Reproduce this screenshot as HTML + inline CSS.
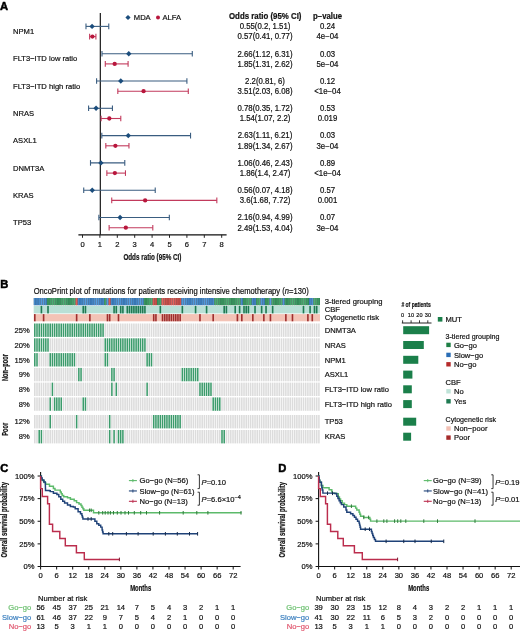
<!DOCTYPE html>
<html><head><meta charset="utf-8"><style>
html,body{margin:0;padding:0;background:#fff;}
svg{display:block;font-family:"Liberation Sans", sans-serif;will-change:transform;}
text{stroke:currentColor;stroke-width:0.2px;}
</style></head><body>
<svg width="520" height="631" viewBox="0 0 520 631">
<rect width="520" height="631" fill="#fff"/>
<text x="0.00" y="10.00" font-size="11.2" fill="#000" color="#000" font-weight="bold" style="stroke-width:0.5px">A</text>
<line x1="100.35" y1="12.90" x2="100.35" y2="234.80" stroke="#2a2a2a" stroke-width="1.3"/>
<line x1="78.40" y1="234.80" x2="226.60" y2="234.80" stroke="#111" stroke-width="1.3"/>
<line x1="82.50" y1="234.80" x2="82.50" y2="237.80" stroke="#222" stroke-width="1"/>
<text x="82.50" y="247.00" font-size="7.94" fill="#111" color="#111" text-anchor="middle" textLength="4.23" lengthAdjust="spacingAndGlyphs">0</text>
<line x1="99.90" y1="234.80" x2="99.90" y2="237.80" stroke="#222" stroke-width="1"/>
<text x="99.90" y="247.00" font-size="7.94" fill="#111" color="#111" text-anchor="middle" textLength="4.23" lengthAdjust="spacingAndGlyphs">1</text>
<line x1="117.30" y1="234.80" x2="117.30" y2="237.80" stroke="#222" stroke-width="1"/>
<text x="117.30" y="247.00" font-size="7.94" fill="#111" color="#111" text-anchor="middle" textLength="4.23" lengthAdjust="spacingAndGlyphs">2</text>
<line x1="134.70" y1="234.80" x2="134.70" y2="237.80" stroke="#222" stroke-width="1"/>
<text x="134.70" y="247.00" font-size="7.94" fill="#111" color="#111" text-anchor="middle" textLength="4.23" lengthAdjust="spacingAndGlyphs">3</text>
<line x1="152.10" y1="234.80" x2="152.10" y2="237.80" stroke="#222" stroke-width="1"/>
<text x="152.10" y="247.00" font-size="7.94" fill="#111" color="#111" text-anchor="middle" textLength="4.23" lengthAdjust="spacingAndGlyphs">4</text>
<line x1="169.50" y1="234.80" x2="169.50" y2="237.80" stroke="#222" stroke-width="1"/>
<text x="169.50" y="247.00" font-size="7.94" fill="#111" color="#111" text-anchor="middle" textLength="4.23" lengthAdjust="spacingAndGlyphs">5</text>
<line x1="186.90" y1="234.80" x2="186.90" y2="237.80" stroke="#222" stroke-width="1"/>
<text x="186.90" y="247.00" font-size="7.94" fill="#111" color="#111" text-anchor="middle" textLength="4.23" lengthAdjust="spacingAndGlyphs">6</text>
<line x1="204.30" y1="234.80" x2="204.30" y2="237.80" stroke="#222" stroke-width="1"/>
<text x="204.30" y="247.00" font-size="7.94" fill="#111" color="#111" text-anchor="middle" textLength="4.23" lengthAdjust="spacingAndGlyphs">7</text>
<line x1="221.70" y1="234.80" x2="221.70" y2="237.80" stroke="#222" stroke-width="1"/>
<text x="221.70" y="247.00" font-size="7.94" fill="#111" color="#111" text-anchor="middle" textLength="4.23" lengthAdjust="spacingAndGlyphs">8</text>
<text x="152.40" y="260.00" font-size="8.78" fill="#111" color="#111" text-anchor="middle" font-weight="bold" textLength="58" lengthAdjust="spacingAndGlyphs">Odds ratio (95% CI)</text>
<text x="229.00" y="19.30" font-size="8.15" fill="#111" color="#111" font-weight="bold" textLength="72.5" lengthAdjust="spacingAndGlyphs">Odds ratio (95% CI)</text>
<text x="313.00" y="19.30" font-size="8.15" fill="#111" color="#111" font-weight="bold" textLength="29" lengthAdjust="spacingAndGlyphs">p−value</text>
<path d="M125.40 17.50L128.00 14.90L130.60 17.50L128.00 20.10Z" fill="#1b4d7c"/>
<text x="133.80" y="20.20" font-size="7.94" fill="#111" color="#111" textLength="16.89" lengthAdjust="spacingAndGlyphs">MDA</text>
<circle cx="158" cy="17.5" r="2.0" fill="#b8163c"/>
<text x="162.50" y="20.20" font-size="7.94" fill="#111" color="#111" textLength="18.59" lengthAdjust="spacingAndGlyphs">ALFA</text>
<text x="13.00" y="34.10" font-size="7.94" fill="#111" color="#111" textLength="21.12" lengthAdjust="spacingAndGlyphs">NPM1</text>
<line x1="85.98" y1="26.40" x2="108.77" y2="26.40" stroke="#3a5d80" stroke-width="1.1"/>
<line x1="85.98" y1="23.60" x2="85.98" y2="29.20" stroke="#3a5d80" stroke-width="1.1"/>
<line x1="108.77" y1="23.60" x2="108.77" y2="29.20" stroke="#3a5d80" stroke-width="1.1"/>
<path d="M89.37 26.40L92.07 23.70L94.77 26.40L92.07 29.10Z" fill="#1b4d7c"/>
<line x1="89.63" y1="36.60" x2="95.90" y2="36.60" stroke="#c23a5c" stroke-width="1.1"/>
<line x1="89.63" y1="33.80" x2="89.63" y2="39.40" stroke="#c23a5c" stroke-width="1.1"/>
<line x1="95.90" y1="33.80" x2="95.90" y2="39.40" stroke="#c23a5c" stroke-width="1.1"/>
<circle cx="92.42" cy="36.60" r="2.15" fill="#b8163c"/>
<text x="265.00" y="29.20" font-size="8.15" fill="#111" color="#111" text-anchor="middle" textLength="50.73" lengthAdjust="spacingAndGlyphs">0.55(0.2, 1.51)</text>
<text x="265.00" y="39.40" font-size="8.15" fill="#111" color="#111" text-anchor="middle" textLength="55.07" lengthAdjust="spacingAndGlyphs">0.57(0.41, 0.77)</text>
<text x="327.50" y="29.20" font-size="8.15" fill="#111" color="#111" text-anchor="middle" textLength="15.18" lengthAdjust="spacingAndGlyphs">0.24</text>
<text x="327.50" y="39.40" font-size="8.15" fill="#111" color="#111" text-anchor="middle" textLength="21.91" lengthAdjust="spacingAndGlyphs">4e−04</text>
<text x="13.00" y="61.40" font-size="7.94" fill="#111" color="#111" textLength="64.27" lengthAdjust="spacingAndGlyphs">FLT3−ITD low ratio</text>
<line x1="101.99" y1="53.70" x2="192.29" y2="53.70" stroke="#3a5d80" stroke-width="1.1"/>
<line x1="101.99" y1="50.90" x2="101.99" y2="56.50" stroke="#3a5d80" stroke-width="1.1"/>
<line x1="192.29" y1="50.90" x2="192.29" y2="56.50" stroke="#3a5d80" stroke-width="1.1"/>
<path d="M126.08 53.70L128.78 51.00L131.48 53.70L128.78 56.40Z" fill="#1b4d7c"/>
<line x1="105.29" y1="63.90" x2="128.09" y2="63.90" stroke="#c23a5c" stroke-width="1.1"/>
<line x1="105.29" y1="61.10" x2="105.29" y2="66.70" stroke="#c23a5c" stroke-width="1.1"/>
<line x1="128.09" y1="61.10" x2="128.09" y2="66.70" stroke="#c23a5c" stroke-width="1.1"/>
<circle cx="114.69" cy="63.90" r="2.15" fill="#b8163c"/>
<text x="265.00" y="56.50" font-size="8.15" fill="#111" color="#111" text-anchor="middle" textLength="55.07" lengthAdjust="spacingAndGlyphs">2.66(1.12, 6.31)</text>
<text x="265.00" y="66.70" font-size="8.15" fill="#111" color="#111" text-anchor="middle" textLength="55.07" lengthAdjust="spacingAndGlyphs">1.85(1.31, 2.62)</text>
<text x="327.50" y="56.50" font-size="8.15" fill="#111" color="#111" text-anchor="middle" textLength="15.18" lengthAdjust="spacingAndGlyphs">0.03</text>
<text x="327.50" y="66.70" font-size="8.15" fill="#111" color="#111" text-anchor="middle" textLength="21.91" lengthAdjust="spacingAndGlyphs">5e−04</text>
<text x="13.00" y="88.70" font-size="7.94" fill="#111" color="#111" textLength="67.23" lengthAdjust="spacingAndGlyphs">FLT3−ITD high ratio</text>
<line x1="96.59" y1="81.00" x2="186.90" y2="81.00" stroke="#3a5d80" stroke-width="1.1"/>
<line x1="96.59" y1="78.20" x2="96.59" y2="83.80" stroke="#3a5d80" stroke-width="1.1"/>
<line x1="186.90" y1="78.20" x2="186.90" y2="83.80" stroke="#3a5d80" stroke-width="1.1"/>
<path d="M118.08 81.00L120.78 78.30L123.48 81.00L120.78 83.70Z" fill="#1b4d7c"/>
<line x1="117.82" y1="91.20" x2="188.29" y2="91.20" stroke="#c23a5c" stroke-width="1.1"/>
<line x1="117.82" y1="88.40" x2="117.82" y2="94.00" stroke="#c23a5c" stroke-width="1.1"/>
<line x1="188.29" y1="88.40" x2="188.29" y2="94.00" stroke="#c23a5c" stroke-width="1.1"/>
<circle cx="143.57" cy="91.20" r="2.15" fill="#b8163c"/>
<text x="265.00" y="83.80" font-size="8.15" fill="#111" color="#111" text-anchor="middle" textLength="39.89" lengthAdjust="spacingAndGlyphs">2.2(0.81, 6)</text>
<text x="265.00" y="94.00" font-size="8.15" fill="#111" color="#111" text-anchor="middle" textLength="55.07" lengthAdjust="spacingAndGlyphs">3.51(2.03, 6.08)</text>
<text x="327.50" y="83.80" font-size="8.15" fill="#111" color="#111" text-anchor="middle" textLength="15.18" lengthAdjust="spacingAndGlyphs">0.12</text>
<text x="327.50" y="94.00" font-size="8.15" fill="#111" color="#111" text-anchor="middle" textLength="26.46" lengthAdjust="spacingAndGlyphs">&lt;1e−04</text>
<text x="13.00" y="116.00" font-size="7.94" fill="#111" color="#111" textLength="21.12" lengthAdjust="spacingAndGlyphs">NRAS</text>
<line x1="88.59" y1="108.30" x2="112.43" y2="108.30" stroke="#3a5d80" stroke-width="1.1"/>
<line x1="88.59" y1="105.50" x2="88.59" y2="111.10" stroke="#3a5d80" stroke-width="1.1"/>
<line x1="112.43" y1="105.50" x2="112.43" y2="111.10" stroke="#3a5d80" stroke-width="1.1"/>
<path d="M93.37 108.30L96.07 105.60L98.77 108.30L96.07 111.00Z" fill="#1b4d7c"/>
<line x1="101.12" y1="118.50" x2="120.78" y2="118.50" stroke="#c23a5c" stroke-width="1.1"/>
<line x1="101.12" y1="115.70" x2="101.12" y2="121.30" stroke="#c23a5c" stroke-width="1.1"/>
<line x1="120.78" y1="115.70" x2="120.78" y2="121.30" stroke="#c23a5c" stroke-width="1.1"/>
<circle cx="109.30" cy="118.50" r="2.15" fill="#b8163c"/>
<text x="265.00" y="111.10" font-size="8.15" fill="#111" color="#111" text-anchor="middle" textLength="55.07" lengthAdjust="spacingAndGlyphs">0.78(0.35, 1.72)</text>
<text x="265.00" y="121.30" font-size="8.15" fill="#111" color="#111" text-anchor="middle" textLength="50.73" lengthAdjust="spacingAndGlyphs">1.54(1.07, 2.2)</text>
<text x="327.50" y="111.10" font-size="8.15" fill="#111" color="#111" text-anchor="middle" textLength="15.18" lengthAdjust="spacingAndGlyphs">0.53</text>
<text x="327.50" y="121.30" font-size="8.15" fill="#111" color="#111" text-anchor="middle" textLength="19.52" lengthAdjust="spacingAndGlyphs">0.019</text>
<text x="13.00" y="143.30" font-size="7.94" fill="#111" color="#111" textLength="23.66" lengthAdjust="spacingAndGlyphs">ASXL1</text>
<line x1="101.81" y1="135.60" x2="190.55" y2="135.60" stroke="#3a5d80" stroke-width="1.1"/>
<line x1="101.81" y1="132.80" x2="101.81" y2="138.40" stroke="#3a5d80" stroke-width="1.1"/>
<line x1="190.55" y1="132.80" x2="190.55" y2="138.40" stroke="#3a5d80" stroke-width="1.1"/>
<path d="M125.56 135.60L128.26 132.90L130.96 135.60L128.26 138.30Z" fill="#1b4d7c"/>
<line x1="105.82" y1="145.80" x2="128.96" y2="145.80" stroke="#c23a5c" stroke-width="1.1"/>
<line x1="105.82" y1="143.00" x2="105.82" y2="148.60" stroke="#c23a5c" stroke-width="1.1"/>
<line x1="128.96" y1="143.00" x2="128.96" y2="148.60" stroke="#c23a5c" stroke-width="1.1"/>
<circle cx="115.39" cy="145.80" r="2.15" fill="#b8163c"/>
<text x="265.00" y="138.40" font-size="8.15" fill="#111" color="#111" text-anchor="middle" textLength="54.49" lengthAdjust="spacingAndGlyphs">2.63(1.11, 6.21)</text>
<text x="265.00" y="148.60" font-size="8.15" fill="#111" color="#111" text-anchor="middle" textLength="55.07" lengthAdjust="spacingAndGlyphs">1.89(1.34, 2.67)</text>
<text x="327.50" y="138.40" font-size="8.15" fill="#111" color="#111" text-anchor="middle" textLength="15.18" lengthAdjust="spacingAndGlyphs">0.03</text>
<text x="327.50" y="148.60" font-size="8.15" fill="#111" color="#111" text-anchor="middle" textLength="21.91" lengthAdjust="spacingAndGlyphs">3e−04</text>
<text x="13.00" y="170.60" font-size="7.94" fill="#111" color="#111" textLength="31.25" lengthAdjust="spacingAndGlyphs">DNMT3A</text>
<line x1="90.50" y1="162.90" x2="124.78" y2="162.90" stroke="#3a5d80" stroke-width="1.1"/>
<line x1="90.50" y1="160.10" x2="90.50" y2="165.70" stroke="#3a5d80" stroke-width="1.1"/>
<line x1="124.78" y1="160.10" x2="124.78" y2="165.70" stroke="#3a5d80" stroke-width="1.1"/>
<path d="M98.24 162.90L100.94 160.20L103.64 162.90L100.94 165.60Z" fill="#1b4d7c"/>
<line x1="106.86" y1="173.10" x2="125.48" y2="173.10" stroke="#c23a5c" stroke-width="1.1"/>
<line x1="106.86" y1="170.30" x2="106.86" y2="175.90" stroke="#c23a5c" stroke-width="1.1"/>
<line x1="125.48" y1="170.30" x2="125.48" y2="175.90" stroke="#c23a5c" stroke-width="1.1"/>
<circle cx="114.86" cy="173.10" r="2.15" fill="#b8163c"/>
<text x="265.00" y="165.70" font-size="8.15" fill="#111" color="#111" text-anchor="middle" textLength="55.07" lengthAdjust="spacingAndGlyphs">1.06(0.46, 2.43)</text>
<text x="265.00" y="175.90" font-size="8.15" fill="#111" color="#111" text-anchor="middle" textLength="50.73" lengthAdjust="spacingAndGlyphs">1.86(1.4, 2.47)</text>
<text x="327.50" y="165.70" font-size="8.15" fill="#111" color="#111" text-anchor="middle" textLength="15.18" lengthAdjust="spacingAndGlyphs">0.89</text>
<text x="327.50" y="175.90" font-size="8.15" fill="#111" color="#111" text-anchor="middle" textLength="26.46" lengthAdjust="spacingAndGlyphs">&lt;1e−04</text>
<text x="13.00" y="197.90" font-size="7.94" fill="#111" color="#111" textLength="20.7" lengthAdjust="spacingAndGlyphs">KRAS</text>
<line x1="83.72" y1="190.20" x2="155.23" y2="190.20" stroke="#3a5d80" stroke-width="1.1"/>
<line x1="83.72" y1="187.40" x2="83.72" y2="193.00" stroke="#3a5d80" stroke-width="1.1"/>
<line x1="155.23" y1="187.40" x2="155.23" y2="193.00" stroke="#3a5d80" stroke-width="1.1"/>
<path d="M89.54 190.20L92.24 187.50L94.94 190.20L92.24 192.90Z" fill="#1b4d7c"/>
<line x1="111.73" y1="200.40" x2="216.83" y2="200.40" stroke="#c23a5c" stroke-width="1.1"/>
<line x1="111.73" y1="197.60" x2="111.73" y2="203.20" stroke="#c23a5c" stroke-width="1.1"/>
<line x1="216.83" y1="197.60" x2="216.83" y2="203.20" stroke="#c23a5c" stroke-width="1.1"/>
<circle cx="145.14" cy="200.40" r="2.15" fill="#b8163c"/>
<text x="265.00" y="193.00" font-size="8.15" fill="#111" color="#111" text-anchor="middle" textLength="55.07" lengthAdjust="spacingAndGlyphs">0.56(0.07, 4.18)</text>
<text x="265.00" y="203.20" font-size="8.15" fill="#111" color="#111" text-anchor="middle" textLength="50.73" lengthAdjust="spacingAndGlyphs">3.6(1.68, 7.72)</text>
<text x="327.50" y="193.00" font-size="8.15" fill="#111" color="#111" text-anchor="middle" textLength="15.18" lengthAdjust="spacingAndGlyphs">0.57</text>
<text x="327.50" y="203.20" font-size="8.15" fill="#111" color="#111" text-anchor="middle" textLength="19.52" lengthAdjust="spacingAndGlyphs">0.001</text>
<text x="13.00" y="225.20" font-size="7.94" fill="#111" color="#111" textLength="18.17" lengthAdjust="spacingAndGlyphs">TP53</text>
<line x1="98.86" y1="217.50" x2="169.33" y2="217.50" stroke="#3a5d80" stroke-width="1.1"/>
<line x1="98.86" y1="214.70" x2="98.86" y2="220.30" stroke="#3a5d80" stroke-width="1.1"/>
<line x1="169.33" y1="214.70" x2="169.33" y2="220.30" stroke="#3a5d80" stroke-width="1.1"/>
<path d="M117.38 217.50L120.08 214.80L122.78 217.50L120.08 220.20Z" fill="#1b4d7c"/>
<line x1="109.12" y1="227.70" x2="152.80" y2="227.70" stroke="#c23a5c" stroke-width="1.1"/>
<line x1="109.12" y1="224.90" x2="109.12" y2="230.50" stroke="#c23a5c" stroke-width="1.1"/>
<line x1="152.80" y1="224.90" x2="152.80" y2="230.50" stroke="#c23a5c" stroke-width="1.1"/>
<circle cx="125.83" cy="227.70" r="2.15" fill="#b8163c"/>
<text x="265.00" y="220.30" font-size="8.15" fill="#111" color="#111" text-anchor="middle" textLength="55.07" lengthAdjust="spacingAndGlyphs">2.16(0.94, 4.99)</text>
<text x="265.00" y="230.50" font-size="8.15" fill="#111" color="#111" text-anchor="middle" textLength="55.07" lengthAdjust="spacingAndGlyphs">2.49(1.53, 4.04)</text>
<text x="327.50" y="220.30" font-size="8.15" fill="#111" color="#111" text-anchor="middle" textLength="15.18" lengthAdjust="spacingAndGlyphs">0.07</text>
<text x="327.50" y="230.50" font-size="8.15" fill="#111" color="#111" text-anchor="middle" textLength="21.91" lengthAdjust="spacingAndGlyphs">3e−04</text>
<text x="0.30" y="287.60" font-size="11.2" fill="#000" color="#000" font-weight="bold" style="stroke-width:0.5px">B</text>
<text x="33.70" y="294.00" font-size="8.36" fill="#111" color="#111" textLength="275" lengthAdjust="spacingAndGlyphs">OncoPrint plot of mutations for patients receiving intensive chemotherapy (<tspan font-style="italic">n</tspan>=130)</text>
<rect x="33.70" y="298.00" width="2.20" height="7.20" fill="#24578f"/>
<rect x="34.25" y="298.00" width="1.10" height="7.20" fill="#559ee0"/>
<rect x="35.90" y="298.00" width="2.20" height="7.20" fill="#24578f"/>
<rect x="36.45" y="298.00" width="1.10" height="7.20" fill="#559ee0"/>
<rect x="38.10" y="298.00" width="2.20" height="7.20" fill="#24578f"/>
<rect x="38.65" y="298.00" width="1.10" height="7.20" fill="#559ee0"/>
<rect x="40.31" y="298.00" width="2.20" height="7.20" fill="#24578f"/>
<rect x="40.86" y="298.00" width="1.10" height="7.20" fill="#559ee0"/>
<rect x="42.51" y="298.00" width="2.20" height="7.20" fill="#24578f"/>
<rect x="43.06" y="298.00" width="1.10" height="7.20" fill="#559ee0"/>
<rect x="44.71" y="298.00" width="2.20" height="7.20" fill="#24578f"/>
<rect x="45.26" y="298.00" width="1.10" height="7.20" fill="#559ee0"/>
<rect x="46.91" y="298.00" width="2.20" height="7.20" fill="#1f6a42"/>
<rect x="47.46" y="298.00" width="1.10" height="7.20" fill="#4cb072"/>
<rect x="49.12" y="298.00" width="2.20" height="7.20" fill="#1f6a42"/>
<rect x="49.67" y="298.00" width="1.10" height="7.20" fill="#4cb072"/>
<rect x="51.32" y="298.00" width="2.20" height="7.20" fill="#1f6a42"/>
<rect x="51.87" y="298.00" width="1.10" height="7.20" fill="#4cb072"/>
<rect x="53.52" y="298.00" width="2.20" height="7.20" fill="#1f6a42"/>
<rect x="54.07" y="298.00" width="1.10" height="7.20" fill="#4cb072"/>
<rect x="55.72" y="298.00" width="2.20" height="7.20" fill="#1f6a42"/>
<rect x="56.27" y="298.00" width="1.10" height="7.20" fill="#4cb072"/>
<rect x="57.93" y="298.00" width="2.20" height="7.20" fill="#1f6a42"/>
<rect x="58.48" y="298.00" width="1.10" height="7.20" fill="#4cb072"/>
<rect x="60.13" y="298.00" width="2.20" height="7.20" fill="#1f6a42"/>
<rect x="60.68" y="298.00" width="1.10" height="7.20" fill="#4cb072"/>
<rect x="62.33" y="298.00" width="2.20" height="7.20" fill="#1f6a42"/>
<rect x="62.88" y="298.00" width="1.10" height="7.20" fill="#4cb072"/>
<rect x="64.53" y="298.00" width="2.20" height="7.20" fill="#1f6a42"/>
<rect x="65.08" y="298.00" width="1.10" height="7.20" fill="#4cb072"/>
<rect x="66.73" y="298.00" width="2.20" height="7.20" fill="#1f6a42"/>
<rect x="67.28" y="298.00" width="1.10" height="7.20" fill="#4cb072"/>
<rect x="68.94" y="298.00" width="2.20" height="7.20" fill="#1f6a42"/>
<rect x="69.49" y="298.00" width="1.10" height="7.20" fill="#4cb072"/>
<rect x="71.14" y="298.00" width="2.20" height="7.20" fill="#1f6a42"/>
<rect x="71.69" y="298.00" width="1.10" height="7.20" fill="#4cb072"/>
<rect x="73.34" y="298.00" width="2.20" height="7.20" fill="#1f6a42"/>
<rect x="73.89" y="298.00" width="1.10" height="7.20" fill="#4cb072"/>
<rect x="75.54" y="298.00" width="2.20" height="7.20" fill="#8e3030"/>
<rect x="76.09" y="298.00" width="1.10" height="7.20" fill="#e6645c"/>
<rect x="77.75" y="298.00" width="2.20" height="7.20" fill="#24578f"/>
<rect x="78.30" y="298.00" width="1.10" height="7.20" fill="#559ee0"/>
<rect x="79.95" y="298.00" width="2.20" height="7.20" fill="#24578f"/>
<rect x="80.50" y="298.00" width="1.10" height="7.20" fill="#559ee0"/>
<rect x="82.15" y="298.00" width="2.20" height="7.20" fill="#24578f"/>
<rect x="82.70" y="298.00" width="1.10" height="7.20" fill="#559ee0"/>
<rect x="84.35" y="298.00" width="2.20" height="7.20" fill="#24578f"/>
<rect x="84.90" y="298.00" width="1.10" height="7.20" fill="#559ee0"/>
<rect x="86.56" y="298.00" width="2.20" height="7.20" fill="#24578f"/>
<rect x="87.11" y="298.00" width="1.10" height="7.20" fill="#559ee0"/>
<rect x="88.76" y="298.00" width="2.20" height="7.20" fill="#24578f"/>
<rect x="89.31" y="298.00" width="1.10" height="7.20" fill="#559ee0"/>
<rect x="90.96" y="298.00" width="2.20" height="7.20" fill="#24578f"/>
<rect x="91.51" y="298.00" width="1.10" height="7.20" fill="#559ee0"/>
<rect x="93.16" y="298.00" width="2.20" height="7.20" fill="#24578f"/>
<rect x="93.71" y="298.00" width="1.10" height="7.20" fill="#559ee0"/>
<rect x="95.36" y="298.00" width="2.20" height="7.20" fill="#24578f"/>
<rect x="95.91" y="298.00" width="1.10" height="7.20" fill="#559ee0"/>
<rect x="97.57" y="298.00" width="2.20" height="7.20" fill="#24578f"/>
<rect x="98.12" y="298.00" width="1.10" height="7.20" fill="#559ee0"/>
<rect x="99.77" y="298.00" width="2.20" height="7.20" fill="#24578f"/>
<rect x="100.32" y="298.00" width="1.10" height="7.20" fill="#559ee0"/>
<rect x="101.97" y="298.00" width="2.20" height="7.20" fill="#24578f"/>
<rect x="102.52" y="298.00" width="1.10" height="7.20" fill="#559ee0"/>
<rect x="104.17" y="298.00" width="2.20" height="7.20" fill="#1f6a42"/>
<rect x="104.72" y="298.00" width="1.10" height="7.20" fill="#4cb072"/>
<rect x="106.38" y="298.00" width="2.20" height="7.20" fill="#24578f"/>
<rect x="106.93" y="298.00" width="1.10" height="7.20" fill="#559ee0"/>
<rect x="108.58" y="298.00" width="2.20" height="7.20" fill="#8e3030"/>
<rect x="109.13" y="298.00" width="1.10" height="7.20" fill="#e6645c"/>
<rect x="110.78" y="298.00" width="2.20" height="7.20" fill="#24578f"/>
<rect x="111.33" y="298.00" width="1.10" height="7.20" fill="#559ee0"/>
<rect x="112.98" y="298.00" width="2.20" height="7.20" fill="#24578f"/>
<rect x="113.53" y="298.00" width="1.10" height="7.20" fill="#559ee0"/>
<rect x="115.19" y="298.00" width="2.20" height="7.20" fill="#24578f"/>
<rect x="115.74" y="298.00" width="1.10" height="7.20" fill="#559ee0"/>
<rect x="117.39" y="298.00" width="2.20" height="7.20" fill="#24578f"/>
<rect x="117.94" y="298.00" width="1.10" height="7.20" fill="#559ee0"/>
<rect x="119.59" y="298.00" width="2.20" height="7.20" fill="#24578f"/>
<rect x="120.14" y="298.00" width="1.10" height="7.20" fill="#559ee0"/>
<rect x="121.79" y="298.00" width="2.20" height="7.20" fill="#24578f"/>
<rect x="122.34" y="298.00" width="1.10" height="7.20" fill="#559ee0"/>
<rect x="123.99" y="298.00" width="2.20" height="7.20" fill="#24578f"/>
<rect x="124.54" y="298.00" width="1.10" height="7.20" fill="#559ee0"/>
<rect x="126.20" y="298.00" width="2.20" height="7.20" fill="#24578f"/>
<rect x="126.75" y="298.00" width="1.10" height="7.20" fill="#559ee0"/>
<rect x="128.40" y="298.00" width="2.20" height="7.20" fill="#24578f"/>
<rect x="128.95" y="298.00" width="1.10" height="7.20" fill="#559ee0"/>
<rect x="130.60" y="298.00" width="2.20" height="7.20" fill="#24578f"/>
<rect x="131.15" y="298.00" width="1.10" height="7.20" fill="#559ee0"/>
<rect x="132.80" y="298.00" width="2.20" height="7.20" fill="#24578f"/>
<rect x="133.35" y="298.00" width="1.10" height="7.20" fill="#559ee0"/>
<rect x="135.01" y="298.00" width="2.20" height="7.20" fill="#24578f"/>
<rect x="135.56" y="298.00" width="1.10" height="7.20" fill="#559ee0"/>
<rect x="137.21" y="298.00" width="2.20" height="7.20" fill="#24578f"/>
<rect x="137.76" y="298.00" width="1.10" height="7.20" fill="#559ee0"/>
<rect x="139.41" y="298.00" width="2.20" height="7.20" fill="#24578f"/>
<rect x="139.96" y="298.00" width="1.10" height="7.20" fill="#559ee0"/>
<rect x="141.61" y="298.00" width="2.20" height="7.20" fill="#24578f"/>
<rect x="142.16" y="298.00" width="1.10" height="7.20" fill="#559ee0"/>
<rect x="143.82" y="298.00" width="2.20" height="7.20" fill="#1f6a42"/>
<rect x="144.37" y="298.00" width="1.10" height="7.20" fill="#4cb072"/>
<rect x="146.02" y="298.00" width="2.20" height="7.20" fill="#1f6a42"/>
<rect x="146.57" y="298.00" width="1.10" height="7.20" fill="#4cb072"/>
<rect x="148.22" y="298.00" width="2.20" height="7.20" fill="#1f6a42"/>
<rect x="148.77" y="298.00" width="1.10" height="7.20" fill="#4cb072"/>
<rect x="150.42" y="298.00" width="2.20" height="7.20" fill="#1f6a42"/>
<rect x="150.97" y="298.00" width="1.10" height="7.20" fill="#4cb072"/>
<rect x="152.62" y="298.00" width="2.20" height="7.20" fill="#8e3030"/>
<rect x="153.17" y="298.00" width="1.10" height="7.20" fill="#e6645c"/>
<rect x="154.83" y="298.00" width="2.20" height="7.20" fill="#8e3030"/>
<rect x="155.38" y="298.00" width="1.10" height="7.20" fill="#e6645c"/>
<rect x="157.03" y="298.00" width="2.20" height="7.20" fill="#1f6a42"/>
<rect x="157.58" y="298.00" width="1.10" height="7.20" fill="#4cb072"/>
<rect x="159.23" y="298.00" width="2.20" height="7.20" fill="#1f6a42"/>
<rect x="159.78" y="298.00" width="1.10" height="7.20" fill="#4cb072"/>
<rect x="161.43" y="298.00" width="2.20" height="7.20" fill="#8e3030"/>
<rect x="161.98" y="298.00" width="1.10" height="7.20" fill="#e6645c"/>
<rect x="163.64" y="298.00" width="2.20" height="7.20" fill="#8e3030"/>
<rect x="164.19" y="298.00" width="1.10" height="7.20" fill="#e6645c"/>
<rect x="165.84" y="298.00" width="2.20" height="7.20" fill="#8e3030"/>
<rect x="166.39" y="298.00" width="1.10" height="7.20" fill="#e6645c"/>
<rect x="168.04" y="298.00" width="2.20" height="7.20" fill="#8e3030"/>
<rect x="168.59" y="298.00" width="1.10" height="7.20" fill="#e6645c"/>
<rect x="170.24" y="298.00" width="2.20" height="7.20" fill="#8e3030"/>
<rect x="170.79" y="298.00" width="1.10" height="7.20" fill="#e6645c"/>
<rect x="172.45" y="298.00" width="2.20" height="7.20" fill="#8e3030"/>
<rect x="173.00" y="298.00" width="1.10" height="7.20" fill="#e6645c"/>
<rect x="174.65" y="298.00" width="2.20" height="7.20" fill="#8e3030"/>
<rect x="175.20" y="298.00" width="1.10" height="7.20" fill="#e6645c"/>
<rect x="176.85" y="298.00" width="2.20" height="7.20" fill="#8e3030"/>
<rect x="177.40" y="298.00" width="1.10" height="7.20" fill="#e6645c"/>
<rect x="179.05" y="298.00" width="2.20" height="7.20" fill="#8e3030"/>
<rect x="179.60" y="298.00" width="1.10" height="7.20" fill="#e6645c"/>
<rect x="181.25" y="298.00" width="2.20" height="7.20" fill="#24578f"/>
<rect x="181.80" y="298.00" width="1.10" height="7.20" fill="#559ee0"/>
<rect x="183.46" y="298.00" width="2.20" height="7.20" fill="#24578f"/>
<rect x="184.01" y="298.00" width="1.10" height="7.20" fill="#559ee0"/>
<rect x="185.66" y="298.00" width="2.20" height="7.20" fill="#24578f"/>
<rect x="186.21" y="298.00" width="1.10" height="7.20" fill="#559ee0"/>
<rect x="187.86" y="298.00" width="2.20" height="7.20" fill="#24578f"/>
<rect x="188.41" y="298.00" width="1.10" height="7.20" fill="#559ee0"/>
<rect x="190.06" y="298.00" width="2.20" height="7.20" fill="#24578f"/>
<rect x="190.61" y="298.00" width="1.10" height="7.20" fill="#559ee0"/>
<rect x="192.27" y="298.00" width="2.20" height="7.20" fill="#24578f"/>
<rect x="192.82" y="298.00" width="1.10" height="7.20" fill="#559ee0"/>
<rect x="194.47" y="298.00" width="2.20" height="7.20" fill="#24578f"/>
<rect x="195.02" y="298.00" width="1.10" height="7.20" fill="#559ee0"/>
<rect x="196.67" y="298.00" width="2.20" height="7.20" fill="#24578f"/>
<rect x="197.22" y="298.00" width="1.10" height="7.20" fill="#559ee0"/>
<rect x="198.87" y="298.00" width="2.20" height="7.20" fill="#24578f"/>
<rect x="199.42" y="298.00" width="1.10" height="7.20" fill="#559ee0"/>
<rect x="201.08" y="298.00" width="2.20" height="7.20" fill="#24578f"/>
<rect x="201.63" y="298.00" width="1.10" height="7.20" fill="#559ee0"/>
<rect x="203.28" y="298.00" width="2.20" height="7.20" fill="#24578f"/>
<rect x="203.83" y="298.00" width="1.10" height="7.20" fill="#559ee0"/>
<rect x="205.48" y="298.00" width="2.20" height="7.20" fill="#24578f"/>
<rect x="206.03" y="298.00" width="1.10" height="7.20" fill="#559ee0"/>
<rect x="207.68" y="298.00" width="2.20" height="7.20" fill="#24578f"/>
<rect x="208.23" y="298.00" width="1.10" height="7.20" fill="#559ee0"/>
<rect x="209.88" y="298.00" width="2.20" height="7.20" fill="#24578f"/>
<rect x="210.43" y="298.00" width="1.10" height="7.20" fill="#559ee0"/>
<rect x="212.09" y="298.00" width="2.20" height="7.20" fill="#24578f"/>
<rect x="212.64" y="298.00" width="1.10" height="7.20" fill="#559ee0"/>
<rect x="214.29" y="298.00" width="2.20" height="7.20" fill="#1f6a42"/>
<rect x="214.84" y="298.00" width="1.10" height="7.20" fill="#4cb072"/>
<rect x="216.49" y="298.00" width="2.20" height="7.20" fill="#1f6a42"/>
<rect x="217.04" y="298.00" width="1.10" height="7.20" fill="#4cb072"/>
<rect x="218.69" y="298.00" width="2.20" height="7.20" fill="#1f6a42"/>
<rect x="219.24" y="298.00" width="1.10" height="7.20" fill="#4cb072"/>
<rect x="220.90" y="298.00" width="2.20" height="7.20" fill="#1f6a42"/>
<rect x="221.45" y="298.00" width="1.10" height="7.20" fill="#4cb072"/>
<rect x="223.10" y="298.00" width="2.20" height="7.20" fill="#1f6a42"/>
<rect x="223.65" y="298.00" width="1.10" height="7.20" fill="#4cb072"/>
<rect x="225.30" y="298.00" width="2.20" height="7.20" fill="#1f6a42"/>
<rect x="225.85" y="298.00" width="1.10" height="7.20" fill="#4cb072"/>
<rect x="227.50" y="298.00" width="2.20" height="7.20" fill="#1f6a42"/>
<rect x="228.05" y="298.00" width="1.10" height="7.20" fill="#4cb072"/>
<rect x="229.71" y="298.00" width="2.20" height="7.20" fill="#1f6a42"/>
<rect x="230.26" y="298.00" width="1.10" height="7.20" fill="#4cb072"/>
<rect x="231.91" y="298.00" width="2.20" height="7.20" fill="#1f6a42"/>
<rect x="232.46" y="298.00" width="1.10" height="7.20" fill="#4cb072"/>
<rect x="234.11" y="298.00" width="2.20" height="7.20" fill="#1f6a42"/>
<rect x="234.66" y="298.00" width="1.10" height="7.20" fill="#4cb072"/>
<rect x="236.31" y="298.00" width="2.20" height="7.20" fill="#1f6a42"/>
<rect x="236.86" y="298.00" width="1.10" height="7.20" fill="#4cb072"/>
<rect x="238.51" y="298.00" width="2.20" height="7.20" fill="#1f6a42"/>
<rect x="239.06" y="298.00" width="1.10" height="7.20" fill="#4cb072"/>
<rect x="240.72" y="298.00" width="2.20" height="7.20" fill="#24578f"/>
<rect x="241.27" y="298.00" width="1.10" height="7.20" fill="#559ee0"/>
<rect x="242.92" y="298.00" width="2.20" height="7.20" fill="#1f6a42"/>
<rect x="243.47" y="298.00" width="1.10" height="7.20" fill="#4cb072"/>
<rect x="245.12" y="298.00" width="2.20" height="7.20" fill="#1f6a42"/>
<rect x="245.67" y="298.00" width="1.10" height="7.20" fill="#4cb072"/>
<rect x="247.32" y="298.00" width="2.20" height="7.20" fill="#1f6a42"/>
<rect x="247.87" y="298.00" width="1.10" height="7.20" fill="#4cb072"/>
<rect x="249.53" y="298.00" width="2.20" height="7.20" fill="#1f6a42"/>
<rect x="250.08" y="298.00" width="1.10" height="7.20" fill="#4cb072"/>
<rect x="251.73" y="298.00" width="2.20" height="7.20" fill="#24578f"/>
<rect x="252.28" y="298.00" width="1.10" height="7.20" fill="#559ee0"/>
<rect x="253.93" y="298.00" width="2.20" height="7.20" fill="#24578f"/>
<rect x="254.48" y="298.00" width="1.10" height="7.20" fill="#559ee0"/>
<rect x="256.13" y="298.00" width="2.20" height="7.20" fill="#1f6a42"/>
<rect x="256.68" y="298.00" width="1.10" height="7.20" fill="#4cb072"/>
<rect x="258.34" y="298.00" width="2.20" height="7.20" fill="#1f6a42"/>
<rect x="258.89" y="298.00" width="1.10" height="7.20" fill="#4cb072"/>
<rect x="260.54" y="298.00" width="2.20" height="7.20" fill="#24578f"/>
<rect x="261.09" y="298.00" width="1.10" height="7.20" fill="#559ee0"/>
<rect x="262.74" y="298.00" width="2.20" height="7.20" fill="#24578f"/>
<rect x="263.29" y="298.00" width="1.10" height="7.20" fill="#559ee0"/>
<rect x="264.94" y="298.00" width="2.20" height="7.20" fill="#1f6a42"/>
<rect x="265.49" y="298.00" width="1.10" height="7.20" fill="#4cb072"/>
<rect x="267.14" y="298.00" width="2.20" height="7.20" fill="#1f6a42"/>
<rect x="267.69" y="298.00" width="1.10" height="7.20" fill="#4cb072"/>
<rect x="269.35" y="298.00" width="2.20" height="7.20" fill="#24578f"/>
<rect x="269.90" y="298.00" width="1.10" height="7.20" fill="#559ee0"/>
<rect x="271.55" y="298.00" width="2.20" height="7.20" fill="#1f6a42"/>
<rect x="272.10" y="298.00" width="1.10" height="7.20" fill="#4cb072"/>
<rect x="273.75" y="298.00" width="2.20" height="7.20" fill="#1f6a42"/>
<rect x="274.30" y="298.00" width="1.10" height="7.20" fill="#4cb072"/>
<rect x="275.95" y="298.00" width="2.20" height="7.20" fill="#1f6a42"/>
<rect x="276.50" y="298.00" width="1.10" height="7.20" fill="#4cb072"/>
<rect x="278.16" y="298.00" width="2.20" height="7.20" fill="#1f6a42"/>
<rect x="278.71" y="298.00" width="1.10" height="7.20" fill="#4cb072"/>
<rect x="280.36" y="298.00" width="2.20" height="7.20" fill="#1f6a42"/>
<rect x="280.91" y="298.00" width="1.10" height="7.20" fill="#4cb072"/>
<rect x="282.56" y="298.00" width="2.20" height="7.20" fill="#24578f"/>
<rect x="283.11" y="298.00" width="1.10" height="7.20" fill="#559ee0"/>
<rect x="284.76" y="298.00" width="2.20" height="7.20" fill="#1f6a42"/>
<rect x="285.31" y="298.00" width="1.10" height="7.20" fill="#4cb072"/>
<rect x="286.97" y="298.00" width="2.20" height="7.20" fill="#1f6a42"/>
<rect x="287.52" y="298.00" width="1.10" height="7.20" fill="#4cb072"/>
<rect x="289.17" y="298.00" width="2.20" height="7.20" fill="#1f6a42"/>
<rect x="289.72" y="298.00" width="1.10" height="7.20" fill="#4cb072"/>
<rect x="291.37" y="298.00" width="2.20" height="7.20" fill="#1f6a42"/>
<rect x="291.92" y="298.00" width="1.10" height="7.20" fill="#4cb072"/>
<rect x="293.57" y="298.00" width="2.20" height="7.20" fill="#1f6a42"/>
<rect x="294.12" y="298.00" width="1.10" height="7.20" fill="#4cb072"/>
<rect x="295.77" y="298.00" width="2.20" height="7.20" fill="#1f6a42"/>
<rect x="296.32" y="298.00" width="1.10" height="7.20" fill="#4cb072"/>
<rect x="297.98" y="298.00" width="2.20" height="7.20" fill="#1f6a42"/>
<rect x="298.53" y="298.00" width="1.10" height="7.20" fill="#4cb072"/>
<rect x="300.18" y="298.00" width="2.20" height="7.20" fill="#1f6a42"/>
<rect x="300.73" y="298.00" width="1.10" height="7.20" fill="#4cb072"/>
<rect x="302.38" y="298.00" width="2.20" height="7.20" fill="#1f6a42"/>
<rect x="302.93" y="298.00" width="1.10" height="7.20" fill="#4cb072"/>
<rect x="304.58" y="298.00" width="2.20" height="7.20" fill="#1f6a42"/>
<rect x="305.13" y="298.00" width="1.10" height="7.20" fill="#4cb072"/>
<rect x="306.79" y="298.00" width="2.20" height="7.20" fill="#1f6a42"/>
<rect x="307.34" y="298.00" width="1.10" height="7.20" fill="#4cb072"/>
<rect x="308.99" y="298.00" width="2.20" height="7.20" fill="#24578f"/>
<rect x="309.54" y="298.00" width="1.10" height="7.20" fill="#559ee0"/>
<rect x="311.19" y="298.00" width="2.20" height="7.20" fill="#24578f"/>
<rect x="311.74" y="298.00" width="1.10" height="7.20" fill="#559ee0"/>
<rect x="313.39" y="298.00" width="2.20" height="7.20" fill="#1f6a42"/>
<rect x="313.94" y="298.00" width="1.10" height="7.20" fill="#4cb072"/>
<rect x="315.60" y="298.00" width="2.20" height="7.20" fill="#1f6a42"/>
<rect x="316.15" y="298.00" width="1.10" height="7.20" fill="#4cb072"/>
<rect x="317.80" y="298.00" width="2.20" height="7.20" fill="#1f6a42"/>
<rect x="318.35" y="298.00" width="1.10" height="7.20" fill="#4cb072"/>
<rect x="33.70" y="305.90" width="286.30" height="7.50" fill="#b9e0d6"/>
<rect x="33.70" y="314.10" width="286.30" height="7.20" fill="#f3c3b6"/>
<rect x="34.00" y="314.10" width="1.60" height="7.20" fill="#9e2d2d"/>
<rect x="40.61" y="305.90" width="1.60" height="7.50" fill="#1f7a52"/>
<rect x="42.81" y="314.10" width="1.60" height="7.20" fill="#9e2d2d"/>
<rect x="47.21" y="305.90" width="1.60" height="7.50" fill="#1f7a52"/>
<rect x="75.84" y="314.10" width="1.60" height="7.20" fill="#9e2d2d"/>
<rect x="82.45" y="305.90" width="1.60" height="7.50" fill="#1f7a52"/>
<rect x="84.65" y="305.90" width="1.60" height="7.50" fill="#1f7a52"/>
<rect x="89.06" y="314.10" width="1.60" height="7.20" fill="#9e2d2d"/>
<rect x="106.68" y="314.10" width="1.60" height="7.20" fill="#9e2d2d"/>
<rect x="108.88" y="314.10" width="1.60" height="7.20" fill="#9e2d2d"/>
<rect x="113.28" y="305.90" width="1.60" height="7.50" fill="#1f7a52"/>
<rect x="115.49" y="305.90" width="1.60" height="7.50" fill="#1f7a52"/>
<rect x="117.69" y="314.10" width="1.60" height="7.20" fill="#9e2d2d"/>
<rect x="119.89" y="305.90" width="1.60" height="7.50" fill="#1f7a52"/>
<rect x="122.09" y="305.90" width="1.60" height="7.50" fill="#1f7a52"/>
<rect x="126.50" y="305.90" width="1.60" height="7.50" fill="#1f7a52"/>
<rect x="128.70" y="305.90" width="1.60" height="7.50" fill="#1f7a52"/>
<rect x="130.90" y="305.90" width="1.60" height="7.50" fill="#1f7a52"/>
<rect x="133.10" y="305.90" width="1.60" height="7.50" fill="#1f7a52"/>
<rect x="135.31" y="305.90" width="1.60" height="7.50" fill="#1f7a52"/>
<rect x="137.51" y="305.90" width="1.60" height="7.50" fill="#1f7a52"/>
<rect x="139.71" y="305.90" width="1.60" height="7.50" fill="#1f7a52"/>
<rect x="141.91" y="305.90" width="1.60" height="7.50" fill="#1f7a52"/>
<rect x="144.12" y="305.90" width="1.60" height="7.50" fill="#1f7a52"/>
<rect x="152.92" y="314.10" width="1.60" height="7.20" fill="#9e2d2d"/>
<rect x="155.13" y="314.10" width="1.60" height="7.20" fill="#9e2d2d"/>
<rect x="159.53" y="305.90" width="1.60" height="7.50" fill="#1f7a52"/>
<rect x="161.73" y="314.10" width="1.60" height="7.20" fill="#9e2d2d"/>
<rect x="163.94" y="314.10" width="1.60" height="7.20" fill="#9e2d2d"/>
<rect x="166.14" y="314.10" width="1.60" height="7.20" fill="#9e2d2d"/>
<rect x="168.34" y="314.10" width="1.60" height="7.20" fill="#9e2d2d"/>
<rect x="170.54" y="314.10" width="1.60" height="7.20" fill="#9e2d2d"/>
<rect x="172.75" y="314.10" width="1.60" height="7.20" fill="#9e2d2d"/>
<rect x="174.95" y="314.10" width="1.60" height="7.20" fill="#9e2d2d"/>
<rect x="177.15" y="314.10" width="1.60" height="7.20" fill="#9e2d2d"/>
<rect x="179.35" y="314.10" width="1.60" height="7.20" fill="#9e2d2d"/>
<rect x="181.55" y="305.90" width="1.60" height="7.50" fill="#1f7a52"/>
<rect x="194.77" y="305.90" width="1.60" height="7.50" fill="#1f7a52"/>
<rect x="199.17" y="314.10" width="1.60" height="7.20" fill="#9e2d2d"/>
<rect x="205.78" y="305.90" width="1.60" height="7.50" fill="#1f7a52"/>
<rect x="212.39" y="314.10" width="1.60" height="7.20" fill="#9e2d2d"/>
<rect x="223.40" y="305.90" width="1.60" height="7.50" fill="#1f7a52"/>
<rect x="225.60" y="305.90" width="1.60" height="7.50" fill="#1f7a52"/>
<rect x="234.41" y="305.90" width="1.60" height="7.50" fill="#1f7a52"/>
<rect x="236.61" y="314.10" width="1.60" height="7.20" fill="#9e2d2d"/>
<rect x="238.81" y="305.90" width="1.60" height="7.50" fill="#1f7a52"/>
<rect x="241.02" y="314.10" width="1.60" height="7.20" fill="#9e2d2d"/>
<rect x="243.22" y="305.90" width="1.60" height="7.50" fill="#1f7a52"/>
<rect x="245.42" y="305.90" width="1.60" height="7.50" fill="#1f7a52"/>
<rect x="247.62" y="305.90" width="1.60" height="7.50" fill="#1f7a52"/>
<rect x="252.03" y="314.10" width="1.60" height="7.20" fill="#9e2d2d"/>
<rect x="254.23" y="305.90" width="1.60" height="7.50" fill="#1f7a52"/>
<rect x="260.84" y="305.90" width="1.60" height="7.50" fill="#1f7a52"/>
<rect x="263.04" y="314.10" width="1.60" height="7.20" fill="#9e2d2d"/>
<rect x="265.24" y="305.90" width="1.60" height="7.50" fill="#1f7a52"/>
<rect x="269.65" y="314.10" width="1.60" height="7.20" fill="#9e2d2d"/>
<rect x="271.85" y="305.90" width="1.60" height="7.50" fill="#1f7a52"/>
<rect x="285.06" y="314.10" width="1.60" height="7.20" fill="#9e2d2d"/>
<rect x="291.67" y="314.10" width="1.60" height="7.20" fill="#9e2d2d"/>
<rect x="302.68" y="305.90" width="1.60" height="7.50" fill="#1f7a52"/>
<rect x="307.09" y="314.10" width="1.60" height="7.20" fill="#9e2d2d"/>
<rect x="309.29" y="305.90" width="1.60" height="7.50" fill="#1f7a52"/>
<rect x="311.49" y="314.10" width="1.60" height="7.20" fill="#9e2d2d"/>
<rect x="313.69" y="305.90" width="1.60" height="7.50" fill="#1f7a52"/>
<rect x="315.90" y="305.90" width="1.60" height="7.50" fill="#1f7a52"/>
<rect x="33.70" y="323.50" width="286.30" height="13.40" fill="#ffffff"/>
<rect x="34.03" y="323.50" width="1.54" height="13.40" fill="#3b9b6b"/>
<rect x="36.23" y="323.50" width="1.54" height="13.40" fill="#3b9b6b"/>
<rect x="38.43" y="323.50" width="1.54" height="13.40" fill="#3b9b6b"/>
<rect x="40.64" y="323.50" width="1.54" height="13.40" fill="#3b9b6b"/>
<rect x="42.84" y="323.50" width="1.54" height="13.40" fill="#3b9b6b"/>
<rect x="45.04" y="323.50" width="1.54" height="13.40" fill="#3b9b6b"/>
<rect x="47.24" y="323.50" width="1.54" height="13.40" fill="#3b9b6b"/>
<rect x="49.45" y="323.50" width="1.54" height="13.40" fill="#3b9b6b"/>
<rect x="51.65" y="323.50" width="1.54" height="13.40" fill="#3b9b6b"/>
<rect x="53.85" y="323.50" width="1.54" height="13.40" fill="#3b9b6b"/>
<rect x="56.05" y="323.50" width="1.54" height="13.40" fill="#3b9b6b"/>
<rect x="58.26" y="323.50" width="1.54" height="13.40" fill="#3b9b6b"/>
<rect x="60.46" y="323.50" width="1.54" height="13.40" fill="#3b9b6b"/>
<rect x="62.66" y="323.50" width="1.54" height="13.40" fill="#3b9b6b"/>
<rect x="64.86" y="323.50" width="1.54" height="13.40" fill="#3b9b6b"/>
<rect x="67.06" y="323.50" width="1.54" height="13.40" fill="#3b9b6b"/>
<rect x="69.27" y="323.50" width="1.54" height="13.40" fill="#3b9b6b"/>
<rect x="71.47" y="323.50" width="1.54" height="13.40" fill="#3b9b6b"/>
<rect x="73.67" y="323.50" width="1.54" height="13.40" fill="#3b9b6b"/>
<rect x="75.87" y="323.50" width="1.54" height="13.40" fill="#3b9b6b"/>
<rect x="78.08" y="323.50" width="1.54" height="13.40" fill="#3b9b6b"/>
<rect x="80.28" y="323.50" width="1.54" height="13.40" fill="#3b9b6b"/>
<rect x="82.48" y="323.50" width="1.54" height="13.40" fill="#3b9b6b"/>
<rect x="84.68" y="323.50" width="1.54" height="13.40" fill="#3b9b6b"/>
<rect x="86.89" y="323.50" width="1.54" height="13.40" fill="#3b9b6b"/>
<rect x="89.09" y="323.50" width="1.54" height="13.40" fill="#3b9b6b"/>
<rect x="91.29" y="323.50" width="1.54" height="13.40" fill="#3b9b6b"/>
<rect x="93.49" y="323.50" width="1.54" height="13.40" fill="#3b9b6b"/>
<rect x="95.69" y="323.50" width="1.54" height="13.40" fill="#3b9b6b"/>
<rect x="97.90" y="323.50" width="1.54" height="13.40" fill="#3b9b6b"/>
<rect x="100.10" y="323.50" width="1.54" height="13.40" fill="#3b9b6b"/>
<rect x="102.30" y="323.50" width="1.54" height="13.40" fill="#3b9b6b"/>
<rect x="104.50" y="323.50" width="1.54" height="13.40" fill="#dcdcdc"/>
<rect x="106.71" y="323.50" width="1.54" height="13.40" fill="#dcdcdc"/>
<rect x="108.91" y="323.50" width="1.54" height="13.40" fill="#dcdcdc"/>
<rect x="111.11" y="323.50" width="1.54" height="13.40" fill="#dcdcdc"/>
<rect x="113.31" y="323.50" width="1.54" height="13.40" fill="#dcdcdc"/>
<rect x="115.52" y="323.50" width="1.54" height="13.40" fill="#dcdcdc"/>
<rect x="117.72" y="323.50" width="1.54" height="13.40" fill="#dcdcdc"/>
<rect x="119.92" y="323.50" width="1.54" height="13.40" fill="#dcdcdc"/>
<rect x="122.12" y="323.50" width="1.54" height="13.40" fill="#dcdcdc"/>
<rect x="124.32" y="323.50" width="1.54" height="13.40" fill="#dcdcdc"/>
<rect x="126.53" y="323.50" width="1.54" height="13.40" fill="#dcdcdc"/>
<rect x="128.73" y="323.50" width="1.54" height="13.40" fill="#dcdcdc"/>
<rect x="130.93" y="323.50" width="1.54" height="13.40" fill="#dcdcdc"/>
<rect x="133.13" y="323.50" width="1.54" height="13.40" fill="#dcdcdc"/>
<rect x="135.34" y="323.50" width="1.54" height="13.40" fill="#dcdcdc"/>
<rect x="137.54" y="323.50" width="1.54" height="13.40" fill="#dcdcdc"/>
<rect x="139.74" y="323.50" width="1.54" height="13.40" fill="#dcdcdc"/>
<rect x="141.94" y="323.50" width="1.54" height="13.40" fill="#dcdcdc"/>
<rect x="144.15" y="323.50" width="1.54" height="13.40" fill="#dcdcdc"/>
<rect x="146.35" y="323.50" width="1.54" height="13.40" fill="#dcdcdc"/>
<rect x="148.55" y="323.50" width="1.54" height="13.40" fill="#dcdcdc"/>
<rect x="150.75" y="323.50" width="1.54" height="13.40" fill="#dcdcdc"/>
<rect x="152.95" y="323.50" width="1.54" height="13.40" fill="#dcdcdc"/>
<rect x="155.16" y="323.50" width="1.54" height="13.40" fill="#dcdcdc"/>
<rect x="157.36" y="323.50" width="1.54" height="13.40" fill="#dcdcdc"/>
<rect x="159.56" y="323.50" width="1.54" height="13.40" fill="#dcdcdc"/>
<rect x="161.76" y="323.50" width="1.54" height="13.40" fill="#dcdcdc"/>
<rect x="163.97" y="323.50" width="1.54" height="13.40" fill="#dcdcdc"/>
<rect x="166.17" y="323.50" width="1.54" height="13.40" fill="#dcdcdc"/>
<rect x="168.37" y="323.50" width="1.54" height="13.40" fill="#dcdcdc"/>
<rect x="170.57" y="323.50" width="1.54" height="13.40" fill="#dcdcdc"/>
<rect x="172.78" y="323.50" width="1.54" height="13.40" fill="#dcdcdc"/>
<rect x="174.98" y="323.50" width="1.54" height="13.40" fill="#dcdcdc"/>
<rect x="177.18" y="323.50" width="1.54" height="13.40" fill="#dcdcdc"/>
<rect x="179.38" y="323.50" width="1.54" height="13.40" fill="#dcdcdc"/>
<rect x="181.58" y="323.50" width="1.54" height="13.40" fill="#dcdcdc"/>
<rect x="183.79" y="323.50" width="1.54" height="13.40" fill="#dcdcdc"/>
<rect x="185.99" y="323.50" width="1.54" height="13.40" fill="#dcdcdc"/>
<rect x="188.19" y="323.50" width="1.54" height="13.40" fill="#dcdcdc"/>
<rect x="190.39" y="323.50" width="1.54" height="13.40" fill="#dcdcdc"/>
<rect x="192.60" y="323.50" width="1.54" height="13.40" fill="#dcdcdc"/>
<rect x="194.80" y="323.50" width="1.54" height="13.40" fill="#dcdcdc"/>
<rect x="197.00" y="323.50" width="1.54" height="13.40" fill="#dcdcdc"/>
<rect x="199.20" y="323.50" width="1.54" height="13.40" fill="#dcdcdc"/>
<rect x="201.41" y="323.50" width="1.54" height="13.40" fill="#dcdcdc"/>
<rect x="203.61" y="323.50" width="1.54" height="13.40" fill="#dcdcdc"/>
<rect x="205.81" y="323.50" width="1.54" height="13.40" fill="#dcdcdc"/>
<rect x="208.01" y="323.50" width="1.54" height="13.40" fill="#dcdcdc"/>
<rect x="210.21" y="323.50" width="1.54" height="13.40" fill="#dcdcdc"/>
<rect x="212.42" y="323.50" width="1.54" height="13.40" fill="#dcdcdc"/>
<rect x="214.62" y="323.50" width="1.54" height="13.40" fill="#dcdcdc"/>
<rect x="216.82" y="323.50" width="1.54" height="13.40" fill="#dcdcdc"/>
<rect x="219.02" y="323.50" width="1.54" height="13.40" fill="#dcdcdc"/>
<rect x="221.23" y="323.50" width="1.54" height="13.40" fill="#dcdcdc"/>
<rect x="223.43" y="323.50" width="1.54" height="13.40" fill="#dcdcdc"/>
<rect x="225.63" y="323.50" width="1.54" height="13.40" fill="#dcdcdc"/>
<rect x="227.83" y="323.50" width="1.54" height="13.40" fill="#dcdcdc"/>
<rect x="230.04" y="323.50" width="1.54" height="13.40" fill="#dcdcdc"/>
<rect x="232.24" y="323.50" width="1.54" height="13.40" fill="#dcdcdc"/>
<rect x="234.44" y="323.50" width="1.54" height="13.40" fill="#dcdcdc"/>
<rect x="236.64" y="323.50" width="1.54" height="13.40" fill="#dcdcdc"/>
<rect x="238.84" y="323.50" width="1.54" height="13.40" fill="#dcdcdc"/>
<rect x="241.05" y="323.50" width="1.54" height="13.40" fill="#dcdcdc"/>
<rect x="243.25" y="323.50" width="1.54" height="13.40" fill="#dcdcdc"/>
<rect x="245.45" y="323.50" width="1.54" height="13.40" fill="#dcdcdc"/>
<rect x="247.65" y="323.50" width="1.54" height="13.40" fill="#dcdcdc"/>
<rect x="249.86" y="323.50" width="1.54" height="13.40" fill="#dcdcdc"/>
<rect x="252.06" y="323.50" width="1.54" height="13.40" fill="#dcdcdc"/>
<rect x="254.26" y="323.50" width="1.54" height="13.40" fill="#dcdcdc"/>
<rect x="256.46" y="323.50" width="1.54" height="13.40" fill="#dcdcdc"/>
<rect x="258.67" y="323.50" width="1.54" height="13.40" fill="#dcdcdc"/>
<rect x="260.87" y="323.50" width="1.54" height="13.40" fill="#dcdcdc"/>
<rect x="263.07" y="323.50" width="1.54" height="13.40" fill="#dcdcdc"/>
<rect x="265.27" y="323.50" width="1.54" height="13.40" fill="#dcdcdc"/>
<rect x="267.47" y="323.50" width="1.54" height="13.40" fill="#dcdcdc"/>
<rect x="269.68" y="323.50" width="1.54" height="13.40" fill="#dcdcdc"/>
<rect x="271.88" y="323.50" width="1.54" height="13.40" fill="#dcdcdc"/>
<rect x="274.08" y="323.50" width="1.54" height="13.40" fill="#dcdcdc"/>
<rect x="276.28" y="323.50" width="1.54" height="13.40" fill="#dcdcdc"/>
<rect x="278.49" y="323.50" width="1.54" height="13.40" fill="#dcdcdc"/>
<rect x="280.69" y="323.50" width="1.54" height="13.40" fill="#dcdcdc"/>
<rect x="282.89" y="323.50" width="1.54" height="13.40" fill="#dcdcdc"/>
<rect x="285.09" y="323.50" width="1.54" height="13.40" fill="#dcdcdc"/>
<rect x="287.30" y="323.50" width="1.54" height="13.40" fill="#dcdcdc"/>
<rect x="289.50" y="323.50" width="1.54" height="13.40" fill="#dcdcdc"/>
<rect x="291.70" y="323.50" width="1.54" height="13.40" fill="#dcdcdc"/>
<rect x="293.90" y="323.50" width="1.54" height="13.40" fill="#dcdcdc"/>
<rect x="296.10" y="323.50" width="1.54" height="13.40" fill="#dcdcdc"/>
<rect x="298.31" y="323.50" width="1.54" height="13.40" fill="#dcdcdc"/>
<rect x="300.51" y="323.50" width="1.54" height="13.40" fill="#dcdcdc"/>
<rect x="302.71" y="323.50" width="1.54" height="13.40" fill="#dcdcdc"/>
<rect x="304.91" y="323.50" width="1.54" height="13.40" fill="#dcdcdc"/>
<rect x="307.12" y="323.50" width="1.54" height="13.40" fill="#dcdcdc"/>
<rect x="309.32" y="323.50" width="1.54" height="13.40" fill="#dcdcdc"/>
<rect x="311.52" y="323.50" width="1.54" height="13.40" fill="#dcdcdc"/>
<rect x="313.72" y="323.50" width="1.54" height="13.40" fill="#dcdcdc"/>
<rect x="315.93" y="323.50" width="1.54" height="13.40" fill="#dcdcdc"/>
<rect x="318.13" y="323.50" width="1.54" height="13.40" fill="#dcdcdc"/>
<text x="29.80" y="332.90" font-size="7.94" fill="#111" color="#111" text-anchor="end" textLength="15.21" lengthAdjust="spacingAndGlyphs">25%</text>
<text x="324.70" y="332.90" font-size="7.94" fill="#111" color="#111" textLength="31.25" lengthAdjust="spacingAndGlyphs">DNMT3A</text>
<rect x="33.70" y="338.30" width="286.30" height="13.40" fill="#ffffff"/>
<rect x="34.03" y="338.30" width="1.54" height="13.40" fill="#3b9b6b"/>
<rect x="36.23" y="338.30" width="1.54" height="13.40" fill="#3b9b6b"/>
<rect x="38.43" y="338.30" width="1.54" height="13.40" fill="#3b9b6b"/>
<rect x="40.64" y="338.30" width="1.54" height="13.40" fill="#3b9b6b"/>
<rect x="42.84" y="338.30" width="1.54" height="13.40" fill="#3b9b6b"/>
<rect x="45.04" y="338.30" width="1.54" height="13.40" fill="#3b9b6b"/>
<rect x="47.24" y="338.30" width="1.54" height="13.40" fill="#3b9b6b"/>
<rect x="49.45" y="338.30" width="1.54" height="13.40" fill="#dcdcdc"/>
<rect x="51.65" y="338.30" width="1.54" height="13.40" fill="#dcdcdc"/>
<rect x="53.85" y="338.30" width="1.54" height="13.40" fill="#dcdcdc"/>
<rect x="56.05" y="338.30" width="1.54" height="13.40" fill="#dcdcdc"/>
<rect x="58.26" y="338.30" width="1.54" height="13.40" fill="#dcdcdc"/>
<rect x="60.46" y="338.30" width="1.54" height="13.40" fill="#dcdcdc"/>
<rect x="62.66" y="338.30" width="1.54" height="13.40" fill="#dcdcdc"/>
<rect x="64.86" y="338.30" width="1.54" height="13.40" fill="#dcdcdc"/>
<rect x="67.06" y="338.30" width="1.54" height="13.40" fill="#dcdcdc"/>
<rect x="69.27" y="338.30" width="1.54" height="13.40" fill="#dcdcdc"/>
<rect x="71.47" y="338.30" width="1.54" height="13.40" fill="#dcdcdc"/>
<rect x="73.67" y="338.30" width="1.54" height="13.40" fill="#dcdcdc"/>
<rect x="75.87" y="338.30" width="1.54" height="13.40" fill="#dcdcdc"/>
<rect x="78.08" y="338.30" width="1.54" height="13.40" fill="#dcdcdc"/>
<rect x="80.28" y="338.30" width="1.54" height="13.40" fill="#dcdcdc"/>
<rect x="82.48" y="338.30" width="1.54" height="13.40" fill="#dcdcdc"/>
<rect x="84.68" y="338.30" width="1.54" height="13.40" fill="#dcdcdc"/>
<rect x="86.89" y="338.30" width="1.54" height="13.40" fill="#dcdcdc"/>
<rect x="89.09" y="338.30" width="1.54" height="13.40" fill="#dcdcdc"/>
<rect x="91.29" y="338.30" width="1.54" height="13.40" fill="#dcdcdc"/>
<rect x="93.49" y="338.30" width="1.54" height="13.40" fill="#dcdcdc"/>
<rect x="95.69" y="338.30" width="1.54" height="13.40" fill="#dcdcdc"/>
<rect x="97.90" y="338.30" width="1.54" height="13.40" fill="#dcdcdc"/>
<rect x="100.10" y="338.30" width="1.54" height="13.40" fill="#dcdcdc"/>
<rect x="102.30" y="338.30" width="1.54" height="13.40" fill="#dcdcdc"/>
<rect x="104.50" y="338.30" width="1.54" height="13.40" fill="#3b9b6b"/>
<rect x="106.71" y="338.30" width="1.54" height="13.40" fill="#3b9b6b"/>
<rect x="108.91" y="338.30" width="1.54" height="13.40" fill="#3b9b6b"/>
<rect x="111.11" y="338.30" width="1.54" height="13.40" fill="#3b9b6b"/>
<rect x="113.31" y="338.30" width="1.54" height="13.40" fill="#3b9b6b"/>
<rect x="115.52" y="338.30" width="1.54" height="13.40" fill="#3b9b6b"/>
<rect x="117.72" y="338.30" width="1.54" height="13.40" fill="#3b9b6b"/>
<rect x="119.92" y="338.30" width="1.54" height="13.40" fill="#3b9b6b"/>
<rect x="122.12" y="338.30" width="1.54" height="13.40" fill="#3b9b6b"/>
<rect x="124.32" y="338.30" width="1.54" height="13.40" fill="#3b9b6b"/>
<rect x="126.53" y="338.30" width="1.54" height="13.40" fill="#3b9b6b"/>
<rect x="128.73" y="338.30" width="1.54" height="13.40" fill="#3b9b6b"/>
<rect x="130.93" y="338.30" width="1.54" height="13.40" fill="#3b9b6b"/>
<rect x="133.13" y="338.30" width="1.54" height="13.40" fill="#3b9b6b"/>
<rect x="135.34" y="338.30" width="1.54" height="13.40" fill="#3b9b6b"/>
<rect x="137.54" y="338.30" width="1.54" height="13.40" fill="#3b9b6b"/>
<rect x="139.74" y="338.30" width="1.54" height="13.40" fill="#3b9b6b"/>
<rect x="141.94" y="338.30" width="1.54" height="13.40" fill="#3b9b6b"/>
<rect x="144.15" y="338.30" width="1.54" height="13.40" fill="#3b9b6b"/>
<rect x="146.35" y="338.30" width="1.54" height="13.40" fill="#dcdcdc"/>
<rect x="148.55" y="338.30" width="1.54" height="13.40" fill="#dcdcdc"/>
<rect x="150.75" y="338.30" width="1.54" height="13.40" fill="#dcdcdc"/>
<rect x="152.95" y="338.30" width="1.54" height="13.40" fill="#dcdcdc"/>
<rect x="155.16" y="338.30" width="1.54" height="13.40" fill="#dcdcdc"/>
<rect x="157.36" y="338.30" width="1.54" height="13.40" fill="#dcdcdc"/>
<rect x="159.56" y="338.30" width="1.54" height="13.40" fill="#dcdcdc"/>
<rect x="161.76" y="338.30" width="1.54" height="13.40" fill="#dcdcdc"/>
<rect x="163.97" y="338.30" width="1.54" height="13.40" fill="#dcdcdc"/>
<rect x="166.17" y="338.30" width="1.54" height="13.40" fill="#dcdcdc"/>
<rect x="168.37" y="338.30" width="1.54" height="13.40" fill="#dcdcdc"/>
<rect x="170.57" y="338.30" width="1.54" height="13.40" fill="#dcdcdc"/>
<rect x="172.78" y="338.30" width="1.54" height="13.40" fill="#dcdcdc"/>
<rect x="174.98" y="338.30" width="1.54" height="13.40" fill="#dcdcdc"/>
<rect x="177.18" y="338.30" width="1.54" height="13.40" fill="#dcdcdc"/>
<rect x="179.38" y="338.30" width="1.54" height="13.40" fill="#dcdcdc"/>
<rect x="181.58" y="338.30" width="1.54" height="13.40" fill="#dcdcdc"/>
<rect x="183.79" y="338.30" width="1.54" height="13.40" fill="#dcdcdc"/>
<rect x="185.99" y="338.30" width="1.54" height="13.40" fill="#dcdcdc"/>
<rect x="188.19" y="338.30" width="1.54" height="13.40" fill="#dcdcdc"/>
<rect x="190.39" y="338.30" width="1.54" height="13.40" fill="#dcdcdc"/>
<rect x="192.60" y="338.30" width="1.54" height="13.40" fill="#dcdcdc"/>
<rect x="194.80" y="338.30" width="1.54" height="13.40" fill="#dcdcdc"/>
<rect x="197.00" y="338.30" width="1.54" height="13.40" fill="#dcdcdc"/>
<rect x="199.20" y="338.30" width="1.54" height="13.40" fill="#dcdcdc"/>
<rect x="201.41" y="338.30" width="1.54" height="13.40" fill="#dcdcdc"/>
<rect x="203.61" y="338.30" width="1.54" height="13.40" fill="#dcdcdc"/>
<rect x="205.81" y="338.30" width="1.54" height="13.40" fill="#dcdcdc"/>
<rect x="208.01" y="338.30" width="1.54" height="13.40" fill="#dcdcdc"/>
<rect x="210.21" y="338.30" width="1.54" height="13.40" fill="#dcdcdc"/>
<rect x="212.42" y="338.30" width="1.54" height="13.40" fill="#dcdcdc"/>
<rect x="214.62" y="338.30" width="1.54" height="13.40" fill="#dcdcdc"/>
<rect x="216.82" y="338.30" width="1.54" height="13.40" fill="#dcdcdc"/>
<rect x="219.02" y="338.30" width="1.54" height="13.40" fill="#dcdcdc"/>
<rect x="221.23" y="338.30" width="1.54" height="13.40" fill="#dcdcdc"/>
<rect x="223.43" y="338.30" width="1.54" height="13.40" fill="#dcdcdc"/>
<rect x="225.63" y="338.30" width="1.54" height="13.40" fill="#dcdcdc"/>
<rect x="227.83" y="338.30" width="1.54" height="13.40" fill="#dcdcdc"/>
<rect x="230.04" y="338.30" width="1.54" height="13.40" fill="#dcdcdc"/>
<rect x="232.24" y="338.30" width="1.54" height="13.40" fill="#dcdcdc"/>
<rect x="234.44" y="338.30" width="1.54" height="13.40" fill="#dcdcdc"/>
<rect x="236.64" y="338.30" width="1.54" height="13.40" fill="#dcdcdc"/>
<rect x="238.84" y="338.30" width="1.54" height="13.40" fill="#dcdcdc"/>
<rect x="241.05" y="338.30" width="1.54" height="13.40" fill="#dcdcdc"/>
<rect x="243.25" y="338.30" width="1.54" height="13.40" fill="#dcdcdc"/>
<rect x="245.45" y="338.30" width="1.54" height="13.40" fill="#dcdcdc"/>
<rect x="247.65" y="338.30" width="1.54" height="13.40" fill="#dcdcdc"/>
<rect x="249.86" y="338.30" width="1.54" height="13.40" fill="#dcdcdc"/>
<rect x="252.06" y="338.30" width="1.54" height="13.40" fill="#dcdcdc"/>
<rect x="254.26" y="338.30" width="1.54" height="13.40" fill="#dcdcdc"/>
<rect x="256.46" y="338.30" width="1.54" height="13.40" fill="#dcdcdc"/>
<rect x="258.67" y="338.30" width="1.54" height="13.40" fill="#dcdcdc"/>
<rect x="260.87" y="338.30" width="1.54" height="13.40" fill="#dcdcdc"/>
<rect x="263.07" y="338.30" width="1.54" height="13.40" fill="#dcdcdc"/>
<rect x="265.27" y="338.30" width="1.54" height="13.40" fill="#dcdcdc"/>
<rect x="267.47" y="338.30" width="1.54" height="13.40" fill="#dcdcdc"/>
<rect x="269.68" y="338.30" width="1.54" height="13.40" fill="#dcdcdc"/>
<rect x="271.88" y="338.30" width="1.54" height="13.40" fill="#dcdcdc"/>
<rect x="274.08" y="338.30" width="1.54" height="13.40" fill="#dcdcdc"/>
<rect x="276.28" y="338.30" width="1.54" height="13.40" fill="#dcdcdc"/>
<rect x="278.49" y="338.30" width="1.54" height="13.40" fill="#dcdcdc"/>
<rect x="280.69" y="338.30" width="1.54" height="13.40" fill="#dcdcdc"/>
<rect x="282.89" y="338.30" width="1.54" height="13.40" fill="#dcdcdc"/>
<rect x="285.09" y="338.30" width="1.54" height="13.40" fill="#dcdcdc"/>
<rect x="287.30" y="338.30" width="1.54" height="13.40" fill="#dcdcdc"/>
<rect x="289.50" y="338.30" width="1.54" height="13.40" fill="#dcdcdc"/>
<rect x="291.70" y="338.30" width="1.54" height="13.40" fill="#dcdcdc"/>
<rect x="293.90" y="338.30" width="1.54" height="13.40" fill="#dcdcdc"/>
<rect x="296.10" y="338.30" width="1.54" height="13.40" fill="#dcdcdc"/>
<rect x="298.31" y="338.30" width="1.54" height="13.40" fill="#dcdcdc"/>
<rect x="300.51" y="338.30" width="1.54" height="13.40" fill="#dcdcdc"/>
<rect x="302.71" y="338.30" width="1.54" height="13.40" fill="#dcdcdc"/>
<rect x="304.91" y="338.30" width="1.54" height="13.40" fill="#dcdcdc"/>
<rect x="307.12" y="338.30" width="1.54" height="13.40" fill="#dcdcdc"/>
<rect x="309.32" y="338.30" width="1.54" height="13.40" fill="#dcdcdc"/>
<rect x="311.52" y="338.30" width="1.54" height="13.40" fill="#dcdcdc"/>
<rect x="313.72" y="338.30" width="1.54" height="13.40" fill="#dcdcdc"/>
<rect x="315.93" y="338.30" width="1.54" height="13.40" fill="#dcdcdc"/>
<rect x="318.13" y="338.30" width="1.54" height="13.40" fill="#dcdcdc"/>
<text x="29.80" y="347.70" font-size="7.94" fill="#111" color="#111" text-anchor="end" textLength="15.21" lengthAdjust="spacingAndGlyphs">20%</text>
<text x="324.70" y="347.70" font-size="7.94" fill="#111" color="#111" textLength="21.12" lengthAdjust="spacingAndGlyphs">NRAS</text>
<rect x="33.70" y="353.10" width="286.30" height="13.40" fill="#ffffff"/>
<rect x="34.03" y="353.10" width="1.54" height="13.40" fill="#3b9b6b"/>
<rect x="36.23" y="353.10" width="1.54" height="13.40" fill="#3b9b6b"/>
<rect x="38.43" y="353.10" width="1.54" height="13.40" fill="#dcdcdc"/>
<rect x="40.64" y="353.10" width="1.54" height="13.40" fill="#dcdcdc"/>
<rect x="42.84" y="353.10" width="1.54" height="13.40" fill="#dcdcdc"/>
<rect x="45.04" y="353.10" width="1.54" height="13.40" fill="#dcdcdc"/>
<rect x="47.24" y="353.10" width="1.54" height="13.40" fill="#dcdcdc"/>
<rect x="49.45" y="353.10" width="1.54" height="13.40" fill="#3b9b6b"/>
<rect x="51.65" y="353.10" width="1.54" height="13.40" fill="#3b9b6b"/>
<rect x="53.85" y="353.10" width="1.54" height="13.40" fill="#3b9b6b"/>
<rect x="56.05" y="353.10" width="1.54" height="13.40" fill="#3b9b6b"/>
<rect x="58.26" y="353.10" width="1.54" height="13.40" fill="#3b9b6b"/>
<rect x="60.46" y="353.10" width="1.54" height="13.40" fill="#3b9b6b"/>
<rect x="62.66" y="353.10" width="1.54" height="13.40" fill="#3b9b6b"/>
<rect x="64.86" y="353.10" width="1.54" height="13.40" fill="#3b9b6b"/>
<rect x="67.06" y="353.10" width="1.54" height="13.40" fill="#3b9b6b"/>
<rect x="69.27" y="353.10" width="1.54" height="13.40" fill="#3b9b6b"/>
<rect x="71.47" y="353.10" width="1.54" height="13.40" fill="#3b9b6b"/>
<rect x="73.67" y="353.10" width="1.54" height="13.40" fill="#3b9b6b"/>
<rect x="75.87" y="353.10" width="1.54" height="13.40" fill="#dcdcdc"/>
<rect x="78.08" y="353.10" width="1.54" height="13.40" fill="#dcdcdc"/>
<rect x="80.28" y="353.10" width="1.54" height="13.40" fill="#dcdcdc"/>
<rect x="82.48" y="353.10" width="1.54" height="13.40" fill="#dcdcdc"/>
<rect x="84.68" y="353.10" width="1.54" height="13.40" fill="#dcdcdc"/>
<rect x="86.89" y="353.10" width="1.54" height="13.40" fill="#dcdcdc"/>
<rect x="89.09" y="353.10" width="1.54" height="13.40" fill="#dcdcdc"/>
<rect x="91.29" y="353.10" width="1.54" height="13.40" fill="#dcdcdc"/>
<rect x="93.49" y="353.10" width="1.54" height="13.40" fill="#dcdcdc"/>
<rect x="95.69" y="353.10" width="1.54" height="13.40" fill="#dcdcdc"/>
<rect x="97.90" y="353.10" width="1.54" height="13.40" fill="#dcdcdc"/>
<rect x="100.10" y="353.10" width="1.54" height="13.40" fill="#dcdcdc"/>
<rect x="102.30" y="353.10" width="1.54" height="13.40" fill="#dcdcdc"/>
<rect x="104.50" y="353.10" width="1.54" height="13.40" fill="#3b9b6b"/>
<rect x="106.71" y="353.10" width="1.54" height="13.40" fill="#3b9b6b"/>
<rect x="108.91" y="353.10" width="1.54" height="13.40" fill="#dcdcdc"/>
<rect x="111.11" y="353.10" width="1.54" height="13.40" fill="#dcdcdc"/>
<rect x="113.31" y="353.10" width="1.54" height="13.40" fill="#dcdcdc"/>
<rect x="115.52" y="353.10" width="1.54" height="13.40" fill="#dcdcdc"/>
<rect x="117.72" y="353.10" width="1.54" height="13.40" fill="#dcdcdc"/>
<rect x="119.92" y="353.10" width="1.54" height="13.40" fill="#dcdcdc"/>
<rect x="122.12" y="353.10" width="1.54" height="13.40" fill="#dcdcdc"/>
<rect x="124.32" y="353.10" width="1.54" height="13.40" fill="#dcdcdc"/>
<rect x="126.53" y="353.10" width="1.54" height="13.40" fill="#dcdcdc"/>
<rect x="128.73" y="353.10" width="1.54" height="13.40" fill="#dcdcdc"/>
<rect x="130.93" y="353.10" width="1.54" height="13.40" fill="#dcdcdc"/>
<rect x="133.13" y="353.10" width="1.54" height="13.40" fill="#dcdcdc"/>
<rect x="135.34" y="353.10" width="1.54" height="13.40" fill="#dcdcdc"/>
<rect x="137.54" y="353.10" width="1.54" height="13.40" fill="#dcdcdc"/>
<rect x="139.74" y="353.10" width="1.54" height="13.40" fill="#dcdcdc"/>
<rect x="141.94" y="353.10" width="1.54" height="13.40" fill="#dcdcdc"/>
<rect x="144.15" y="353.10" width="1.54" height="13.40" fill="#dcdcdc"/>
<rect x="146.35" y="353.10" width="1.54" height="13.40" fill="#3b9b6b"/>
<rect x="148.55" y="353.10" width="1.54" height="13.40" fill="#3b9b6b"/>
<rect x="150.75" y="353.10" width="1.54" height="13.40" fill="#3b9b6b"/>
<rect x="152.95" y="353.10" width="1.54" height="13.40" fill="#dcdcdc"/>
<rect x="155.16" y="353.10" width="1.54" height="13.40" fill="#dcdcdc"/>
<rect x="157.36" y="353.10" width="1.54" height="13.40" fill="#dcdcdc"/>
<rect x="159.56" y="353.10" width="1.54" height="13.40" fill="#dcdcdc"/>
<rect x="161.76" y="353.10" width="1.54" height="13.40" fill="#dcdcdc"/>
<rect x="163.97" y="353.10" width="1.54" height="13.40" fill="#dcdcdc"/>
<rect x="166.17" y="353.10" width="1.54" height="13.40" fill="#dcdcdc"/>
<rect x="168.37" y="353.10" width="1.54" height="13.40" fill="#dcdcdc"/>
<rect x="170.57" y="353.10" width="1.54" height="13.40" fill="#dcdcdc"/>
<rect x="172.78" y="353.10" width="1.54" height="13.40" fill="#dcdcdc"/>
<rect x="174.98" y="353.10" width="1.54" height="13.40" fill="#dcdcdc"/>
<rect x="177.18" y="353.10" width="1.54" height="13.40" fill="#dcdcdc"/>
<rect x="179.38" y="353.10" width="1.54" height="13.40" fill="#dcdcdc"/>
<rect x="181.58" y="353.10" width="1.54" height="13.40" fill="#dcdcdc"/>
<rect x="183.79" y="353.10" width="1.54" height="13.40" fill="#dcdcdc"/>
<rect x="185.99" y="353.10" width="1.54" height="13.40" fill="#dcdcdc"/>
<rect x="188.19" y="353.10" width="1.54" height="13.40" fill="#dcdcdc"/>
<rect x="190.39" y="353.10" width="1.54" height="13.40" fill="#dcdcdc"/>
<rect x="192.60" y="353.10" width="1.54" height="13.40" fill="#dcdcdc"/>
<rect x="194.80" y="353.10" width="1.54" height="13.40" fill="#dcdcdc"/>
<rect x="197.00" y="353.10" width="1.54" height="13.40" fill="#dcdcdc"/>
<rect x="199.20" y="353.10" width="1.54" height="13.40" fill="#dcdcdc"/>
<rect x="201.41" y="353.10" width="1.54" height="13.40" fill="#dcdcdc"/>
<rect x="203.61" y="353.10" width="1.54" height="13.40" fill="#dcdcdc"/>
<rect x="205.81" y="353.10" width="1.54" height="13.40" fill="#dcdcdc"/>
<rect x="208.01" y="353.10" width="1.54" height="13.40" fill="#dcdcdc"/>
<rect x="210.21" y="353.10" width="1.54" height="13.40" fill="#dcdcdc"/>
<rect x="212.42" y="353.10" width="1.54" height="13.40" fill="#dcdcdc"/>
<rect x="214.62" y="353.10" width="1.54" height="13.40" fill="#dcdcdc"/>
<rect x="216.82" y="353.10" width="1.54" height="13.40" fill="#dcdcdc"/>
<rect x="219.02" y="353.10" width="1.54" height="13.40" fill="#dcdcdc"/>
<rect x="221.23" y="353.10" width="1.54" height="13.40" fill="#dcdcdc"/>
<rect x="223.43" y="353.10" width="1.54" height="13.40" fill="#dcdcdc"/>
<rect x="225.63" y="353.10" width="1.54" height="13.40" fill="#dcdcdc"/>
<rect x="227.83" y="353.10" width="1.54" height="13.40" fill="#dcdcdc"/>
<rect x="230.04" y="353.10" width="1.54" height="13.40" fill="#dcdcdc"/>
<rect x="232.24" y="353.10" width="1.54" height="13.40" fill="#dcdcdc"/>
<rect x="234.44" y="353.10" width="1.54" height="13.40" fill="#dcdcdc"/>
<rect x="236.64" y="353.10" width="1.54" height="13.40" fill="#dcdcdc"/>
<rect x="238.84" y="353.10" width="1.54" height="13.40" fill="#dcdcdc"/>
<rect x="241.05" y="353.10" width="1.54" height="13.40" fill="#dcdcdc"/>
<rect x="243.25" y="353.10" width="1.54" height="13.40" fill="#dcdcdc"/>
<rect x="245.45" y="353.10" width="1.54" height="13.40" fill="#dcdcdc"/>
<rect x="247.65" y="353.10" width="1.54" height="13.40" fill="#dcdcdc"/>
<rect x="249.86" y="353.10" width="1.54" height="13.40" fill="#dcdcdc"/>
<rect x="252.06" y="353.10" width="1.54" height="13.40" fill="#dcdcdc"/>
<rect x="254.26" y="353.10" width="1.54" height="13.40" fill="#dcdcdc"/>
<rect x="256.46" y="353.10" width="1.54" height="13.40" fill="#dcdcdc"/>
<rect x="258.67" y="353.10" width="1.54" height="13.40" fill="#dcdcdc"/>
<rect x="260.87" y="353.10" width="1.54" height="13.40" fill="#dcdcdc"/>
<rect x="263.07" y="353.10" width="1.54" height="13.40" fill="#dcdcdc"/>
<rect x="265.27" y="353.10" width="1.54" height="13.40" fill="#dcdcdc"/>
<rect x="267.47" y="353.10" width="1.54" height="13.40" fill="#dcdcdc"/>
<rect x="269.68" y="353.10" width="1.54" height="13.40" fill="#dcdcdc"/>
<rect x="271.88" y="353.10" width="1.54" height="13.40" fill="#dcdcdc"/>
<rect x="274.08" y="353.10" width="1.54" height="13.40" fill="#dcdcdc"/>
<rect x="276.28" y="353.10" width="1.54" height="13.40" fill="#dcdcdc"/>
<rect x="278.49" y="353.10" width="1.54" height="13.40" fill="#dcdcdc"/>
<rect x="280.69" y="353.10" width="1.54" height="13.40" fill="#dcdcdc"/>
<rect x="282.89" y="353.10" width="1.54" height="13.40" fill="#dcdcdc"/>
<rect x="285.09" y="353.10" width="1.54" height="13.40" fill="#dcdcdc"/>
<rect x="287.30" y="353.10" width="1.54" height="13.40" fill="#dcdcdc"/>
<rect x="289.50" y="353.10" width="1.54" height="13.40" fill="#dcdcdc"/>
<rect x="291.70" y="353.10" width="1.54" height="13.40" fill="#dcdcdc"/>
<rect x="293.90" y="353.10" width="1.54" height="13.40" fill="#dcdcdc"/>
<rect x="296.10" y="353.10" width="1.54" height="13.40" fill="#dcdcdc"/>
<rect x="298.31" y="353.10" width="1.54" height="13.40" fill="#dcdcdc"/>
<rect x="300.51" y="353.10" width="1.54" height="13.40" fill="#dcdcdc"/>
<rect x="302.71" y="353.10" width="1.54" height="13.40" fill="#dcdcdc"/>
<rect x="304.91" y="353.10" width="1.54" height="13.40" fill="#dcdcdc"/>
<rect x="307.12" y="353.10" width="1.54" height="13.40" fill="#dcdcdc"/>
<rect x="309.32" y="353.10" width="1.54" height="13.40" fill="#dcdcdc"/>
<rect x="311.52" y="353.10" width="1.54" height="13.40" fill="#dcdcdc"/>
<rect x="313.72" y="353.10" width="1.54" height="13.40" fill="#dcdcdc"/>
<rect x="315.93" y="353.10" width="1.54" height="13.40" fill="#dcdcdc"/>
<rect x="318.13" y="353.10" width="1.54" height="13.40" fill="#dcdcdc"/>
<text x="29.80" y="362.50" font-size="7.94" fill="#111" color="#111" text-anchor="end" textLength="15.21" lengthAdjust="spacingAndGlyphs">15%</text>
<text x="324.70" y="362.50" font-size="7.94" fill="#111" color="#111" textLength="21.12" lengthAdjust="spacingAndGlyphs">NPM1</text>
<rect x="33.70" y="367.90" width="286.30" height="13.40" fill="#ffffff"/>
<rect x="34.03" y="367.90" width="1.54" height="13.40" fill="#dcdcdc"/>
<rect x="36.23" y="367.90" width="1.54" height="13.40" fill="#dcdcdc"/>
<rect x="38.43" y="367.90" width="1.54" height="13.40" fill="#dcdcdc"/>
<rect x="40.64" y="367.90" width="1.54" height="13.40" fill="#dcdcdc"/>
<rect x="42.84" y="367.90" width="1.54" height="13.40" fill="#dcdcdc"/>
<rect x="45.04" y="367.90" width="1.54" height="13.40" fill="#dcdcdc"/>
<rect x="47.24" y="367.90" width="1.54" height="13.40" fill="#dcdcdc"/>
<rect x="49.45" y="367.90" width="1.54" height="13.40" fill="#dcdcdc"/>
<rect x="51.65" y="367.90" width="1.54" height="13.40" fill="#dcdcdc"/>
<rect x="53.85" y="367.90" width="1.54" height="13.40" fill="#dcdcdc"/>
<rect x="56.05" y="367.90" width="1.54" height="13.40" fill="#dcdcdc"/>
<rect x="58.26" y="367.90" width="1.54" height="13.40" fill="#dcdcdc"/>
<rect x="60.46" y="367.90" width="1.54" height="13.40" fill="#dcdcdc"/>
<rect x="62.66" y="367.90" width="1.54" height="13.40" fill="#dcdcdc"/>
<rect x="64.86" y="367.90" width="1.54" height="13.40" fill="#dcdcdc"/>
<rect x="67.06" y="367.90" width="1.54" height="13.40" fill="#dcdcdc"/>
<rect x="69.27" y="367.90" width="1.54" height="13.40" fill="#dcdcdc"/>
<rect x="71.47" y="367.90" width="1.54" height="13.40" fill="#dcdcdc"/>
<rect x="73.67" y="367.90" width="1.54" height="13.40" fill="#dcdcdc"/>
<rect x="75.87" y="367.90" width="1.54" height="13.40" fill="#dcdcdc"/>
<rect x="78.08" y="367.90" width="1.54" height="13.40" fill="#3b9b6b"/>
<rect x="80.28" y="367.90" width="1.54" height="13.40" fill="#3b9b6b"/>
<rect x="82.48" y="367.90" width="1.54" height="13.40" fill="#dcdcdc"/>
<rect x="84.68" y="367.90" width="1.54" height="13.40" fill="#dcdcdc"/>
<rect x="86.89" y="367.90" width="1.54" height="13.40" fill="#dcdcdc"/>
<rect x="89.09" y="367.90" width="1.54" height="13.40" fill="#dcdcdc"/>
<rect x="91.29" y="367.90" width="1.54" height="13.40" fill="#dcdcdc"/>
<rect x="93.49" y="367.90" width="1.54" height="13.40" fill="#dcdcdc"/>
<rect x="95.69" y="367.90" width="1.54" height="13.40" fill="#dcdcdc"/>
<rect x="97.90" y="367.90" width="1.54" height="13.40" fill="#dcdcdc"/>
<rect x="100.10" y="367.90" width="1.54" height="13.40" fill="#dcdcdc"/>
<rect x="102.30" y="367.90" width="1.54" height="13.40" fill="#dcdcdc"/>
<rect x="104.50" y="367.90" width="1.54" height="13.40" fill="#dcdcdc"/>
<rect x="106.71" y="367.90" width="1.54" height="13.40" fill="#dcdcdc"/>
<rect x="108.91" y="367.90" width="1.54" height="13.40" fill="#dcdcdc"/>
<rect x="111.11" y="367.90" width="1.54" height="13.40" fill="#3b9b6b"/>
<rect x="113.31" y="367.90" width="1.54" height="13.40" fill="#3b9b6b"/>
<rect x="115.52" y="367.90" width="1.54" height="13.40" fill="#dcdcdc"/>
<rect x="117.72" y="367.90" width="1.54" height="13.40" fill="#dcdcdc"/>
<rect x="119.92" y="367.90" width="1.54" height="13.40" fill="#dcdcdc"/>
<rect x="122.12" y="367.90" width="1.54" height="13.40" fill="#dcdcdc"/>
<rect x="124.32" y="367.90" width="1.54" height="13.40" fill="#dcdcdc"/>
<rect x="126.53" y="367.90" width="1.54" height="13.40" fill="#dcdcdc"/>
<rect x="128.73" y="367.90" width="1.54" height="13.40" fill="#dcdcdc"/>
<rect x="130.93" y="367.90" width="1.54" height="13.40" fill="#dcdcdc"/>
<rect x="133.13" y="367.90" width="1.54" height="13.40" fill="#dcdcdc"/>
<rect x="135.34" y="367.90" width="1.54" height="13.40" fill="#dcdcdc"/>
<rect x="137.54" y="367.90" width="1.54" height="13.40" fill="#dcdcdc"/>
<rect x="139.74" y="367.90" width="1.54" height="13.40" fill="#dcdcdc"/>
<rect x="141.94" y="367.90" width="1.54" height="13.40" fill="#dcdcdc"/>
<rect x="144.15" y="367.90" width="1.54" height="13.40" fill="#dcdcdc"/>
<rect x="146.35" y="367.90" width="1.54" height="13.40" fill="#dcdcdc"/>
<rect x="148.55" y="367.90" width="1.54" height="13.40" fill="#dcdcdc"/>
<rect x="150.75" y="367.90" width="1.54" height="13.40" fill="#dcdcdc"/>
<rect x="152.95" y="367.90" width="1.54" height="13.40" fill="#dcdcdc"/>
<rect x="155.16" y="367.90" width="1.54" height="13.40" fill="#dcdcdc"/>
<rect x="157.36" y="367.90" width="1.54" height="13.40" fill="#dcdcdc"/>
<rect x="159.56" y="367.90" width="1.54" height="13.40" fill="#dcdcdc"/>
<rect x="161.76" y="367.90" width="1.54" height="13.40" fill="#dcdcdc"/>
<rect x="163.97" y="367.90" width="1.54" height="13.40" fill="#dcdcdc"/>
<rect x="166.17" y="367.90" width="1.54" height="13.40" fill="#dcdcdc"/>
<rect x="168.37" y="367.90" width="1.54" height="13.40" fill="#dcdcdc"/>
<rect x="170.57" y="367.90" width="1.54" height="13.40" fill="#dcdcdc"/>
<rect x="172.78" y="367.90" width="1.54" height="13.40" fill="#dcdcdc"/>
<rect x="174.98" y="367.90" width="1.54" height="13.40" fill="#dcdcdc"/>
<rect x="177.18" y="367.90" width="1.54" height="13.40" fill="#dcdcdc"/>
<rect x="179.38" y="367.90" width="1.54" height="13.40" fill="#dcdcdc"/>
<rect x="181.58" y="367.90" width="1.54" height="13.40" fill="#3b9b6b"/>
<rect x="183.79" y="367.90" width="1.54" height="13.40" fill="#3b9b6b"/>
<rect x="185.99" y="367.90" width="1.54" height="13.40" fill="#3b9b6b"/>
<rect x="188.19" y="367.90" width="1.54" height="13.40" fill="#3b9b6b"/>
<rect x="190.39" y="367.90" width="1.54" height="13.40" fill="#3b9b6b"/>
<rect x="192.60" y="367.90" width="1.54" height="13.40" fill="#3b9b6b"/>
<rect x="194.80" y="367.90" width="1.54" height="13.40" fill="#3b9b6b"/>
<rect x="197.00" y="367.90" width="1.54" height="13.40" fill="#3b9b6b"/>
<rect x="199.20" y="367.90" width="1.54" height="13.40" fill="#dcdcdc"/>
<rect x="201.41" y="367.90" width="1.54" height="13.40" fill="#dcdcdc"/>
<rect x="203.61" y="367.90" width="1.54" height="13.40" fill="#dcdcdc"/>
<rect x="205.81" y="367.90" width="1.54" height="13.40" fill="#dcdcdc"/>
<rect x="208.01" y="367.90" width="1.54" height="13.40" fill="#dcdcdc"/>
<rect x="210.21" y="367.90" width="1.54" height="13.40" fill="#dcdcdc"/>
<rect x="212.42" y="367.90" width="1.54" height="13.40" fill="#dcdcdc"/>
<rect x="214.62" y="367.90" width="1.54" height="13.40" fill="#dcdcdc"/>
<rect x="216.82" y="367.90" width="1.54" height="13.40" fill="#dcdcdc"/>
<rect x="219.02" y="367.90" width="1.54" height="13.40" fill="#dcdcdc"/>
<rect x="221.23" y="367.90" width="1.54" height="13.40" fill="#dcdcdc"/>
<rect x="223.43" y="367.90" width="1.54" height="13.40" fill="#dcdcdc"/>
<rect x="225.63" y="367.90" width="1.54" height="13.40" fill="#dcdcdc"/>
<rect x="227.83" y="367.90" width="1.54" height="13.40" fill="#dcdcdc"/>
<rect x="230.04" y="367.90" width="1.54" height="13.40" fill="#dcdcdc"/>
<rect x="232.24" y="367.90" width="1.54" height="13.40" fill="#dcdcdc"/>
<rect x="234.44" y="367.90" width="1.54" height="13.40" fill="#dcdcdc"/>
<rect x="236.64" y="367.90" width="1.54" height="13.40" fill="#dcdcdc"/>
<rect x="238.84" y="367.90" width="1.54" height="13.40" fill="#dcdcdc"/>
<rect x="241.05" y="367.90" width="1.54" height="13.40" fill="#dcdcdc"/>
<rect x="243.25" y="367.90" width="1.54" height="13.40" fill="#dcdcdc"/>
<rect x="245.45" y="367.90" width="1.54" height="13.40" fill="#dcdcdc"/>
<rect x="247.65" y="367.90" width="1.54" height="13.40" fill="#dcdcdc"/>
<rect x="249.86" y="367.90" width="1.54" height="13.40" fill="#dcdcdc"/>
<rect x="252.06" y="367.90" width="1.54" height="13.40" fill="#dcdcdc"/>
<rect x="254.26" y="367.90" width="1.54" height="13.40" fill="#dcdcdc"/>
<rect x="256.46" y="367.90" width="1.54" height="13.40" fill="#dcdcdc"/>
<rect x="258.67" y="367.90" width="1.54" height="13.40" fill="#dcdcdc"/>
<rect x="260.87" y="367.90" width="1.54" height="13.40" fill="#dcdcdc"/>
<rect x="263.07" y="367.90" width="1.54" height="13.40" fill="#dcdcdc"/>
<rect x="265.27" y="367.90" width="1.54" height="13.40" fill="#dcdcdc"/>
<rect x="267.47" y="367.90" width="1.54" height="13.40" fill="#dcdcdc"/>
<rect x="269.68" y="367.90" width="1.54" height="13.40" fill="#dcdcdc"/>
<rect x="271.88" y="367.90" width="1.54" height="13.40" fill="#dcdcdc"/>
<rect x="274.08" y="367.90" width="1.54" height="13.40" fill="#dcdcdc"/>
<rect x="276.28" y="367.90" width="1.54" height="13.40" fill="#dcdcdc"/>
<rect x="278.49" y="367.90" width="1.54" height="13.40" fill="#dcdcdc"/>
<rect x="280.69" y="367.90" width="1.54" height="13.40" fill="#dcdcdc"/>
<rect x="282.89" y="367.90" width="1.54" height="13.40" fill="#dcdcdc"/>
<rect x="285.09" y="367.90" width="1.54" height="13.40" fill="#dcdcdc"/>
<rect x="287.30" y="367.90" width="1.54" height="13.40" fill="#dcdcdc"/>
<rect x="289.50" y="367.90" width="1.54" height="13.40" fill="#dcdcdc"/>
<rect x="291.70" y="367.90" width="1.54" height="13.40" fill="#dcdcdc"/>
<rect x="293.90" y="367.90" width="1.54" height="13.40" fill="#dcdcdc"/>
<rect x="296.10" y="367.90" width="1.54" height="13.40" fill="#dcdcdc"/>
<rect x="298.31" y="367.90" width="1.54" height="13.40" fill="#dcdcdc"/>
<rect x="300.51" y="367.90" width="1.54" height="13.40" fill="#dcdcdc"/>
<rect x="302.71" y="367.90" width="1.54" height="13.40" fill="#dcdcdc"/>
<rect x="304.91" y="367.90" width="1.54" height="13.40" fill="#dcdcdc"/>
<rect x="307.12" y="367.90" width="1.54" height="13.40" fill="#dcdcdc"/>
<rect x="309.32" y="367.90" width="1.54" height="13.40" fill="#dcdcdc"/>
<rect x="311.52" y="367.90" width="1.54" height="13.40" fill="#dcdcdc"/>
<rect x="313.72" y="367.90" width="1.54" height="13.40" fill="#dcdcdc"/>
<rect x="315.93" y="367.90" width="1.54" height="13.40" fill="#dcdcdc"/>
<rect x="318.13" y="367.90" width="1.54" height="13.40" fill="#dcdcdc"/>
<text x="29.80" y="377.30" font-size="7.94" fill="#111" color="#111" text-anchor="end" textLength="10.98" lengthAdjust="spacingAndGlyphs">9%</text>
<text x="324.70" y="377.30" font-size="7.94" fill="#111" color="#111" textLength="23.66" lengthAdjust="spacingAndGlyphs">ASXL1</text>
<rect x="33.70" y="382.60" width="286.30" height="13.40" fill="#ffffff"/>
<rect x="34.03" y="382.60" width="1.54" height="13.40" fill="#dcdcdc"/>
<rect x="36.23" y="382.60" width="1.54" height="13.40" fill="#dcdcdc"/>
<rect x="38.43" y="382.60" width="1.54" height="13.40" fill="#dcdcdc"/>
<rect x="40.64" y="382.60" width="1.54" height="13.40" fill="#dcdcdc"/>
<rect x="42.84" y="382.60" width="1.54" height="13.40" fill="#dcdcdc"/>
<rect x="45.04" y="382.60" width="1.54" height="13.40" fill="#dcdcdc"/>
<rect x="47.24" y="382.60" width="1.54" height="13.40" fill="#dcdcdc"/>
<rect x="49.45" y="382.60" width="1.54" height="13.40" fill="#dcdcdc"/>
<rect x="51.65" y="382.60" width="1.54" height="13.40" fill="#3b9b6b"/>
<rect x="53.85" y="382.60" width="1.54" height="13.40" fill="#dcdcdc"/>
<rect x="56.05" y="382.60" width="1.54" height="13.40" fill="#dcdcdc"/>
<rect x="58.26" y="382.60" width="1.54" height="13.40" fill="#dcdcdc"/>
<rect x="60.46" y="382.60" width="1.54" height="13.40" fill="#dcdcdc"/>
<rect x="62.66" y="382.60" width="1.54" height="13.40" fill="#dcdcdc"/>
<rect x="64.86" y="382.60" width="1.54" height="13.40" fill="#dcdcdc"/>
<rect x="67.06" y="382.60" width="1.54" height="13.40" fill="#dcdcdc"/>
<rect x="69.27" y="382.60" width="1.54" height="13.40" fill="#dcdcdc"/>
<rect x="71.47" y="382.60" width="1.54" height="13.40" fill="#dcdcdc"/>
<rect x="73.67" y="382.60" width="1.54" height="13.40" fill="#dcdcdc"/>
<rect x="75.87" y="382.60" width="1.54" height="13.40" fill="#dcdcdc"/>
<rect x="78.08" y="382.60" width="1.54" height="13.40" fill="#dcdcdc"/>
<rect x="80.28" y="382.60" width="1.54" height="13.40" fill="#dcdcdc"/>
<rect x="82.48" y="382.60" width="1.54" height="13.40" fill="#dcdcdc"/>
<rect x="84.68" y="382.60" width="1.54" height="13.40" fill="#dcdcdc"/>
<rect x="86.89" y="382.60" width="1.54" height="13.40" fill="#dcdcdc"/>
<rect x="89.09" y="382.60" width="1.54" height="13.40" fill="#dcdcdc"/>
<rect x="91.29" y="382.60" width="1.54" height="13.40" fill="#dcdcdc"/>
<rect x="93.49" y="382.60" width="1.54" height="13.40" fill="#dcdcdc"/>
<rect x="95.69" y="382.60" width="1.54" height="13.40" fill="#dcdcdc"/>
<rect x="97.90" y="382.60" width="1.54" height="13.40" fill="#dcdcdc"/>
<rect x="100.10" y="382.60" width="1.54" height="13.40" fill="#dcdcdc"/>
<rect x="102.30" y="382.60" width="1.54" height="13.40" fill="#dcdcdc"/>
<rect x="104.50" y="382.60" width="1.54" height="13.40" fill="#dcdcdc"/>
<rect x="106.71" y="382.60" width="1.54" height="13.40" fill="#dcdcdc"/>
<rect x="108.91" y="382.60" width="1.54" height="13.40" fill="#dcdcdc"/>
<rect x="111.11" y="382.60" width="1.54" height="13.40" fill="#3b9b6b"/>
<rect x="113.31" y="382.60" width="1.54" height="13.40" fill="#dcdcdc"/>
<rect x="115.52" y="382.60" width="1.54" height="13.40" fill="#3b9b6b"/>
<rect x="117.72" y="382.60" width="1.54" height="13.40" fill="#dcdcdc"/>
<rect x="119.92" y="382.60" width="1.54" height="13.40" fill="#dcdcdc"/>
<rect x="122.12" y="382.60" width="1.54" height="13.40" fill="#dcdcdc"/>
<rect x="124.32" y="382.60" width="1.54" height="13.40" fill="#dcdcdc"/>
<rect x="126.53" y="382.60" width="1.54" height="13.40" fill="#dcdcdc"/>
<rect x="128.73" y="382.60" width="1.54" height="13.40" fill="#dcdcdc"/>
<rect x="130.93" y="382.60" width="1.54" height="13.40" fill="#dcdcdc"/>
<rect x="133.13" y="382.60" width="1.54" height="13.40" fill="#dcdcdc"/>
<rect x="135.34" y="382.60" width="1.54" height="13.40" fill="#dcdcdc"/>
<rect x="137.54" y="382.60" width="1.54" height="13.40" fill="#dcdcdc"/>
<rect x="139.74" y="382.60" width="1.54" height="13.40" fill="#dcdcdc"/>
<rect x="141.94" y="382.60" width="1.54" height="13.40" fill="#dcdcdc"/>
<rect x="144.15" y="382.60" width="1.54" height="13.40" fill="#dcdcdc"/>
<rect x="146.35" y="382.60" width="1.54" height="13.40" fill="#3b9b6b"/>
<rect x="148.55" y="382.60" width="1.54" height="13.40" fill="#dcdcdc"/>
<rect x="150.75" y="382.60" width="1.54" height="13.40" fill="#dcdcdc"/>
<rect x="152.95" y="382.60" width="1.54" height="13.40" fill="#dcdcdc"/>
<rect x="155.16" y="382.60" width="1.54" height="13.40" fill="#dcdcdc"/>
<rect x="157.36" y="382.60" width="1.54" height="13.40" fill="#dcdcdc"/>
<rect x="159.56" y="382.60" width="1.54" height="13.40" fill="#dcdcdc"/>
<rect x="161.76" y="382.60" width="1.54" height="13.40" fill="#dcdcdc"/>
<rect x="163.97" y="382.60" width="1.54" height="13.40" fill="#dcdcdc"/>
<rect x="166.17" y="382.60" width="1.54" height="13.40" fill="#dcdcdc"/>
<rect x="168.37" y="382.60" width="1.54" height="13.40" fill="#dcdcdc"/>
<rect x="170.57" y="382.60" width="1.54" height="13.40" fill="#dcdcdc"/>
<rect x="172.78" y="382.60" width="1.54" height="13.40" fill="#dcdcdc"/>
<rect x="174.98" y="382.60" width="1.54" height="13.40" fill="#dcdcdc"/>
<rect x="177.18" y="382.60" width="1.54" height="13.40" fill="#dcdcdc"/>
<rect x="179.38" y="382.60" width="1.54" height="13.40" fill="#dcdcdc"/>
<rect x="181.58" y="382.60" width="1.54" height="13.40" fill="#dcdcdc"/>
<rect x="183.79" y="382.60" width="1.54" height="13.40" fill="#dcdcdc"/>
<rect x="185.99" y="382.60" width="1.54" height="13.40" fill="#dcdcdc"/>
<rect x="188.19" y="382.60" width="1.54" height="13.40" fill="#dcdcdc"/>
<rect x="190.39" y="382.60" width="1.54" height="13.40" fill="#dcdcdc"/>
<rect x="192.60" y="382.60" width="1.54" height="13.40" fill="#dcdcdc"/>
<rect x="194.80" y="382.60" width="1.54" height="13.40" fill="#dcdcdc"/>
<rect x="197.00" y="382.60" width="1.54" height="13.40" fill="#dcdcdc"/>
<rect x="199.20" y="382.60" width="1.54" height="13.40" fill="#3b9b6b"/>
<rect x="201.41" y="382.60" width="1.54" height="13.40" fill="#3b9b6b"/>
<rect x="203.61" y="382.60" width="1.54" height="13.40" fill="#3b9b6b"/>
<rect x="205.81" y="382.60" width="1.54" height="13.40" fill="#3b9b6b"/>
<rect x="208.01" y="382.60" width="1.54" height="13.40" fill="#3b9b6b"/>
<rect x="210.21" y="382.60" width="1.54" height="13.40" fill="#3b9b6b"/>
<rect x="212.42" y="382.60" width="1.54" height="13.40" fill="#dcdcdc"/>
<rect x="214.62" y="382.60" width="1.54" height="13.40" fill="#dcdcdc"/>
<rect x="216.82" y="382.60" width="1.54" height="13.40" fill="#dcdcdc"/>
<rect x="219.02" y="382.60" width="1.54" height="13.40" fill="#dcdcdc"/>
<rect x="221.23" y="382.60" width="1.54" height="13.40" fill="#dcdcdc"/>
<rect x="223.43" y="382.60" width="1.54" height="13.40" fill="#dcdcdc"/>
<rect x="225.63" y="382.60" width="1.54" height="13.40" fill="#dcdcdc"/>
<rect x="227.83" y="382.60" width="1.54" height="13.40" fill="#dcdcdc"/>
<rect x="230.04" y="382.60" width="1.54" height="13.40" fill="#dcdcdc"/>
<rect x="232.24" y="382.60" width="1.54" height="13.40" fill="#dcdcdc"/>
<rect x="234.44" y="382.60" width="1.54" height="13.40" fill="#dcdcdc"/>
<rect x="236.64" y="382.60" width="1.54" height="13.40" fill="#dcdcdc"/>
<rect x="238.84" y="382.60" width="1.54" height="13.40" fill="#dcdcdc"/>
<rect x="241.05" y="382.60" width="1.54" height="13.40" fill="#dcdcdc"/>
<rect x="243.25" y="382.60" width="1.54" height="13.40" fill="#dcdcdc"/>
<rect x="245.45" y="382.60" width="1.54" height="13.40" fill="#dcdcdc"/>
<rect x="247.65" y="382.60" width="1.54" height="13.40" fill="#dcdcdc"/>
<rect x="249.86" y="382.60" width="1.54" height="13.40" fill="#dcdcdc"/>
<rect x="252.06" y="382.60" width="1.54" height="13.40" fill="#dcdcdc"/>
<rect x="254.26" y="382.60" width="1.54" height="13.40" fill="#dcdcdc"/>
<rect x="256.46" y="382.60" width="1.54" height="13.40" fill="#dcdcdc"/>
<rect x="258.67" y="382.60" width="1.54" height="13.40" fill="#dcdcdc"/>
<rect x="260.87" y="382.60" width="1.54" height="13.40" fill="#dcdcdc"/>
<rect x="263.07" y="382.60" width="1.54" height="13.40" fill="#dcdcdc"/>
<rect x="265.27" y="382.60" width="1.54" height="13.40" fill="#dcdcdc"/>
<rect x="267.47" y="382.60" width="1.54" height="13.40" fill="#dcdcdc"/>
<rect x="269.68" y="382.60" width="1.54" height="13.40" fill="#dcdcdc"/>
<rect x="271.88" y="382.60" width="1.54" height="13.40" fill="#dcdcdc"/>
<rect x="274.08" y="382.60" width="1.54" height="13.40" fill="#dcdcdc"/>
<rect x="276.28" y="382.60" width="1.54" height="13.40" fill="#dcdcdc"/>
<rect x="278.49" y="382.60" width="1.54" height="13.40" fill="#dcdcdc"/>
<rect x="280.69" y="382.60" width="1.54" height="13.40" fill="#dcdcdc"/>
<rect x="282.89" y="382.60" width="1.54" height="13.40" fill="#dcdcdc"/>
<rect x="285.09" y="382.60" width="1.54" height="13.40" fill="#dcdcdc"/>
<rect x="287.30" y="382.60" width="1.54" height="13.40" fill="#dcdcdc"/>
<rect x="289.50" y="382.60" width="1.54" height="13.40" fill="#dcdcdc"/>
<rect x="291.70" y="382.60" width="1.54" height="13.40" fill="#dcdcdc"/>
<rect x="293.90" y="382.60" width="1.54" height="13.40" fill="#dcdcdc"/>
<rect x="296.10" y="382.60" width="1.54" height="13.40" fill="#dcdcdc"/>
<rect x="298.31" y="382.60" width="1.54" height="13.40" fill="#dcdcdc"/>
<rect x="300.51" y="382.60" width="1.54" height="13.40" fill="#dcdcdc"/>
<rect x="302.71" y="382.60" width="1.54" height="13.40" fill="#dcdcdc"/>
<rect x="304.91" y="382.60" width="1.54" height="13.40" fill="#dcdcdc"/>
<rect x="307.12" y="382.60" width="1.54" height="13.40" fill="#dcdcdc"/>
<rect x="309.32" y="382.60" width="1.54" height="13.40" fill="#dcdcdc"/>
<rect x="311.52" y="382.60" width="1.54" height="13.40" fill="#dcdcdc"/>
<rect x="313.72" y="382.60" width="1.54" height="13.40" fill="#dcdcdc"/>
<rect x="315.93" y="382.60" width="1.54" height="13.40" fill="#dcdcdc"/>
<rect x="318.13" y="382.60" width="1.54" height="13.40" fill="#dcdcdc"/>
<text x="29.80" y="392.00" font-size="7.94" fill="#111" color="#111" text-anchor="end" textLength="10.98" lengthAdjust="spacingAndGlyphs">8%</text>
<text x="324.70" y="392.00" font-size="7.94" fill="#111" color="#111" textLength="64.27" lengthAdjust="spacingAndGlyphs">FLT3−ITD low ratio</text>
<rect x="33.70" y="397.40" width="286.30" height="13.40" fill="#ffffff"/>
<rect x="34.03" y="397.40" width="1.54" height="13.40" fill="#dcdcdc"/>
<rect x="36.23" y="397.40" width="1.54" height="13.40" fill="#dcdcdc"/>
<rect x="38.43" y="397.40" width="1.54" height="13.40" fill="#dcdcdc"/>
<rect x="40.64" y="397.40" width="1.54" height="13.40" fill="#dcdcdc"/>
<rect x="42.84" y="397.40" width="1.54" height="13.40" fill="#dcdcdc"/>
<rect x="45.04" y="397.40" width="1.54" height="13.40" fill="#dcdcdc"/>
<rect x="47.24" y="397.40" width="1.54" height="13.40" fill="#dcdcdc"/>
<rect x="49.45" y="397.40" width="1.54" height="13.40" fill="#3b9b6b"/>
<rect x="51.65" y="397.40" width="1.54" height="13.40" fill="#dcdcdc"/>
<rect x="53.85" y="397.40" width="1.54" height="13.40" fill="#3b9b6b"/>
<rect x="56.05" y="397.40" width="1.54" height="13.40" fill="#3b9b6b"/>
<rect x="58.26" y="397.40" width="1.54" height="13.40" fill="#3b9b6b"/>
<rect x="60.46" y="397.40" width="1.54" height="13.40" fill="#3b9b6b"/>
<rect x="62.66" y="397.40" width="1.54" height="13.40" fill="#dcdcdc"/>
<rect x="64.86" y="397.40" width="1.54" height="13.40" fill="#dcdcdc"/>
<rect x="67.06" y="397.40" width="1.54" height="13.40" fill="#dcdcdc"/>
<rect x="69.27" y="397.40" width="1.54" height="13.40" fill="#dcdcdc"/>
<rect x="71.47" y="397.40" width="1.54" height="13.40" fill="#dcdcdc"/>
<rect x="73.67" y="397.40" width="1.54" height="13.40" fill="#dcdcdc"/>
<rect x="75.87" y="397.40" width="1.54" height="13.40" fill="#dcdcdc"/>
<rect x="78.08" y="397.40" width="1.54" height="13.40" fill="#dcdcdc"/>
<rect x="80.28" y="397.40" width="1.54" height="13.40" fill="#dcdcdc"/>
<rect x="82.48" y="397.40" width="1.54" height="13.40" fill="#3b9b6b"/>
<rect x="84.68" y="397.40" width="1.54" height="13.40" fill="#3b9b6b"/>
<rect x="86.89" y="397.40" width="1.54" height="13.40" fill="#dcdcdc"/>
<rect x="89.09" y="397.40" width="1.54" height="13.40" fill="#dcdcdc"/>
<rect x="91.29" y="397.40" width="1.54" height="13.40" fill="#dcdcdc"/>
<rect x="93.49" y="397.40" width="1.54" height="13.40" fill="#dcdcdc"/>
<rect x="95.69" y="397.40" width="1.54" height="13.40" fill="#dcdcdc"/>
<rect x="97.90" y="397.40" width="1.54" height="13.40" fill="#dcdcdc"/>
<rect x="100.10" y="397.40" width="1.54" height="13.40" fill="#dcdcdc"/>
<rect x="102.30" y="397.40" width="1.54" height="13.40" fill="#dcdcdc"/>
<rect x="104.50" y="397.40" width="1.54" height="13.40" fill="#dcdcdc"/>
<rect x="106.71" y="397.40" width="1.54" height="13.40" fill="#dcdcdc"/>
<rect x="108.91" y="397.40" width="1.54" height="13.40" fill="#dcdcdc"/>
<rect x="111.11" y="397.40" width="1.54" height="13.40" fill="#dcdcdc"/>
<rect x="113.31" y="397.40" width="1.54" height="13.40" fill="#dcdcdc"/>
<rect x="115.52" y="397.40" width="1.54" height="13.40" fill="#dcdcdc"/>
<rect x="117.72" y="397.40" width="1.54" height="13.40" fill="#dcdcdc"/>
<rect x="119.92" y="397.40" width="1.54" height="13.40" fill="#dcdcdc"/>
<rect x="122.12" y="397.40" width="1.54" height="13.40" fill="#dcdcdc"/>
<rect x="124.32" y="397.40" width="1.54" height="13.40" fill="#dcdcdc"/>
<rect x="126.53" y="397.40" width="1.54" height="13.40" fill="#dcdcdc"/>
<rect x="128.73" y="397.40" width="1.54" height="13.40" fill="#dcdcdc"/>
<rect x="130.93" y="397.40" width="1.54" height="13.40" fill="#dcdcdc"/>
<rect x="133.13" y="397.40" width="1.54" height="13.40" fill="#dcdcdc"/>
<rect x="135.34" y="397.40" width="1.54" height="13.40" fill="#dcdcdc"/>
<rect x="137.54" y="397.40" width="1.54" height="13.40" fill="#dcdcdc"/>
<rect x="139.74" y="397.40" width="1.54" height="13.40" fill="#dcdcdc"/>
<rect x="141.94" y="397.40" width="1.54" height="13.40" fill="#dcdcdc"/>
<rect x="144.15" y="397.40" width="1.54" height="13.40" fill="#dcdcdc"/>
<rect x="146.35" y="397.40" width="1.54" height="13.40" fill="#dcdcdc"/>
<rect x="148.55" y="397.40" width="1.54" height="13.40" fill="#dcdcdc"/>
<rect x="150.75" y="397.40" width="1.54" height="13.40" fill="#dcdcdc"/>
<rect x="152.95" y="397.40" width="1.54" height="13.40" fill="#dcdcdc"/>
<rect x="155.16" y="397.40" width="1.54" height="13.40" fill="#dcdcdc"/>
<rect x="157.36" y="397.40" width="1.54" height="13.40" fill="#dcdcdc"/>
<rect x="159.56" y="397.40" width="1.54" height="13.40" fill="#dcdcdc"/>
<rect x="161.76" y="397.40" width="1.54" height="13.40" fill="#dcdcdc"/>
<rect x="163.97" y="397.40" width="1.54" height="13.40" fill="#dcdcdc"/>
<rect x="166.17" y="397.40" width="1.54" height="13.40" fill="#dcdcdc"/>
<rect x="168.37" y="397.40" width="1.54" height="13.40" fill="#dcdcdc"/>
<rect x="170.57" y="397.40" width="1.54" height="13.40" fill="#dcdcdc"/>
<rect x="172.78" y="397.40" width="1.54" height="13.40" fill="#dcdcdc"/>
<rect x="174.98" y="397.40" width="1.54" height="13.40" fill="#dcdcdc"/>
<rect x="177.18" y="397.40" width="1.54" height="13.40" fill="#dcdcdc"/>
<rect x="179.38" y="397.40" width="1.54" height="13.40" fill="#dcdcdc"/>
<rect x="181.58" y="397.40" width="1.54" height="13.40" fill="#dcdcdc"/>
<rect x="183.79" y="397.40" width="1.54" height="13.40" fill="#dcdcdc"/>
<rect x="185.99" y="397.40" width="1.54" height="13.40" fill="#dcdcdc"/>
<rect x="188.19" y="397.40" width="1.54" height="13.40" fill="#dcdcdc"/>
<rect x="190.39" y="397.40" width="1.54" height="13.40" fill="#dcdcdc"/>
<rect x="192.60" y="397.40" width="1.54" height="13.40" fill="#dcdcdc"/>
<rect x="194.80" y="397.40" width="1.54" height="13.40" fill="#dcdcdc"/>
<rect x="197.00" y="397.40" width="1.54" height="13.40" fill="#dcdcdc"/>
<rect x="199.20" y="397.40" width="1.54" height="13.40" fill="#dcdcdc"/>
<rect x="201.41" y="397.40" width="1.54" height="13.40" fill="#dcdcdc"/>
<rect x="203.61" y="397.40" width="1.54" height="13.40" fill="#dcdcdc"/>
<rect x="205.81" y="397.40" width="1.54" height="13.40" fill="#dcdcdc"/>
<rect x="208.01" y="397.40" width="1.54" height="13.40" fill="#dcdcdc"/>
<rect x="210.21" y="397.40" width="1.54" height="13.40" fill="#dcdcdc"/>
<rect x="212.42" y="397.40" width="1.54" height="13.40" fill="#3b9b6b"/>
<rect x="214.62" y="397.40" width="1.54" height="13.40" fill="#3b9b6b"/>
<rect x="216.82" y="397.40" width="1.54" height="13.40" fill="#3b9b6b"/>
<rect x="219.02" y="397.40" width="1.54" height="13.40" fill="#3b9b6b"/>
<rect x="221.23" y="397.40" width="1.54" height="13.40" fill="#dcdcdc"/>
<rect x="223.43" y="397.40" width="1.54" height="13.40" fill="#dcdcdc"/>
<rect x="225.63" y="397.40" width="1.54" height="13.40" fill="#dcdcdc"/>
<rect x="227.83" y="397.40" width="1.54" height="13.40" fill="#dcdcdc"/>
<rect x="230.04" y="397.40" width="1.54" height="13.40" fill="#dcdcdc"/>
<rect x="232.24" y="397.40" width="1.54" height="13.40" fill="#dcdcdc"/>
<rect x="234.44" y="397.40" width="1.54" height="13.40" fill="#dcdcdc"/>
<rect x="236.64" y="397.40" width="1.54" height="13.40" fill="#dcdcdc"/>
<rect x="238.84" y="397.40" width="1.54" height="13.40" fill="#dcdcdc"/>
<rect x="241.05" y="397.40" width="1.54" height="13.40" fill="#dcdcdc"/>
<rect x="243.25" y="397.40" width="1.54" height="13.40" fill="#dcdcdc"/>
<rect x="245.45" y="397.40" width="1.54" height="13.40" fill="#dcdcdc"/>
<rect x="247.65" y="397.40" width="1.54" height="13.40" fill="#dcdcdc"/>
<rect x="249.86" y="397.40" width="1.54" height="13.40" fill="#dcdcdc"/>
<rect x="252.06" y="397.40" width="1.54" height="13.40" fill="#dcdcdc"/>
<rect x="254.26" y="397.40" width="1.54" height="13.40" fill="#dcdcdc"/>
<rect x="256.46" y="397.40" width="1.54" height="13.40" fill="#dcdcdc"/>
<rect x="258.67" y="397.40" width="1.54" height="13.40" fill="#dcdcdc"/>
<rect x="260.87" y="397.40" width="1.54" height="13.40" fill="#dcdcdc"/>
<rect x="263.07" y="397.40" width="1.54" height="13.40" fill="#dcdcdc"/>
<rect x="265.27" y="397.40" width="1.54" height="13.40" fill="#dcdcdc"/>
<rect x="267.47" y="397.40" width="1.54" height="13.40" fill="#dcdcdc"/>
<rect x="269.68" y="397.40" width="1.54" height="13.40" fill="#dcdcdc"/>
<rect x="271.88" y="397.40" width="1.54" height="13.40" fill="#dcdcdc"/>
<rect x="274.08" y="397.40" width="1.54" height="13.40" fill="#dcdcdc"/>
<rect x="276.28" y="397.40" width="1.54" height="13.40" fill="#dcdcdc"/>
<rect x="278.49" y="397.40" width="1.54" height="13.40" fill="#dcdcdc"/>
<rect x="280.69" y="397.40" width="1.54" height="13.40" fill="#dcdcdc"/>
<rect x="282.89" y="397.40" width="1.54" height="13.40" fill="#dcdcdc"/>
<rect x="285.09" y="397.40" width="1.54" height="13.40" fill="#dcdcdc"/>
<rect x="287.30" y="397.40" width="1.54" height="13.40" fill="#dcdcdc"/>
<rect x="289.50" y="397.40" width="1.54" height="13.40" fill="#dcdcdc"/>
<rect x="291.70" y="397.40" width="1.54" height="13.40" fill="#dcdcdc"/>
<rect x="293.90" y="397.40" width="1.54" height="13.40" fill="#dcdcdc"/>
<rect x="296.10" y="397.40" width="1.54" height="13.40" fill="#dcdcdc"/>
<rect x="298.31" y="397.40" width="1.54" height="13.40" fill="#dcdcdc"/>
<rect x="300.51" y="397.40" width="1.54" height="13.40" fill="#dcdcdc"/>
<rect x="302.71" y="397.40" width="1.54" height="13.40" fill="#dcdcdc"/>
<rect x="304.91" y="397.40" width="1.54" height="13.40" fill="#dcdcdc"/>
<rect x="307.12" y="397.40" width="1.54" height="13.40" fill="#dcdcdc"/>
<rect x="309.32" y="397.40" width="1.54" height="13.40" fill="#dcdcdc"/>
<rect x="311.52" y="397.40" width="1.54" height="13.40" fill="#dcdcdc"/>
<rect x="313.72" y="397.40" width="1.54" height="13.40" fill="#dcdcdc"/>
<rect x="315.93" y="397.40" width="1.54" height="13.40" fill="#dcdcdc"/>
<rect x="318.13" y="397.40" width="1.54" height="13.40" fill="#dcdcdc"/>
<text x="29.80" y="406.80" font-size="7.94" fill="#111" color="#111" text-anchor="end" textLength="10.98" lengthAdjust="spacingAndGlyphs">8%</text>
<text x="324.70" y="406.80" font-size="7.94" fill="#111" color="#111" textLength="67.23" lengthAdjust="spacingAndGlyphs">FLT3−ITD high ratio</text>
<rect x="33.70" y="415.00" width="286.30" height="13.40" fill="#ffffff"/>
<rect x="34.03" y="415.00" width="1.54" height="13.40" fill="#dcdcdc"/>
<rect x="36.23" y="415.00" width="1.54" height="13.40" fill="#dcdcdc"/>
<rect x="38.43" y="415.00" width="1.54" height="13.40" fill="#dcdcdc"/>
<rect x="40.64" y="415.00" width="1.54" height="13.40" fill="#dcdcdc"/>
<rect x="42.84" y="415.00" width="1.54" height="13.40" fill="#dcdcdc"/>
<rect x="45.04" y="415.00" width="1.54" height="13.40" fill="#dcdcdc"/>
<rect x="47.24" y="415.00" width="1.54" height="13.40" fill="#dcdcdc"/>
<rect x="49.45" y="415.00" width="1.54" height="13.40" fill="#3b9b6b"/>
<rect x="51.65" y="415.00" width="1.54" height="13.40" fill="#dcdcdc"/>
<rect x="53.85" y="415.00" width="1.54" height="13.40" fill="#dcdcdc"/>
<rect x="56.05" y="415.00" width="1.54" height="13.40" fill="#dcdcdc"/>
<rect x="58.26" y="415.00" width="1.54" height="13.40" fill="#dcdcdc"/>
<rect x="60.46" y="415.00" width="1.54" height="13.40" fill="#dcdcdc"/>
<rect x="62.66" y="415.00" width="1.54" height="13.40" fill="#dcdcdc"/>
<rect x="64.86" y="415.00" width="1.54" height="13.40" fill="#dcdcdc"/>
<rect x="67.06" y="415.00" width="1.54" height="13.40" fill="#dcdcdc"/>
<rect x="69.27" y="415.00" width="1.54" height="13.40" fill="#dcdcdc"/>
<rect x="71.47" y="415.00" width="1.54" height="13.40" fill="#dcdcdc"/>
<rect x="73.67" y="415.00" width="1.54" height="13.40" fill="#dcdcdc"/>
<rect x="75.87" y="415.00" width="1.54" height="13.40" fill="#3b9b6b"/>
<rect x="78.08" y="415.00" width="1.54" height="13.40" fill="#dcdcdc"/>
<rect x="80.28" y="415.00" width="1.54" height="13.40" fill="#dcdcdc"/>
<rect x="82.48" y="415.00" width="1.54" height="13.40" fill="#dcdcdc"/>
<rect x="84.68" y="415.00" width="1.54" height="13.40" fill="#dcdcdc"/>
<rect x="86.89" y="415.00" width="1.54" height="13.40" fill="#dcdcdc"/>
<rect x="89.09" y="415.00" width="1.54" height="13.40" fill="#dcdcdc"/>
<rect x="91.29" y="415.00" width="1.54" height="13.40" fill="#dcdcdc"/>
<rect x="93.49" y="415.00" width="1.54" height="13.40" fill="#dcdcdc"/>
<rect x="95.69" y="415.00" width="1.54" height="13.40" fill="#dcdcdc"/>
<rect x="97.90" y="415.00" width="1.54" height="13.40" fill="#dcdcdc"/>
<rect x="100.10" y="415.00" width="1.54" height="13.40" fill="#dcdcdc"/>
<rect x="102.30" y="415.00" width="1.54" height="13.40" fill="#dcdcdc"/>
<rect x="104.50" y="415.00" width="1.54" height="13.40" fill="#dcdcdc"/>
<rect x="106.71" y="415.00" width="1.54" height="13.40" fill="#dcdcdc"/>
<rect x="108.91" y="415.00" width="1.54" height="13.40" fill="#3b9b6b"/>
<rect x="111.11" y="415.00" width="1.54" height="13.40" fill="#dcdcdc"/>
<rect x="113.31" y="415.00" width="1.54" height="13.40" fill="#dcdcdc"/>
<rect x="115.52" y="415.00" width="1.54" height="13.40" fill="#dcdcdc"/>
<rect x="117.72" y="415.00" width="1.54" height="13.40" fill="#dcdcdc"/>
<rect x="119.92" y="415.00" width="1.54" height="13.40" fill="#dcdcdc"/>
<rect x="122.12" y="415.00" width="1.54" height="13.40" fill="#dcdcdc"/>
<rect x="124.32" y="415.00" width="1.54" height="13.40" fill="#dcdcdc"/>
<rect x="126.53" y="415.00" width="1.54" height="13.40" fill="#dcdcdc"/>
<rect x="128.73" y="415.00" width="1.54" height="13.40" fill="#dcdcdc"/>
<rect x="130.93" y="415.00" width="1.54" height="13.40" fill="#dcdcdc"/>
<rect x="133.13" y="415.00" width="1.54" height="13.40" fill="#dcdcdc"/>
<rect x="135.34" y="415.00" width="1.54" height="13.40" fill="#dcdcdc"/>
<rect x="137.54" y="415.00" width="1.54" height="13.40" fill="#dcdcdc"/>
<rect x="139.74" y="415.00" width="1.54" height="13.40" fill="#dcdcdc"/>
<rect x="141.94" y="415.00" width="1.54" height="13.40" fill="#dcdcdc"/>
<rect x="144.15" y="415.00" width="1.54" height="13.40" fill="#dcdcdc"/>
<rect x="146.35" y="415.00" width="1.54" height="13.40" fill="#dcdcdc"/>
<rect x="148.55" y="415.00" width="1.54" height="13.40" fill="#dcdcdc"/>
<rect x="150.75" y="415.00" width="1.54" height="13.40" fill="#dcdcdc"/>
<rect x="152.95" y="415.00" width="1.54" height="13.40" fill="#3b9b6b"/>
<rect x="155.16" y="415.00" width="1.54" height="13.40" fill="#3b9b6b"/>
<rect x="157.36" y="415.00" width="1.54" height="13.40" fill="#3b9b6b"/>
<rect x="159.56" y="415.00" width="1.54" height="13.40" fill="#3b9b6b"/>
<rect x="161.76" y="415.00" width="1.54" height="13.40" fill="#3b9b6b"/>
<rect x="163.97" y="415.00" width="1.54" height="13.40" fill="#3b9b6b"/>
<rect x="166.17" y="415.00" width="1.54" height="13.40" fill="#3b9b6b"/>
<rect x="168.37" y="415.00" width="1.54" height="13.40" fill="#3b9b6b"/>
<rect x="170.57" y="415.00" width="1.54" height="13.40" fill="#3b9b6b"/>
<rect x="172.78" y="415.00" width="1.54" height="13.40" fill="#3b9b6b"/>
<rect x="174.98" y="415.00" width="1.54" height="13.40" fill="#3b9b6b"/>
<rect x="177.18" y="415.00" width="1.54" height="13.40" fill="#3b9b6b"/>
<rect x="179.38" y="415.00" width="1.54" height="13.40" fill="#3b9b6b"/>
<rect x="181.58" y="415.00" width="1.54" height="13.40" fill="#dcdcdc"/>
<rect x="183.79" y="415.00" width="1.54" height="13.40" fill="#dcdcdc"/>
<rect x="185.99" y="415.00" width="1.54" height="13.40" fill="#dcdcdc"/>
<rect x="188.19" y="415.00" width="1.54" height="13.40" fill="#dcdcdc"/>
<rect x="190.39" y="415.00" width="1.54" height="13.40" fill="#dcdcdc"/>
<rect x="192.60" y="415.00" width="1.54" height="13.40" fill="#dcdcdc"/>
<rect x="194.80" y="415.00" width="1.54" height="13.40" fill="#dcdcdc"/>
<rect x="197.00" y="415.00" width="1.54" height="13.40" fill="#dcdcdc"/>
<rect x="199.20" y="415.00" width="1.54" height="13.40" fill="#dcdcdc"/>
<rect x="201.41" y="415.00" width="1.54" height="13.40" fill="#dcdcdc"/>
<rect x="203.61" y="415.00" width="1.54" height="13.40" fill="#dcdcdc"/>
<rect x="205.81" y="415.00" width="1.54" height="13.40" fill="#dcdcdc"/>
<rect x="208.01" y="415.00" width="1.54" height="13.40" fill="#dcdcdc"/>
<rect x="210.21" y="415.00" width="1.54" height="13.40" fill="#dcdcdc"/>
<rect x="212.42" y="415.00" width="1.54" height="13.40" fill="#dcdcdc"/>
<rect x="214.62" y="415.00" width="1.54" height="13.40" fill="#dcdcdc"/>
<rect x="216.82" y="415.00" width="1.54" height="13.40" fill="#dcdcdc"/>
<rect x="219.02" y="415.00" width="1.54" height="13.40" fill="#dcdcdc"/>
<rect x="221.23" y="415.00" width="1.54" height="13.40" fill="#dcdcdc"/>
<rect x="223.43" y="415.00" width="1.54" height="13.40" fill="#dcdcdc"/>
<rect x="225.63" y="415.00" width="1.54" height="13.40" fill="#dcdcdc"/>
<rect x="227.83" y="415.00" width="1.54" height="13.40" fill="#dcdcdc"/>
<rect x="230.04" y="415.00" width="1.54" height="13.40" fill="#dcdcdc"/>
<rect x="232.24" y="415.00" width="1.54" height="13.40" fill="#dcdcdc"/>
<rect x="234.44" y="415.00" width="1.54" height="13.40" fill="#dcdcdc"/>
<rect x="236.64" y="415.00" width="1.54" height="13.40" fill="#dcdcdc"/>
<rect x="238.84" y="415.00" width="1.54" height="13.40" fill="#dcdcdc"/>
<rect x="241.05" y="415.00" width="1.54" height="13.40" fill="#dcdcdc"/>
<rect x="243.25" y="415.00" width="1.54" height="13.40" fill="#dcdcdc"/>
<rect x="245.45" y="415.00" width="1.54" height="13.40" fill="#dcdcdc"/>
<rect x="247.65" y="415.00" width="1.54" height="13.40" fill="#dcdcdc"/>
<rect x="249.86" y="415.00" width="1.54" height="13.40" fill="#dcdcdc"/>
<rect x="252.06" y="415.00" width="1.54" height="13.40" fill="#dcdcdc"/>
<rect x="254.26" y="415.00" width="1.54" height="13.40" fill="#dcdcdc"/>
<rect x="256.46" y="415.00" width="1.54" height="13.40" fill="#dcdcdc"/>
<rect x="258.67" y="415.00" width="1.54" height="13.40" fill="#dcdcdc"/>
<rect x="260.87" y="415.00" width="1.54" height="13.40" fill="#dcdcdc"/>
<rect x="263.07" y="415.00" width="1.54" height="13.40" fill="#dcdcdc"/>
<rect x="265.27" y="415.00" width="1.54" height="13.40" fill="#dcdcdc"/>
<rect x="267.47" y="415.00" width="1.54" height="13.40" fill="#dcdcdc"/>
<rect x="269.68" y="415.00" width="1.54" height="13.40" fill="#dcdcdc"/>
<rect x="271.88" y="415.00" width="1.54" height="13.40" fill="#dcdcdc"/>
<rect x="274.08" y="415.00" width="1.54" height="13.40" fill="#dcdcdc"/>
<rect x="276.28" y="415.00" width="1.54" height="13.40" fill="#dcdcdc"/>
<rect x="278.49" y="415.00" width="1.54" height="13.40" fill="#dcdcdc"/>
<rect x="280.69" y="415.00" width="1.54" height="13.40" fill="#dcdcdc"/>
<rect x="282.89" y="415.00" width="1.54" height="13.40" fill="#dcdcdc"/>
<rect x="285.09" y="415.00" width="1.54" height="13.40" fill="#dcdcdc"/>
<rect x="287.30" y="415.00" width="1.54" height="13.40" fill="#dcdcdc"/>
<rect x="289.50" y="415.00" width="1.54" height="13.40" fill="#dcdcdc"/>
<rect x="291.70" y="415.00" width="1.54" height="13.40" fill="#dcdcdc"/>
<rect x="293.90" y="415.00" width="1.54" height="13.40" fill="#dcdcdc"/>
<rect x="296.10" y="415.00" width="1.54" height="13.40" fill="#dcdcdc"/>
<rect x="298.31" y="415.00" width="1.54" height="13.40" fill="#dcdcdc"/>
<rect x="300.51" y="415.00" width="1.54" height="13.40" fill="#dcdcdc"/>
<rect x="302.71" y="415.00" width="1.54" height="13.40" fill="#dcdcdc"/>
<rect x="304.91" y="415.00" width="1.54" height="13.40" fill="#dcdcdc"/>
<rect x="307.12" y="415.00" width="1.54" height="13.40" fill="#dcdcdc"/>
<rect x="309.32" y="415.00" width="1.54" height="13.40" fill="#dcdcdc"/>
<rect x="311.52" y="415.00" width="1.54" height="13.40" fill="#dcdcdc"/>
<rect x="313.72" y="415.00" width="1.54" height="13.40" fill="#dcdcdc"/>
<rect x="315.93" y="415.00" width="1.54" height="13.40" fill="#dcdcdc"/>
<rect x="318.13" y="415.00" width="1.54" height="13.40" fill="#dcdcdc"/>
<text x="29.80" y="424.40" font-size="7.94" fill="#111" color="#111" text-anchor="end" textLength="15.21" lengthAdjust="spacingAndGlyphs">12%</text>
<text x="324.70" y="424.40" font-size="7.94" fill="#111" color="#111" textLength="18.17" lengthAdjust="spacingAndGlyphs">TP53</text>
<rect x="33.70" y="430.00" width="286.30" height="13.40" fill="#ffffff"/>
<rect x="34.03" y="430.00" width="1.54" height="13.40" fill="#dcdcdc"/>
<rect x="36.23" y="430.00" width="1.54" height="13.40" fill="#dcdcdc"/>
<rect x="38.43" y="430.00" width="1.54" height="13.40" fill="#3b9b6b"/>
<rect x="40.64" y="430.00" width="1.54" height="13.40" fill="#3b9b6b"/>
<rect x="42.84" y="430.00" width="1.54" height="13.40" fill="#dcdcdc"/>
<rect x="45.04" y="430.00" width="1.54" height="13.40" fill="#dcdcdc"/>
<rect x="47.24" y="430.00" width="1.54" height="13.40" fill="#dcdcdc"/>
<rect x="49.45" y="430.00" width="1.54" height="13.40" fill="#dcdcdc"/>
<rect x="51.65" y="430.00" width="1.54" height="13.40" fill="#dcdcdc"/>
<rect x="53.85" y="430.00" width="1.54" height="13.40" fill="#dcdcdc"/>
<rect x="56.05" y="430.00" width="1.54" height="13.40" fill="#dcdcdc"/>
<rect x="58.26" y="430.00" width="1.54" height="13.40" fill="#dcdcdc"/>
<rect x="60.46" y="430.00" width="1.54" height="13.40" fill="#dcdcdc"/>
<rect x="62.66" y="430.00" width="1.54" height="13.40" fill="#dcdcdc"/>
<rect x="64.86" y="430.00" width="1.54" height="13.40" fill="#dcdcdc"/>
<rect x="67.06" y="430.00" width="1.54" height="13.40" fill="#dcdcdc"/>
<rect x="69.27" y="430.00" width="1.54" height="13.40" fill="#dcdcdc"/>
<rect x="71.47" y="430.00" width="1.54" height="13.40" fill="#dcdcdc"/>
<rect x="73.67" y="430.00" width="1.54" height="13.40" fill="#dcdcdc"/>
<rect x="75.87" y="430.00" width="1.54" height="13.40" fill="#dcdcdc"/>
<rect x="78.08" y="430.00" width="1.54" height="13.40" fill="#dcdcdc"/>
<rect x="80.28" y="430.00" width="1.54" height="13.40" fill="#dcdcdc"/>
<rect x="82.48" y="430.00" width="1.54" height="13.40" fill="#dcdcdc"/>
<rect x="84.68" y="430.00" width="1.54" height="13.40" fill="#dcdcdc"/>
<rect x="86.89" y="430.00" width="1.54" height="13.40" fill="#dcdcdc"/>
<rect x="89.09" y="430.00" width="1.54" height="13.40" fill="#dcdcdc"/>
<rect x="91.29" y="430.00" width="1.54" height="13.40" fill="#dcdcdc"/>
<rect x="93.49" y="430.00" width="1.54" height="13.40" fill="#dcdcdc"/>
<rect x="95.69" y="430.00" width="1.54" height="13.40" fill="#dcdcdc"/>
<rect x="97.90" y="430.00" width="1.54" height="13.40" fill="#dcdcdc"/>
<rect x="100.10" y="430.00" width="1.54" height="13.40" fill="#dcdcdc"/>
<rect x="102.30" y="430.00" width="1.54" height="13.40" fill="#dcdcdc"/>
<rect x="104.50" y="430.00" width="1.54" height="13.40" fill="#dcdcdc"/>
<rect x="106.71" y="430.00" width="1.54" height="13.40" fill="#dcdcdc"/>
<rect x="108.91" y="430.00" width="1.54" height="13.40" fill="#3b9b6b"/>
<rect x="111.11" y="430.00" width="1.54" height="13.40" fill="#dcdcdc"/>
<rect x="113.31" y="430.00" width="1.54" height="13.40" fill="#3b9b6b"/>
<rect x="115.52" y="430.00" width="1.54" height="13.40" fill="#dcdcdc"/>
<rect x="117.72" y="430.00" width="1.54" height="13.40" fill="#3b9b6b"/>
<rect x="119.92" y="430.00" width="1.54" height="13.40" fill="#3b9b6b"/>
<rect x="122.12" y="430.00" width="1.54" height="13.40" fill="#3b9b6b"/>
<rect x="124.32" y="430.00" width="1.54" height="13.40" fill="#dcdcdc"/>
<rect x="126.53" y="430.00" width="1.54" height="13.40" fill="#dcdcdc"/>
<rect x="128.73" y="430.00" width="1.54" height="13.40" fill="#dcdcdc"/>
<rect x="130.93" y="430.00" width="1.54" height="13.40" fill="#dcdcdc"/>
<rect x="133.13" y="430.00" width="1.54" height="13.40" fill="#dcdcdc"/>
<rect x="135.34" y="430.00" width="1.54" height="13.40" fill="#dcdcdc"/>
<rect x="137.54" y="430.00" width="1.54" height="13.40" fill="#dcdcdc"/>
<rect x="139.74" y="430.00" width="1.54" height="13.40" fill="#dcdcdc"/>
<rect x="141.94" y="430.00" width="1.54" height="13.40" fill="#dcdcdc"/>
<rect x="144.15" y="430.00" width="1.54" height="13.40" fill="#dcdcdc"/>
<rect x="146.35" y="430.00" width="1.54" height="13.40" fill="#dcdcdc"/>
<rect x="148.55" y="430.00" width="1.54" height="13.40" fill="#dcdcdc"/>
<rect x="150.75" y="430.00" width="1.54" height="13.40" fill="#dcdcdc"/>
<rect x="152.95" y="430.00" width="1.54" height="13.40" fill="#dcdcdc"/>
<rect x="155.16" y="430.00" width="1.54" height="13.40" fill="#dcdcdc"/>
<rect x="157.36" y="430.00" width="1.54" height="13.40" fill="#dcdcdc"/>
<rect x="159.56" y="430.00" width="1.54" height="13.40" fill="#dcdcdc"/>
<rect x="161.76" y="430.00" width="1.54" height="13.40" fill="#dcdcdc"/>
<rect x="163.97" y="430.00" width="1.54" height="13.40" fill="#dcdcdc"/>
<rect x="166.17" y="430.00" width="1.54" height="13.40" fill="#dcdcdc"/>
<rect x="168.37" y="430.00" width="1.54" height="13.40" fill="#dcdcdc"/>
<rect x="170.57" y="430.00" width="1.54" height="13.40" fill="#dcdcdc"/>
<rect x="172.78" y="430.00" width="1.54" height="13.40" fill="#dcdcdc"/>
<rect x="174.98" y="430.00" width="1.54" height="13.40" fill="#dcdcdc"/>
<rect x="177.18" y="430.00" width="1.54" height="13.40" fill="#dcdcdc"/>
<rect x="179.38" y="430.00" width="1.54" height="13.40" fill="#dcdcdc"/>
<rect x="181.58" y="430.00" width="1.54" height="13.40" fill="#dcdcdc"/>
<rect x="183.79" y="430.00" width="1.54" height="13.40" fill="#dcdcdc"/>
<rect x="185.99" y="430.00" width="1.54" height="13.40" fill="#dcdcdc"/>
<rect x="188.19" y="430.00" width="1.54" height="13.40" fill="#dcdcdc"/>
<rect x="190.39" y="430.00" width="1.54" height="13.40" fill="#dcdcdc"/>
<rect x="192.60" y="430.00" width="1.54" height="13.40" fill="#dcdcdc"/>
<rect x="194.80" y="430.00" width="1.54" height="13.40" fill="#dcdcdc"/>
<rect x="197.00" y="430.00" width="1.54" height="13.40" fill="#dcdcdc"/>
<rect x="199.20" y="430.00" width="1.54" height="13.40" fill="#dcdcdc"/>
<rect x="201.41" y="430.00" width="1.54" height="13.40" fill="#dcdcdc"/>
<rect x="203.61" y="430.00" width="1.54" height="13.40" fill="#dcdcdc"/>
<rect x="205.81" y="430.00" width="1.54" height="13.40" fill="#dcdcdc"/>
<rect x="208.01" y="430.00" width="1.54" height="13.40" fill="#dcdcdc"/>
<rect x="210.21" y="430.00" width="1.54" height="13.40" fill="#dcdcdc"/>
<rect x="212.42" y="430.00" width="1.54" height="13.40" fill="#dcdcdc"/>
<rect x="214.62" y="430.00" width="1.54" height="13.40" fill="#dcdcdc"/>
<rect x="216.82" y="430.00" width="1.54" height="13.40" fill="#dcdcdc"/>
<rect x="219.02" y="430.00" width="1.54" height="13.40" fill="#dcdcdc"/>
<rect x="221.23" y="430.00" width="1.54" height="13.40" fill="#3b9b6b"/>
<rect x="223.43" y="430.00" width="1.54" height="13.40" fill="#3b9b6b"/>
<rect x="225.63" y="430.00" width="1.54" height="13.40" fill="#dcdcdc"/>
<rect x="227.83" y="430.00" width="1.54" height="13.40" fill="#dcdcdc"/>
<rect x="230.04" y="430.00" width="1.54" height="13.40" fill="#dcdcdc"/>
<rect x="232.24" y="430.00" width="1.54" height="13.40" fill="#dcdcdc"/>
<rect x="234.44" y="430.00" width="1.54" height="13.40" fill="#dcdcdc"/>
<rect x="236.64" y="430.00" width="1.54" height="13.40" fill="#dcdcdc"/>
<rect x="238.84" y="430.00" width="1.54" height="13.40" fill="#dcdcdc"/>
<rect x="241.05" y="430.00" width="1.54" height="13.40" fill="#dcdcdc"/>
<rect x="243.25" y="430.00" width="1.54" height="13.40" fill="#dcdcdc"/>
<rect x="245.45" y="430.00" width="1.54" height="13.40" fill="#dcdcdc"/>
<rect x="247.65" y="430.00" width="1.54" height="13.40" fill="#dcdcdc"/>
<rect x="249.86" y="430.00" width="1.54" height="13.40" fill="#dcdcdc"/>
<rect x="252.06" y="430.00" width="1.54" height="13.40" fill="#dcdcdc"/>
<rect x="254.26" y="430.00" width="1.54" height="13.40" fill="#dcdcdc"/>
<rect x="256.46" y="430.00" width="1.54" height="13.40" fill="#dcdcdc"/>
<rect x="258.67" y="430.00" width="1.54" height="13.40" fill="#dcdcdc"/>
<rect x="260.87" y="430.00" width="1.54" height="13.40" fill="#dcdcdc"/>
<rect x="263.07" y="430.00" width="1.54" height="13.40" fill="#dcdcdc"/>
<rect x="265.27" y="430.00" width="1.54" height="13.40" fill="#dcdcdc"/>
<rect x="267.47" y="430.00" width="1.54" height="13.40" fill="#dcdcdc"/>
<rect x="269.68" y="430.00" width="1.54" height="13.40" fill="#dcdcdc"/>
<rect x="271.88" y="430.00" width="1.54" height="13.40" fill="#dcdcdc"/>
<rect x="274.08" y="430.00" width="1.54" height="13.40" fill="#dcdcdc"/>
<rect x="276.28" y="430.00" width="1.54" height="13.40" fill="#dcdcdc"/>
<rect x="278.49" y="430.00" width="1.54" height="13.40" fill="#dcdcdc"/>
<rect x="280.69" y="430.00" width="1.54" height="13.40" fill="#dcdcdc"/>
<rect x="282.89" y="430.00" width="1.54" height="13.40" fill="#dcdcdc"/>
<rect x="285.09" y="430.00" width="1.54" height="13.40" fill="#dcdcdc"/>
<rect x="287.30" y="430.00" width="1.54" height="13.40" fill="#dcdcdc"/>
<rect x="289.50" y="430.00" width="1.54" height="13.40" fill="#dcdcdc"/>
<rect x="291.70" y="430.00" width="1.54" height="13.40" fill="#dcdcdc"/>
<rect x="293.90" y="430.00" width="1.54" height="13.40" fill="#dcdcdc"/>
<rect x="296.10" y="430.00" width="1.54" height="13.40" fill="#dcdcdc"/>
<rect x="298.31" y="430.00" width="1.54" height="13.40" fill="#dcdcdc"/>
<rect x="300.51" y="430.00" width="1.54" height="13.40" fill="#dcdcdc"/>
<rect x="302.71" y="430.00" width="1.54" height="13.40" fill="#dcdcdc"/>
<rect x="304.91" y="430.00" width="1.54" height="13.40" fill="#dcdcdc"/>
<rect x="307.12" y="430.00" width="1.54" height="13.40" fill="#dcdcdc"/>
<rect x="309.32" y="430.00" width="1.54" height="13.40" fill="#dcdcdc"/>
<rect x="311.52" y="430.00" width="1.54" height="13.40" fill="#dcdcdc"/>
<rect x="313.72" y="430.00" width="1.54" height="13.40" fill="#dcdcdc"/>
<rect x="315.93" y="430.00" width="1.54" height="13.40" fill="#dcdcdc"/>
<rect x="318.13" y="430.00" width="1.54" height="13.40" fill="#dcdcdc"/>
<text x="29.80" y="439.40" font-size="7.94" fill="#111" color="#111" text-anchor="end" textLength="10.98" lengthAdjust="spacingAndGlyphs">8%</text>
<text x="324.70" y="439.40" font-size="7.94" fill="#111" color="#111" textLength="20.7" lengthAdjust="spacingAndGlyphs">KRAS</text>
<text x="324.70" y="304.00" font-size="7.94" fill="#111" color="#111" textLength="57.7" lengthAdjust="spacingAndGlyphs">3-tiered grouping</text>
<text x="324.70" y="312.10" font-size="7.94" fill="#111" color="#111" textLength="15.2" lengthAdjust="spacingAndGlyphs">CBF</text>
<text x="324.70" y="320.40" font-size="7.94" fill="#111" color="#111" textLength="54.3" lengthAdjust="spacingAndGlyphs">Cytogenetic risk</text>
<text transform="translate(7.9,367.5) rotate(-90)" font-size="8.4" font-weight="bold" text-anchor="middle" fill="#111" color="#111" textLength="27" lengthAdjust="spacingAndGlyphs">Non−poor</text>
<text transform="translate(7.9,429.3) rotate(-90)" font-size="8.4" font-weight="bold" text-anchor="middle" fill="#111" color="#111" textLength="12.8" lengthAdjust="spacingAndGlyphs">Poor</text>
<text x="401.40" y="307.00" font-size="7.73" fill="#111" color="#111" font-weight="bold" textLength="29.4" lengthAdjust="spacingAndGlyphs"># of patients</text>
<text x="402.50" y="317.40" font-size="5.85" fill="#111" color="#111" text-anchor="middle" textLength="3.11" lengthAdjust="spacingAndGlyphs">0</text>
<text x="410.90" y="317.40" font-size="5.85" fill="#111" color="#111" text-anchor="middle" textLength="6.23" lengthAdjust="spacingAndGlyphs">10</text>
<text x="419.40" y="317.40" font-size="5.85" fill="#111" color="#111" text-anchor="middle" textLength="6.23" lengthAdjust="spacingAndGlyphs">20</text>
<text x="427.90" y="317.40" font-size="5.85" fill="#111" color="#111" text-anchor="middle" textLength="6.23" lengthAdjust="spacingAndGlyphs">30</text>
<line x1="401.80" y1="323.00" x2="431.50" y2="323.00" stroke="#222" stroke-width="1"/>
<line x1="402.60" y1="320.30" x2="402.60" y2="323.00" stroke="#222" stroke-width="0.9"/>
<line x1="411.10" y1="320.30" x2="411.10" y2="323.00" stroke="#222" stroke-width="0.9"/>
<line x1="419.50" y1="320.30" x2="419.50" y2="323.00" stroke="#222" stroke-width="0.9"/>
<line x1="427.80" y1="320.30" x2="427.80" y2="323.00" stroke="#222" stroke-width="0.9"/>
<rect x="403.20" y="326.20" width="25.90" height="8.00" fill="#1b7f4a"/>
<rect x="403.20" y="341.00" width="20.60" height="8.00" fill="#1b7f4a"/>
<rect x="403.20" y="355.80" width="15.10" height="8.00" fill="#1b7f4a"/>
<rect x="403.20" y="370.60" width="9.20" height="8.00" fill="#1b7f4a"/>
<rect x="403.20" y="385.30" width="8.60" height="8.00" fill="#1b7f4a"/>
<rect x="403.20" y="400.10" width="8.60" height="8.00" fill="#1b7f4a"/>
<rect x="403.20" y="417.70" width="13.00" height="8.00" fill="#1b7f4a"/>
<rect x="403.20" y="432.70" width="7.90" height="8.00" fill="#1b7f4a"/>
<rect x="437.80" y="317.00" width="4.60" height="4.60" fill="#1b7f4a"/>
<text x="445.50" y="322.00" font-size="7.94" fill="#111" color="#111" textLength="16.46" lengthAdjust="spacingAndGlyphs">MUT</text>
<text x="445.50" y="339.20" font-size="7.94" fill="#111" color="#111" textLength="54" lengthAdjust="spacingAndGlyphs">3-tiered grouping</text>
<rect x="446.30" y="342.70" width="4.40" height="4.40" fill="#1e7f45"/>
<text x="453.90" y="347.60" font-size="7.94" fill="#111" color="#111" textLength="23.03" lengthAdjust="spacingAndGlyphs">Go−go</text>
<rect x="446.30" y="352.70" width="4.40" height="4.40" fill="#2a6db5"/>
<text x="453.90" y="357.60" font-size="7.94" fill="#111" color="#111" textLength="29.36" lengthAdjust="spacingAndGlyphs">Slow−go</text>
<rect x="446.30" y="362.10" width="4.40" height="4.40" fill="#b52a2a"/>
<text x="453.90" y="367.00" font-size="7.94" fill="#111" color="#111" textLength="22.61" lengthAdjust="spacingAndGlyphs">No−go</text>
<rect x="446.30" y="389.10" width="4.40" height="4.40" fill="#bfe3d8"/>
<text x="453.90" y="394.00" font-size="7.94" fill="#111" color="#111" textLength="9.72" lengthAdjust="spacingAndGlyphs">No</text>
<rect x="446.30" y="399.10" width="4.40" height="4.40" fill="#1f7a52"/>
<text x="453.90" y="404.00" font-size="7.94" fill="#111" color="#111" textLength="12.4" lengthAdjust="spacingAndGlyphs">Yes</text>
<rect x="446.30" y="426.30" width="4.40" height="4.40" fill="#f3c0b4"/>
<text x="453.90" y="431.20" font-size="7.94" fill="#111" color="#111" textLength="33.59" lengthAdjust="spacingAndGlyphs">Non−poor</text>
<rect x="446.30" y="435.40" width="4.40" height="4.40" fill="#a52a2a"/>
<text x="453.90" y="440.30" font-size="7.94" fill="#111" color="#111" textLength="16.05" lengthAdjust="spacingAndGlyphs">Poor</text>
<text x="445.50" y="385.10" font-size="7.94" fill="#111" color="#111" textLength="15.2" lengthAdjust="spacingAndGlyphs">CBF</text>
<text x="445.50" y="421.60" font-size="7.94" fill="#111" color="#111" textLength="50.5" lengthAdjust="spacingAndGlyphs">Cytogenetic risk</text>
<text x="0.30" y="471.60" font-size="11.2" fill="#000" color="#000" font-weight="bold" style="stroke-width:0.5px">C</text>
<line x1="40.60" y1="472.00" x2="40.60" y2="566.50" stroke="#111" stroke-width="1.1"/>
<line x1="40.60" y1="566.50" x2="240.60" y2="566.50" stroke="#111" stroke-width="1.1"/>
<line x1="37.60" y1="476.00" x2="40.60" y2="476.00" stroke="#111" stroke-width="1"/>
<text x="34.50" y="478.70" font-size="7.94" fill="#111" color="#111" text-anchor="end" textLength="19.44" lengthAdjust="spacingAndGlyphs">100%</text>
<line x1="37.60" y1="498.62" x2="40.60" y2="498.62" stroke="#111" stroke-width="1"/>
<text x="34.50" y="501.32" font-size="7.94" fill="#111" color="#111" text-anchor="end" textLength="15.21" lengthAdjust="spacingAndGlyphs">75%</text>
<line x1="37.60" y1="521.25" x2="40.60" y2="521.25" stroke="#111" stroke-width="1"/>
<text x="34.50" y="523.95" font-size="7.94" fill="#111" color="#111" text-anchor="end" textLength="15.21" lengthAdjust="spacingAndGlyphs">50%</text>
<line x1="37.60" y1="543.88" x2="40.60" y2="543.88" stroke="#111" stroke-width="1"/>
<text x="34.50" y="546.58" font-size="7.94" fill="#111" color="#111" text-anchor="end" textLength="15.21" lengthAdjust="spacingAndGlyphs">25%</text>
<line x1="37.60" y1="566.50" x2="40.60" y2="566.50" stroke="#111" stroke-width="1"/>
<text x="34.50" y="569.20" font-size="7.94" fill="#111" color="#111" text-anchor="end" textLength="10.98" lengthAdjust="spacingAndGlyphs">0%</text>
<line x1="40.60" y1="566.50" x2="40.60" y2="569.50" stroke="#111" stroke-width="1"/>
<text x="40.60" y="578.00" font-size="7.94" fill="#111" color="#111" text-anchor="middle" textLength="4.23" lengthAdjust="spacingAndGlyphs">0</text>
<line x1="56.65" y1="566.50" x2="56.65" y2="569.50" stroke="#111" stroke-width="1"/>
<text x="56.65" y="578.00" font-size="7.94" fill="#111" color="#111" text-anchor="middle" textLength="4.23" lengthAdjust="spacingAndGlyphs">6</text>
<line x1="72.70" y1="566.50" x2="72.70" y2="569.50" stroke="#111" stroke-width="1"/>
<text x="72.70" y="578.00" font-size="7.94" fill="#111" color="#111" text-anchor="middle" textLength="8.45" lengthAdjust="spacingAndGlyphs">12</text>
<line x1="88.75" y1="566.50" x2="88.75" y2="569.50" stroke="#111" stroke-width="1"/>
<text x="88.75" y="578.00" font-size="7.94" fill="#111" color="#111" text-anchor="middle" textLength="8.45" lengthAdjust="spacingAndGlyphs">18</text>
<line x1="104.80" y1="566.50" x2="104.80" y2="569.50" stroke="#111" stroke-width="1"/>
<text x="104.80" y="578.00" font-size="7.94" fill="#111" color="#111" text-anchor="middle" textLength="8.45" lengthAdjust="spacingAndGlyphs">24</text>
<line x1="120.85" y1="566.50" x2="120.85" y2="569.50" stroke="#111" stroke-width="1"/>
<text x="120.85" y="578.00" font-size="7.94" fill="#111" color="#111" text-anchor="middle" textLength="8.45" lengthAdjust="spacingAndGlyphs">30</text>
<line x1="136.90" y1="566.50" x2="136.90" y2="569.50" stroke="#111" stroke-width="1"/>
<text x="136.90" y="578.00" font-size="7.94" fill="#111" color="#111" text-anchor="middle" textLength="8.45" lengthAdjust="spacingAndGlyphs">36</text>
<line x1="152.95" y1="566.50" x2="152.95" y2="569.50" stroke="#111" stroke-width="1"/>
<text x="152.95" y="578.00" font-size="7.94" fill="#111" color="#111" text-anchor="middle" textLength="8.45" lengthAdjust="spacingAndGlyphs">42</text>
<line x1="169.00" y1="566.50" x2="169.00" y2="569.50" stroke="#111" stroke-width="1"/>
<text x="169.00" y="578.00" font-size="7.94" fill="#111" color="#111" text-anchor="middle" textLength="8.45" lengthAdjust="spacingAndGlyphs">48</text>
<line x1="185.05" y1="566.50" x2="185.05" y2="569.50" stroke="#111" stroke-width="1"/>
<text x="185.05" y="578.00" font-size="7.94" fill="#111" color="#111" text-anchor="middle" textLength="8.45" lengthAdjust="spacingAndGlyphs">54</text>
<line x1="201.10" y1="566.50" x2="201.10" y2="569.50" stroke="#111" stroke-width="1"/>
<text x="201.10" y="578.00" font-size="7.94" fill="#111" color="#111" text-anchor="middle" textLength="8.45" lengthAdjust="spacingAndGlyphs">60</text>
<line x1="217.15" y1="566.50" x2="217.15" y2="569.50" stroke="#111" stroke-width="1"/>
<text x="217.15" y="578.00" font-size="7.94" fill="#111" color="#111" text-anchor="middle" textLength="8.45" lengthAdjust="spacingAndGlyphs">66</text>
<line x1="233.20" y1="566.50" x2="233.20" y2="569.50" stroke="#111" stroke-width="1"/>
<text x="233.20" y="578.00" font-size="7.94" fill="#111" color="#111" text-anchor="middle" textLength="8.45" lengthAdjust="spacingAndGlyphs">72</text>
<text x="140.70" y="590.70" font-size="9.2" fill="#111" color="#111" text-anchor="middle" font-weight="bold" textLength="21" lengthAdjust="spacingAndGlyphs">Months</text>
<text transform="translate(6.90,519.7) rotate(-90)" font-size="8.8" font-weight="bold" text-anchor="middle" fill="#111" color="#111" textLength="75.6" lengthAdjust="spacingAndGlyphs">Overall survival probability</text>
<path d="M40.60 476.00 L41.05 476.00 L41.05 477.85 L41.50 477.85 L41.50 479.70 L42.60 479.70 L42.60 480.50 L44.15 480.50 L44.15 482.40 L45.70 482.40 L45.70 484.30 L49.50 484.30 L49.50 486.20 L53.40 486.20 L53.40 488.50 L55.00 488.50 L55.00 490.10 L59.30 490.10 L60.30 490.10 L60.30 492.00 L61.25 492.00 L61.25 493.70 L62.20 493.70 L62.20 495.40 L63.70 495.40 L63.70 496.80 L67.50 496.80 L67.50 497.80 L70.40 497.80 L70.40 499.20 L74.20 499.20 L74.20 500.70 L76.60 500.70 L76.60 502.60 L79.00 502.60 L79.00 504.00 L81.00 504.00 L81.00 505.50 L81.95 505.50 L81.95 507.15 L82.90 507.15 L82.90 508.80 L83.80 508.80 L83.80 510.30 L92.50 510.30 L93.50 510.30 L93.50 512.80 L241.50 512.80" stroke="#5cba6a" stroke-width="1.45" fill="none" stroke-linejoin="miter"/>
<line x1="98.80" y1="511.00" x2="98.80" y2="514.60" stroke="#2f7a3a" stroke-width="1.0"/>
<line x1="102.70" y1="511.00" x2="102.70" y2="514.60" stroke="#2f7a3a" stroke-width="1.0"/>
<line x1="105.20" y1="511.00" x2="105.20" y2="514.60" stroke="#2f7a3a" stroke-width="1.0"/>
<line x1="108.00" y1="511.00" x2="108.00" y2="514.60" stroke="#2f7a3a" stroke-width="1.0"/>
<line x1="110.40" y1="511.00" x2="110.40" y2="514.60" stroke="#2f7a3a" stroke-width="1.0"/>
<line x1="113.50" y1="511.00" x2="113.50" y2="514.60" stroke="#2f7a3a" stroke-width="1.0"/>
<line x1="117.30" y1="511.00" x2="117.30" y2="514.60" stroke="#2f7a3a" stroke-width="1.0"/>
<line x1="121.00" y1="511.00" x2="121.00" y2="514.60" stroke="#2f7a3a" stroke-width="1.0"/>
<line x1="125.00" y1="511.00" x2="125.00" y2="514.60" stroke="#2f7a3a" stroke-width="1.0"/>
<line x1="128.50" y1="511.00" x2="128.50" y2="514.60" stroke="#2f7a3a" stroke-width="1.0"/>
<line x1="134.30" y1="511.00" x2="134.30" y2="514.60" stroke="#2f7a3a" stroke-width="1.0"/>
<line x1="140.70" y1="511.00" x2="140.70" y2="514.60" stroke="#2f7a3a" stroke-width="1.0"/>
<line x1="146.50" y1="511.00" x2="146.50" y2="514.60" stroke="#2f7a3a" stroke-width="1.0"/>
<line x1="159.60" y1="511.00" x2="159.60" y2="514.60" stroke="#2f7a3a" stroke-width="1.0"/>
<line x1="183.20" y1="511.00" x2="183.20" y2="514.60" stroke="#2f7a3a" stroke-width="1.0"/>
<line x1="196.80" y1="511.00" x2="196.80" y2="514.60" stroke="#2f7a3a" stroke-width="1.0"/>
<line x1="207.90" y1="511.00" x2="207.90" y2="514.60" stroke="#2f7a3a" stroke-width="1.0"/>
<line x1="241.00" y1="511.00" x2="241.00" y2="514.60" stroke="#2f7a3a" stroke-width="1.0"/>
<line x1="89.60" y1="508.50" x2="89.60" y2="512.10" stroke="#2f7a3a" stroke-width="1.0"/>
<line x1="91.20" y1="508.50" x2="91.20" y2="512.10" stroke="#2f7a3a" stroke-width="1.0"/>
<path d="M40.60 476.00 L41.40 476.00 L41.40 478.00 L42.20 478.00 L42.20 480.00 L43.80 480.00 L43.80 482.00 L45.30 482.00 L45.30 484.30 L45.37 484.30 L45.37 486.37 L45.43 486.37 L45.43 488.43 L45.50 488.43 L45.50 490.50 L49.50 490.50 L49.50 490.80 L50.30 490.80 L50.30 491.60 L53.40 491.60 L53.40 493.20 L56.90 493.20 L56.90 494.40 L58.80 494.40 L58.80 496.80 L60.80 496.80 L60.80 499.20 L62.70 499.20 L62.70 501.20 L64.60 501.20 L64.60 503.00 L67.50 503.00 L67.50 505.00 L70.40 505.00 L70.40 506.40 L73.30 506.40 L73.30 506.90 L75.20 506.90 L75.20 508.80 L78.10 508.80 L78.10 511.70 L80.50 511.70 L80.50 513.70 L81.90 513.70 L81.90 515.60 L82.40 515.60 L82.40 517.30 L82.90 517.30 L82.90 519.00 L93.50 519.00 L94.90 519.00 L94.90 521.30 L96.80 521.30 L96.80 523.80 L98.80 523.80 L98.80 525.20 L100.70 525.20 L100.70 527.10 L102.10 527.10 L102.10 530.00 L102.60 530.00 L102.60 531.90 L103.10 531.90 L103.10 533.80 L197.60 533.80" stroke="#1f4278" stroke-width="1.45" fill="none" stroke-linejoin="miter"/>
<line x1="108.80" y1="532.00" x2="108.80" y2="535.60" stroke="#152a4a" stroke-width="1.0"/>
<line x1="112.70" y1="532.00" x2="112.70" y2="535.60" stroke="#152a4a" stroke-width="1.0"/>
<line x1="126.40" y1="532.00" x2="126.40" y2="535.60" stroke="#152a4a" stroke-width="1.0"/>
<line x1="138.10" y1="532.00" x2="138.10" y2="535.60" stroke="#152a4a" stroke-width="1.0"/>
<line x1="153.20" y1="532.00" x2="153.20" y2="535.60" stroke="#152a4a" stroke-width="1.0"/>
<line x1="165.40" y1="532.00" x2="165.40" y2="535.60" stroke="#152a4a" stroke-width="1.0"/>
<line x1="177.30" y1="532.00" x2="177.30" y2="535.60" stroke="#152a4a" stroke-width="1.0"/>
<line x1="189.50" y1="532.00" x2="189.50" y2="535.60" stroke="#152a4a" stroke-width="1.0"/>
<line x1="197.60" y1="532.00" x2="197.60" y2="535.60" stroke="#152a4a" stroke-width="1.0"/>
<line x1="88.00" y1="517.10" x2="88.00" y2="520.70" stroke="#152a4a" stroke-width="1.0"/>
<line x1="91.20" y1="517.10" x2="91.20" y2="520.70" stroke="#152a4a" stroke-width="1.0"/>
<path d="M40.60 476.00 L40.60 488.60 L42.30 488.60 L42.30 496.50 L47.60 496.50 L47.60 503.70 L49.40 503.70 L49.40 524.30 L52.60 524.30 L52.60 531.40 L59.80 531.40 L59.80 538.50 L65.30 538.50 L65.30 545.70 L76.40 545.70 L76.40 552.80 L84.30 552.80 L84.30 559.40 L119.40 559.40" stroke="#bb2d4d" stroke-width="1.45" fill="none" stroke-linejoin="miter"/>
<line x1="119.40" y1="557.60" x2="119.40" y2="561.20" stroke="#7a1a30" stroke-width="1.0"/>
<line x1="128.90" y1="480.60" x2="136.90" y2="480.60" stroke="#5cba6a" stroke-width="1.1"/>
<line x1="132.90" y1="479.00" x2="132.90" y2="482.20" stroke="#5cba6a" stroke-width="0.9"/>
<text x="139.60" y="483.30" font-size="7.94" fill="#111" color="#111" textLength="48.58" lengthAdjust="spacingAndGlyphs">Go−go (N=56)</text>
<line x1="128.90" y1="490.95" x2="136.90" y2="490.95" stroke="#1f4278" stroke-width="1.1"/>
<line x1="132.90" y1="489.35" x2="132.90" y2="492.55" stroke="#1f4278" stroke-width="0.9"/>
<text x="139.60" y="493.65" font-size="7.94" fill="#111" color="#111" textLength="54.92" lengthAdjust="spacingAndGlyphs">Slow−go (N=61)</text>
<line x1="128.90" y1="501.30" x2="136.90" y2="501.30" stroke="#bb2d4d" stroke-width="1.1"/>
<line x1="132.90" y1="499.70" x2="132.90" y2="502.90" stroke="#bb2d4d" stroke-width="0.9"/>
<text x="139.60" y="504.00" font-size="7.94" fill="#111" color="#111" textLength="48.16" lengthAdjust="spacingAndGlyphs">No−go (N=13)</text>
<path d="M197.60 474.8 L199.40 474.8 L199.40 488.6 L197.60 488.6" stroke="#222" stroke-width="0.9" fill="none"/>
<path d="M197.60 492.2 L199.40 492.2 L199.40 505.2 L197.60 505.2" stroke="#222" stroke-width="0.9" fill="none"/>
<text x="201.60" y="484.80" font-size="7.6" fill="#111" color="#111"><tspan font-style="italic">P</tspan>=0.10</text>
<text x="201.60" y="502.20" font-size="7.6" fill="#111" color="#111"><tspan font-style="italic">P</tspan>=6.6×10<tspan dy="-3" font-size="5.5">−4</tspan></text>
<text x="38.00" y="601.20" font-size="7.94" fill="#111" color="#111" textLength="49.41" lengthAdjust="spacingAndGlyphs">Number at risk</text>
<text x="31.30" y="610.30" font-size="7.94" fill="#6cc070" color="#6cc070" text-anchor="end" textLength="23.03" lengthAdjust="spacingAndGlyphs">Go−go</text>
<text x="40.60" y="610.30" font-size="7.94" fill="#111" color="#111" text-anchor="middle" textLength="8.45" lengthAdjust="spacingAndGlyphs">56</text>
<text x="56.65" y="610.30" font-size="7.94" fill="#111" color="#111" text-anchor="middle" textLength="8.45" lengthAdjust="spacingAndGlyphs">45</text>
<text x="72.70" y="610.30" font-size="7.94" fill="#111" color="#111" text-anchor="middle" textLength="8.45" lengthAdjust="spacingAndGlyphs">37</text>
<text x="88.75" y="610.30" font-size="7.94" fill="#111" color="#111" text-anchor="middle" textLength="8.45" lengthAdjust="spacingAndGlyphs">25</text>
<text x="104.80" y="610.30" font-size="7.94" fill="#111" color="#111" text-anchor="middle" textLength="8.45" lengthAdjust="spacingAndGlyphs">21</text>
<text x="120.85" y="610.30" font-size="7.94" fill="#111" color="#111" text-anchor="middle" textLength="8.45" lengthAdjust="spacingAndGlyphs">14</text>
<text x="136.90" y="610.30" font-size="7.94" fill="#111" color="#111" text-anchor="middle" textLength="4.23" lengthAdjust="spacingAndGlyphs">7</text>
<text x="152.95" y="610.30" font-size="7.94" fill="#111" color="#111" text-anchor="middle" textLength="4.23" lengthAdjust="spacingAndGlyphs">5</text>
<text x="169.00" y="610.30" font-size="7.94" fill="#111" color="#111" text-anchor="middle" textLength="4.23" lengthAdjust="spacingAndGlyphs">4</text>
<text x="185.05" y="610.30" font-size="7.94" fill="#111" color="#111" text-anchor="middle" textLength="4.23" lengthAdjust="spacingAndGlyphs">3</text>
<text x="201.10" y="610.30" font-size="7.94" fill="#111" color="#111" text-anchor="middle" textLength="4.23" lengthAdjust="spacingAndGlyphs">2</text>
<text x="217.15" y="610.30" font-size="7.94" fill="#111" color="#111" text-anchor="middle" textLength="4.23" lengthAdjust="spacingAndGlyphs">1</text>
<text x="233.20" y="610.30" font-size="7.94" fill="#111" color="#111" text-anchor="middle" textLength="4.23" lengthAdjust="spacingAndGlyphs">1</text>
<text x="31.30" y="619.70" font-size="7.94" fill="#3d80c0" color="#3d80c0" text-anchor="end" textLength="29.36" lengthAdjust="spacingAndGlyphs">Slow−go</text>
<text x="40.60" y="619.70" font-size="7.94" fill="#111" color="#111" text-anchor="middle" textLength="8.45" lengthAdjust="spacingAndGlyphs">61</text>
<text x="56.65" y="619.70" font-size="7.94" fill="#111" color="#111" text-anchor="middle" textLength="8.45" lengthAdjust="spacingAndGlyphs">46</text>
<text x="72.70" y="619.70" font-size="7.94" fill="#111" color="#111" text-anchor="middle" textLength="8.45" lengthAdjust="spacingAndGlyphs">37</text>
<text x="88.75" y="619.70" font-size="7.94" fill="#111" color="#111" text-anchor="middle" textLength="8.45" lengthAdjust="spacingAndGlyphs">22</text>
<text x="104.80" y="619.70" font-size="7.94" fill="#111" color="#111" text-anchor="middle" textLength="4.23" lengthAdjust="spacingAndGlyphs">9</text>
<text x="120.85" y="619.70" font-size="7.94" fill="#111" color="#111" text-anchor="middle" textLength="4.23" lengthAdjust="spacingAndGlyphs">7</text>
<text x="136.90" y="619.70" font-size="7.94" fill="#111" color="#111" text-anchor="middle" textLength="4.23" lengthAdjust="spacingAndGlyphs">5</text>
<text x="152.95" y="619.70" font-size="7.94" fill="#111" color="#111" text-anchor="middle" textLength="4.23" lengthAdjust="spacingAndGlyphs">4</text>
<text x="169.00" y="619.70" font-size="7.94" fill="#111" color="#111" text-anchor="middle" textLength="4.23" lengthAdjust="spacingAndGlyphs">2</text>
<text x="185.05" y="619.70" font-size="7.94" fill="#111" color="#111" text-anchor="middle" textLength="4.23" lengthAdjust="spacingAndGlyphs">1</text>
<text x="201.10" y="619.70" font-size="7.94" fill="#111" color="#111" text-anchor="middle" textLength="4.23" lengthAdjust="spacingAndGlyphs">0</text>
<text x="217.15" y="619.70" font-size="7.94" fill="#111" color="#111" text-anchor="middle" textLength="4.23" lengthAdjust="spacingAndGlyphs">0</text>
<text x="233.20" y="619.70" font-size="7.94" fill="#111" color="#111" text-anchor="middle" textLength="4.23" lengthAdjust="spacingAndGlyphs">0</text>
<text x="31.30" y="629.10" font-size="7.94" fill="#e0566e" color="#e0566e" text-anchor="end" textLength="22.61" lengthAdjust="spacingAndGlyphs">No−go</text>
<text x="40.60" y="629.10" font-size="7.94" fill="#111" color="#111" text-anchor="middle" textLength="8.45" lengthAdjust="spacingAndGlyphs">13</text>
<text x="56.65" y="629.10" font-size="7.94" fill="#111" color="#111" text-anchor="middle" textLength="4.23" lengthAdjust="spacingAndGlyphs">5</text>
<text x="72.70" y="629.10" font-size="7.94" fill="#111" color="#111" text-anchor="middle" textLength="4.23" lengthAdjust="spacingAndGlyphs">3</text>
<text x="88.75" y="629.10" font-size="7.94" fill="#111" color="#111" text-anchor="middle" textLength="4.23" lengthAdjust="spacingAndGlyphs">1</text>
<text x="104.80" y="629.10" font-size="7.94" fill="#111" color="#111" text-anchor="middle" textLength="4.23" lengthAdjust="spacingAndGlyphs">1</text>
<text x="120.85" y="629.10" font-size="7.94" fill="#111" color="#111" text-anchor="middle" textLength="4.23" lengthAdjust="spacingAndGlyphs">0</text>
<text x="136.90" y="629.10" font-size="7.94" fill="#111" color="#111" text-anchor="middle" textLength="4.23" lengthAdjust="spacingAndGlyphs">0</text>
<text x="152.95" y="629.10" font-size="7.94" fill="#111" color="#111" text-anchor="middle" textLength="4.23" lengthAdjust="spacingAndGlyphs">0</text>
<text x="169.00" y="629.10" font-size="7.94" fill="#111" color="#111" text-anchor="middle" textLength="4.23" lengthAdjust="spacingAndGlyphs">0</text>
<text x="185.05" y="629.10" font-size="7.94" fill="#111" color="#111" text-anchor="middle" textLength="4.23" lengthAdjust="spacingAndGlyphs">0</text>
<text x="201.10" y="629.10" font-size="7.94" fill="#111" color="#111" text-anchor="middle" textLength="4.23" lengthAdjust="spacingAndGlyphs">0</text>
<text x="217.15" y="629.10" font-size="7.94" fill="#111" color="#111" text-anchor="middle" textLength="4.23" lengthAdjust="spacingAndGlyphs">0</text>
<text x="233.20" y="629.10" font-size="7.94" fill="#111" color="#111" text-anchor="middle" textLength="4.23" lengthAdjust="spacingAndGlyphs">0</text>
<text x="278.30" y="471.60" font-size="11.2" fill="#000" color="#000" font-weight="bold" style="stroke-width:0.5px">D</text>
<line x1="318.60" y1="472.00" x2="318.60" y2="566.50" stroke="#111" stroke-width="1.1"/>
<line x1="318.60" y1="566.50" x2="520.00" y2="566.50" stroke="#111" stroke-width="1.1"/>
<line x1="315.60" y1="476.00" x2="318.60" y2="476.00" stroke="#111" stroke-width="1"/>
<text x="312.50" y="478.70" font-size="7.94" fill="#111" color="#111" text-anchor="end" textLength="19.44" lengthAdjust="spacingAndGlyphs">100%</text>
<line x1="315.60" y1="498.62" x2="318.60" y2="498.62" stroke="#111" stroke-width="1"/>
<text x="312.50" y="501.32" font-size="7.94" fill="#111" color="#111" text-anchor="end" textLength="15.21" lengthAdjust="spacingAndGlyphs">75%</text>
<line x1="315.60" y1="521.25" x2="318.60" y2="521.25" stroke="#111" stroke-width="1"/>
<text x="312.50" y="523.95" font-size="7.94" fill="#111" color="#111" text-anchor="end" textLength="15.21" lengthAdjust="spacingAndGlyphs">50%</text>
<line x1="315.60" y1="543.88" x2="318.60" y2="543.88" stroke="#111" stroke-width="1"/>
<text x="312.50" y="546.58" font-size="7.94" fill="#111" color="#111" text-anchor="end" textLength="15.21" lengthAdjust="spacingAndGlyphs">25%</text>
<line x1="315.60" y1="566.50" x2="318.60" y2="566.50" stroke="#111" stroke-width="1"/>
<text x="312.50" y="569.20" font-size="7.94" fill="#111" color="#111" text-anchor="end" textLength="10.98" lengthAdjust="spacingAndGlyphs">0%</text>
<line x1="318.60" y1="566.50" x2="318.60" y2="569.50" stroke="#111" stroke-width="1"/>
<text x="318.60" y="578.00" font-size="7.94" fill="#111" color="#111" text-anchor="middle" textLength="4.23" lengthAdjust="spacingAndGlyphs">0</text>
<line x1="334.65" y1="566.50" x2="334.65" y2="569.50" stroke="#111" stroke-width="1"/>
<text x="334.65" y="578.00" font-size="7.94" fill="#111" color="#111" text-anchor="middle" textLength="4.23" lengthAdjust="spacingAndGlyphs">6</text>
<line x1="350.70" y1="566.50" x2="350.70" y2="569.50" stroke="#111" stroke-width="1"/>
<text x="350.70" y="578.00" font-size="7.94" fill="#111" color="#111" text-anchor="middle" textLength="8.45" lengthAdjust="spacingAndGlyphs">12</text>
<line x1="366.75" y1="566.50" x2="366.75" y2="569.50" stroke="#111" stroke-width="1"/>
<text x="366.75" y="578.00" font-size="7.94" fill="#111" color="#111" text-anchor="middle" textLength="8.45" lengthAdjust="spacingAndGlyphs">18</text>
<line x1="382.80" y1="566.50" x2="382.80" y2="569.50" stroke="#111" stroke-width="1"/>
<text x="382.80" y="578.00" font-size="7.94" fill="#111" color="#111" text-anchor="middle" textLength="8.45" lengthAdjust="spacingAndGlyphs">24</text>
<line x1="398.85" y1="566.50" x2="398.85" y2="569.50" stroke="#111" stroke-width="1"/>
<text x="398.85" y="578.00" font-size="7.94" fill="#111" color="#111" text-anchor="middle" textLength="8.45" lengthAdjust="spacingAndGlyphs">30</text>
<line x1="414.90" y1="566.50" x2="414.90" y2="569.50" stroke="#111" stroke-width="1"/>
<text x="414.90" y="578.00" font-size="7.94" fill="#111" color="#111" text-anchor="middle" textLength="8.45" lengthAdjust="spacingAndGlyphs">36</text>
<line x1="430.95" y1="566.50" x2="430.95" y2="569.50" stroke="#111" stroke-width="1"/>
<text x="430.95" y="578.00" font-size="7.94" fill="#111" color="#111" text-anchor="middle" textLength="8.45" lengthAdjust="spacingAndGlyphs">42</text>
<line x1="447.00" y1="566.50" x2="447.00" y2="569.50" stroke="#111" stroke-width="1"/>
<text x="447.00" y="578.00" font-size="7.94" fill="#111" color="#111" text-anchor="middle" textLength="8.45" lengthAdjust="spacingAndGlyphs">48</text>
<line x1="463.05" y1="566.50" x2="463.05" y2="569.50" stroke="#111" stroke-width="1"/>
<text x="463.05" y="578.00" font-size="7.94" fill="#111" color="#111" text-anchor="middle" textLength="8.45" lengthAdjust="spacingAndGlyphs">54</text>
<line x1="479.10" y1="566.50" x2="479.10" y2="569.50" stroke="#111" stroke-width="1"/>
<text x="479.10" y="578.00" font-size="7.94" fill="#111" color="#111" text-anchor="middle" textLength="8.45" lengthAdjust="spacingAndGlyphs">60</text>
<line x1="495.15" y1="566.50" x2="495.15" y2="569.50" stroke="#111" stroke-width="1"/>
<text x="495.15" y="578.00" font-size="7.94" fill="#111" color="#111" text-anchor="middle" textLength="8.45" lengthAdjust="spacingAndGlyphs">66</text>
<line x1="511.20" y1="566.50" x2="511.20" y2="569.50" stroke="#111" stroke-width="1"/>
<text x="511.20" y="578.00" font-size="7.94" fill="#111" color="#111" text-anchor="middle" textLength="8.45" lengthAdjust="spacingAndGlyphs">72</text>
<text x="418.70" y="590.70" font-size="9.2" fill="#111" color="#111" text-anchor="middle" font-weight="bold" textLength="21" lengthAdjust="spacingAndGlyphs">Months</text>
<text transform="translate(284.90,519.7) rotate(-90)" font-size="8.8" font-weight="bold" text-anchor="middle" fill="#111" color="#111" textLength="75.6" lengthAdjust="spacingAndGlyphs">Overall survival probability</text>
<path d="M318.30 475.80 L318.80 475.80 L318.80 477.97 L319.30 477.97 L319.30 480.13 L319.80 480.13 L319.80 482.30 L321.40 482.30 L321.40 485.40 L322.90 485.40 L322.90 487.70 L327.50 487.70 L329.10 487.70 L329.10 489.70 L331.40 489.70 L331.80 489.70 L331.80 491.40 L332.20 491.40 L332.20 493.10 L336.00 493.10 L336.00 493.80 L338.30 493.80 L338.30 496.90 L339.45 496.90 L339.45 498.85 L340.60 498.85 L340.60 500.80 L342.20 500.80 L342.20 503.10 L344.50 503.10 L344.50 504.60 L346.80 504.60 L346.80 506.20 L354.50 506.20 L355.65 506.20 L355.65 508.10 L356.80 508.10 L356.80 510.00 L359.10 510.00 L359.10 512.30 L359.85 512.30 L359.85 514.25 L360.60 514.25 L360.60 516.20 L363.70 516.20 L363.70 517.40 L369.10 517.40 L369.85 517.40 L369.85 519.25 L370.60 519.25 L370.60 521.10 L520.00 521.10" stroke="#5cba6a" stroke-width="1.45" fill="none" stroke-linejoin="miter"/>
<line x1="376.90" y1="519.30" x2="376.90" y2="522.90" stroke="#2f7a3a" stroke-width="1.0"/>
<line x1="383.80" y1="519.30" x2="383.80" y2="522.90" stroke="#2f7a3a" stroke-width="1.0"/>
<line x1="386.90" y1="519.30" x2="386.90" y2="522.90" stroke="#2f7a3a" stroke-width="1.0"/>
<line x1="394.60" y1="519.30" x2="394.60" y2="522.90" stroke="#2f7a3a" stroke-width="1.0"/>
<line x1="397.70" y1="519.30" x2="397.70" y2="522.90" stroke="#2f7a3a" stroke-width="1.0"/>
<line x1="400.80" y1="519.30" x2="400.80" y2="522.90" stroke="#2f7a3a" stroke-width="1.0"/>
<line x1="405.80" y1="519.30" x2="405.80" y2="522.90" stroke="#2f7a3a" stroke-width="1.0"/>
<line x1="423.80" y1="519.30" x2="423.80" y2="522.90" stroke="#2f7a3a" stroke-width="1.0"/>
<line x1="437.50" y1="519.30" x2="437.50" y2="522.90" stroke="#2f7a3a" stroke-width="1.0"/>
<line x1="475.00" y1="519.30" x2="475.00" y2="522.90" stroke="#2f7a3a" stroke-width="1.0"/>
<line x1="363.80" y1="515.60" x2="363.80" y2="519.20" stroke="#2f7a3a" stroke-width="1.0"/>
<line x1="368.60" y1="515.60" x2="368.60" y2="519.20" stroke="#2f7a3a" stroke-width="1.0"/>
<line x1="351.40" y1="504.40" x2="351.40" y2="508.00" stroke="#2f7a3a" stroke-width="1.0"/>
<path d="M318.30 475.80 L318.80 475.80 L318.80 477.97 L319.30 477.97 L319.30 480.13 L319.80 480.13 L319.80 482.30 L321.40 482.30 L321.40 485.40 L321.80 485.40 L321.80 487.70 L322.20 487.70 L322.20 490.00 L322.90 490.00 L322.90 493.10 L326.80 493.10 L334.50 493.10 L334.50 493.40 L336.80 493.40 L336.80 496.20 L337.95 496.20 L337.95 498.50 L339.10 498.50 L339.10 500.80 L340.25 500.80 L340.25 502.70 L341.40 502.70 L341.40 504.60 L343.70 504.60 L343.70 506.90 L346.00 506.90 L346.00 510.00 L346.80 510.00 L346.80 512.30 L350.60 512.30 L350.60 513.80 L352.90 513.80 L352.90 515.40 L354.45 515.40 L354.45 517.30 L356.00 517.30 L356.00 519.20 L357.55 519.20 L357.55 521.15 L359.10 521.15 L359.10 523.10 L359.60 523.10 L359.60 525.13 L360.10 525.13 L360.10 527.17 L360.60 527.17 L360.60 529.20 L369.10 529.20 L371.40 529.20 L371.40 531.50 L372.07 531.50 L372.07 533.50 L372.73 533.50 L372.73 535.50 L373.40 535.50 L373.40 537.50 L374.45 537.50 L374.45 539.40 L375.50 539.40 L375.50 541.30 L443.75 541.30" stroke="#1f4278" stroke-width="1.45" fill="none" stroke-linejoin="miter"/>
<line x1="386.10" y1="539.50" x2="386.10" y2="543.10" stroke="#152a4a" stroke-width="1.0"/>
<line x1="403.75" y1="539.50" x2="403.75" y2="543.10" stroke="#152a4a" stroke-width="1.0"/>
<line x1="415.00" y1="539.50" x2="415.00" y2="543.10" stroke="#152a4a" stroke-width="1.0"/>
<line x1="431.25" y1="539.50" x2="431.25" y2="543.10" stroke="#152a4a" stroke-width="1.0"/>
<line x1="443.75" y1="539.50" x2="443.75" y2="543.10" stroke="#152a4a" stroke-width="1.0"/>
<line x1="327.50" y1="491.40" x2="327.50" y2="495.00" stroke="#152a4a" stroke-width="1.0"/>
<line x1="332.50" y1="491.50" x2="332.50" y2="495.10" stroke="#152a4a" stroke-width="1.0"/>
<line x1="365.20" y1="527.40" x2="365.20" y2="531.00" stroke="#152a4a" stroke-width="1.0"/>
<line x1="369.50" y1="527.40" x2="369.50" y2="531.00" stroke="#152a4a" stroke-width="1.0"/>
<path d="M318.60 476.00 L318.60 488.60 L320.30 488.60 L320.30 496.50 L325.60 496.50 L325.60 503.70 L327.40 503.70 L327.40 524.30 L330.60 524.30 L330.60 531.40 L337.80 531.40 L337.80 538.50 L343.30 538.50 L343.30 545.70 L354.40 545.70 L354.40 552.80 L362.30 552.80 L362.30 559.40 L397.60 559.40" stroke="#bb2d4d" stroke-width="1.45" fill="none" stroke-linejoin="miter"/>
<line x1="397.60" y1="557.60" x2="397.60" y2="561.20" stroke="#7a1a30" stroke-width="1.0"/>
<line x1="423.75" y1="480.60" x2="431.75" y2="480.60" stroke="#5cba6a" stroke-width="1.1"/>
<line x1="427.75" y1="479.00" x2="427.75" y2="482.20" stroke="#5cba6a" stroke-width="0.9"/>
<text x="433.05" y="483.30" font-size="7.94" fill="#111" color="#111" textLength="48.58" lengthAdjust="spacingAndGlyphs">Go−go (N=39)</text>
<line x1="423.75" y1="490.95" x2="431.75" y2="490.95" stroke="#1f4278" stroke-width="1.1"/>
<line x1="427.75" y1="489.35" x2="427.75" y2="492.55" stroke="#1f4278" stroke-width="0.9"/>
<text x="433.05" y="493.65" font-size="7.94" fill="#111" color="#111" textLength="54.92" lengthAdjust="spacingAndGlyphs">Slow−go (N=41)</text>
<line x1="423.75" y1="501.30" x2="431.75" y2="501.30" stroke="#bb2d4d" stroke-width="1.1"/>
<line x1="427.75" y1="499.70" x2="427.75" y2="502.90" stroke="#bb2d4d" stroke-width="0.9"/>
<text x="433.05" y="504.00" font-size="7.94" fill="#111" color="#111" textLength="48.16" lengthAdjust="spacingAndGlyphs">No−go (N=13)</text>
<path d="M491.25 474.8 L493.05 474.8 L493.05 488.6 L491.25 488.6" stroke="#222" stroke-width="0.9" fill="none"/>
<path d="M491.25 492.2 L493.05 492.2 L493.05 505.2 L491.25 505.2" stroke="#222" stroke-width="0.9" fill="none"/>
<text x="495.25" y="484.80" font-size="7.6" fill="#111" color="#111"><tspan font-style="italic">P</tspan>=0.19</text>
<text x="495.25" y="502.20" font-size="7.6" fill="#111" color="#111"><tspan font-style="italic">P</tspan>=0.01</text>
<text x="316.00" y="601.20" font-size="7.94" fill="#111" color="#111" textLength="49.41" lengthAdjust="spacingAndGlyphs">Number at risk</text>
<text x="309.30" y="610.30" font-size="7.94" fill="#6cc070" color="#6cc070" text-anchor="end" textLength="23.03" lengthAdjust="spacingAndGlyphs">Go−go</text>
<text x="318.60" y="610.30" font-size="7.94" fill="#111" color="#111" text-anchor="middle" textLength="8.45" lengthAdjust="spacingAndGlyphs">39</text>
<text x="334.65" y="610.30" font-size="7.94" fill="#111" color="#111" text-anchor="middle" textLength="8.45" lengthAdjust="spacingAndGlyphs">30</text>
<text x="350.70" y="610.30" font-size="7.94" fill="#111" color="#111" text-anchor="middle" textLength="8.45" lengthAdjust="spacingAndGlyphs">23</text>
<text x="366.75" y="610.30" font-size="7.94" fill="#111" color="#111" text-anchor="middle" textLength="8.45" lengthAdjust="spacingAndGlyphs">15</text>
<text x="382.80" y="610.30" font-size="7.94" fill="#111" color="#111" text-anchor="middle" textLength="8.45" lengthAdjust="spacingAndGlyphs">12</text>
<text x="398.85" y="610.30" font-size="7.94" fill="#111" color="#111" text-anchor="middle" textLength="4.23" lengthAdjust="spacingAndGlyphs">8</text>
<text x="414.90" y="610.30" font-size="7.94" fill="#111" color="#111" text-anchor="middle" textLength="4.23" lengthAdjust="spacingAndGlyphs">4</text>
<text x="430.95" y="610.30" font-size="7.94" fill="#111" color="#111" text-anchor="middle" textLength="4.23" lengthAdjust="spacingAndGlyphs">3</text>
<text x="447.00" y="610.30" font-size="7.94" fill="#111" color="#111" text-anchor="middle" textLength="4.23" lengthAdjust="spacingAndGlyphs">2</text>
<text x="463.05" y="610.30" font-size="7.94" fill="#111" color="#111" text-anchor="middle" textLength="4.23" lengthAdjust="spacingAndGlyphs">2</text>
<text x="479.10" y="610.30" font-size="7.94" fill="#111" color="#111" text-anchor="middle" textLength="4.23" lengthAdjust="spacingAndGlyphs">1</text>
<text x="495.15" y="610.30" font-size="7.94" fill="#111" color="#111" text-anchor="middle" textLength="4.23" lengthAdjust="spacingAndGlyphs">1</text>
<text x="511.20" y="610.30" font-size="7.94" fill="#111" color="#111" text-anchor="middle" textLength="4.23" lengthAdjust="spacingAndGlyphs">1</text>
<text x="309.30" y="619.70" font-size="7.94" fill="#3d80c0" color="#3d80c0" text-anchor="end" textLength="29.36" lengthAdjust="spacingAndGlyphs">Slow−go</text>
<text x="318.60" y="619.70" font-size="7.94" fill="#111" color="#111" text-anchor="middle" textLength="8.45" lengthAdjust="spacingAndGlyphs">41</text>
<text x="334.65" y="619.70" font-size="7.94" fill="#111" color="#111" text-anchor="middle" textLength="8.45" lengthAdjust="spacingAndGlyphs">30</text>
<text x="350.70" y="619.70" font-size="7.94" fill="#111" color="#111" text-anchor="middle" textLength="8.45" lengthAdjust="spacingAndGlyphs">22</text>
<text x="366.75" y="619.70" font-size="7.94" fill="#111" color="#111" text-anchor="middle" textLength="7.89" lengthAdjust="spacingAndGlyphs">11</text>
<text x="382.80" y="619.70" font-size="7.94" fill="#111" color="#111" text-anchor="middle" textLength="4.23" lengthAdjust="spacingAndGlyphs">6</text>
<text x="398.85" y="619.70" font-size="7.94" fill="#111" color="#111" text-anchor="middle" textLength="4.23" lengthAdjust="spacingAndGlyphs">5</text>
<text x="414.90" y="619.70" font-size="7.94" fill="#111" color="#111" text-anchor="middle" textLength="4.23" lengthAdjust="spacingAndGlyphs">3</text>
<text x="430.95" y="619.70" font-size="7.94" fill="#111" color="#111" text-anchor="middle" textLength="4.23" lengthAdjust="spacingAndGlyphs">2</text>
<text x="447.00" y="619.70" font-size="7.94" fill="#111" color="#111" text-anchor="middle" textLength="4.23" lengthAdjust="spacingAndGlyphs">0</text>
<text x="463.05" y="619.70" font-size="7.94" fill="#111" color="#111" text-anchor="middle" textLength="4.23" lengthAdjust="spacingAndGlyphs">0</text>
<text x="479.10" y="619.70" font-size="7.94" fill="#111" color="#111" text-anchor="middle" textLength="4.23" lengthAdjust="spacingAndGlyphs">0</text>
<text x="495.15" y="619.70" font-size="7.94" fill="#111" color="#111" text-anchor="middle" textLength="4.23" lengthAdjust="spacingAndGlyphs">0</text>
<text x="511.20" y="619.70" font-size="7.94" fill="#111" color="#111" text-anchor="middle" textLength="4.23" lengthAdjust="spacingAndGlyphs">0</text>
<text x="309.30" y="629.10" font-size="7.94" fill="#e0566e" color="#e0566e" text-anchor="end" textLength="22.61" lengthAdjust="spacingAndGlyphs">No−go</text>
<text x="318.60" y="629.10" font-size="7.94" fill="#111" color="#111" text-anchor="middle" textLength="8.45" lengthAdjust="spacingAndGlyphs">13</text>
<text x="334.65" y="629.10" font-size="7.94" fill="#111" color="#111" text-anchor="middle" textLength="4.23" lengthAdjust="spacingAndGlyphs">5</text>
<text x="350.70" y="629.10" font-size="7.94" fill="#111" color="#111" text-anchor="middle" textLength="4.23" lengthAdjust="spacingAndGlyphs">3</text>
<text x="366.75" y="629.10" font-size="7.94" fill="#111" color="#111" text-anchor="middle" textLength="4.23" lengthAdjust="spacingAndGlyphs">1</text>
<text x="382.80" y="629.10" font-size="7.94" fill="#111" color="#111" text-anchor="middle" textLength="4.23" lengthAdjust="spacingAndGlyphs">1</text>
<text x="398.85" y="629.10" font-size="7.94" fill="#111" color="#111" text-anchor="middle" textLength="4.23" lengthAdjust="spacingAndGlyphs">0</text>
<text x="414.90" y="629.10" font-size="7.94" fill="#111" color="#111" text-anchor="middle" textLength="4.23" lengthAdjust="spacingAndGlyphs">0</text>
<text x="430.95" y="629.10" font-size="7.94" fill="#111" color="#111" text-anchor="middle" textLength="4.23" lengthAdjust="spacingAndGlyphs">0</text>
<text x="447.00" y="629.10" font-size="7.94" fill="#111" color="#111" text-anchor="middle" textLength="4.23" lengthAdjust="spacingAndGlyphs">0</text>
<text x="463.05" y="629.10" font-size="7.94" fill="#111" color="#111" text-anchor="middle" textLength="4.23" lengthAdjust="spacingAndGlyphs">0</text>
<text x="479.10" y="629.10" font-size="7.94" fill="#111" color="#111" text-anchor="middle" textLength="4.23" lengthAdjust="spacingAndGlyphs">0</text>
<text x="495.15" y="629.10" font-size="7.94" fill="#111" color="#111" text-anchor="middle" textLength="4.23" lengthAdjust="spacingAndGlyphs">0</text>
<text x="511.20" y="629.10" font-size="7.94" fill="#111" color="#111" text-anchor="middle" textLength="4.23" lengthAdjust="spacingAndGlyphs">0</text>
</svg>
</body></html>
